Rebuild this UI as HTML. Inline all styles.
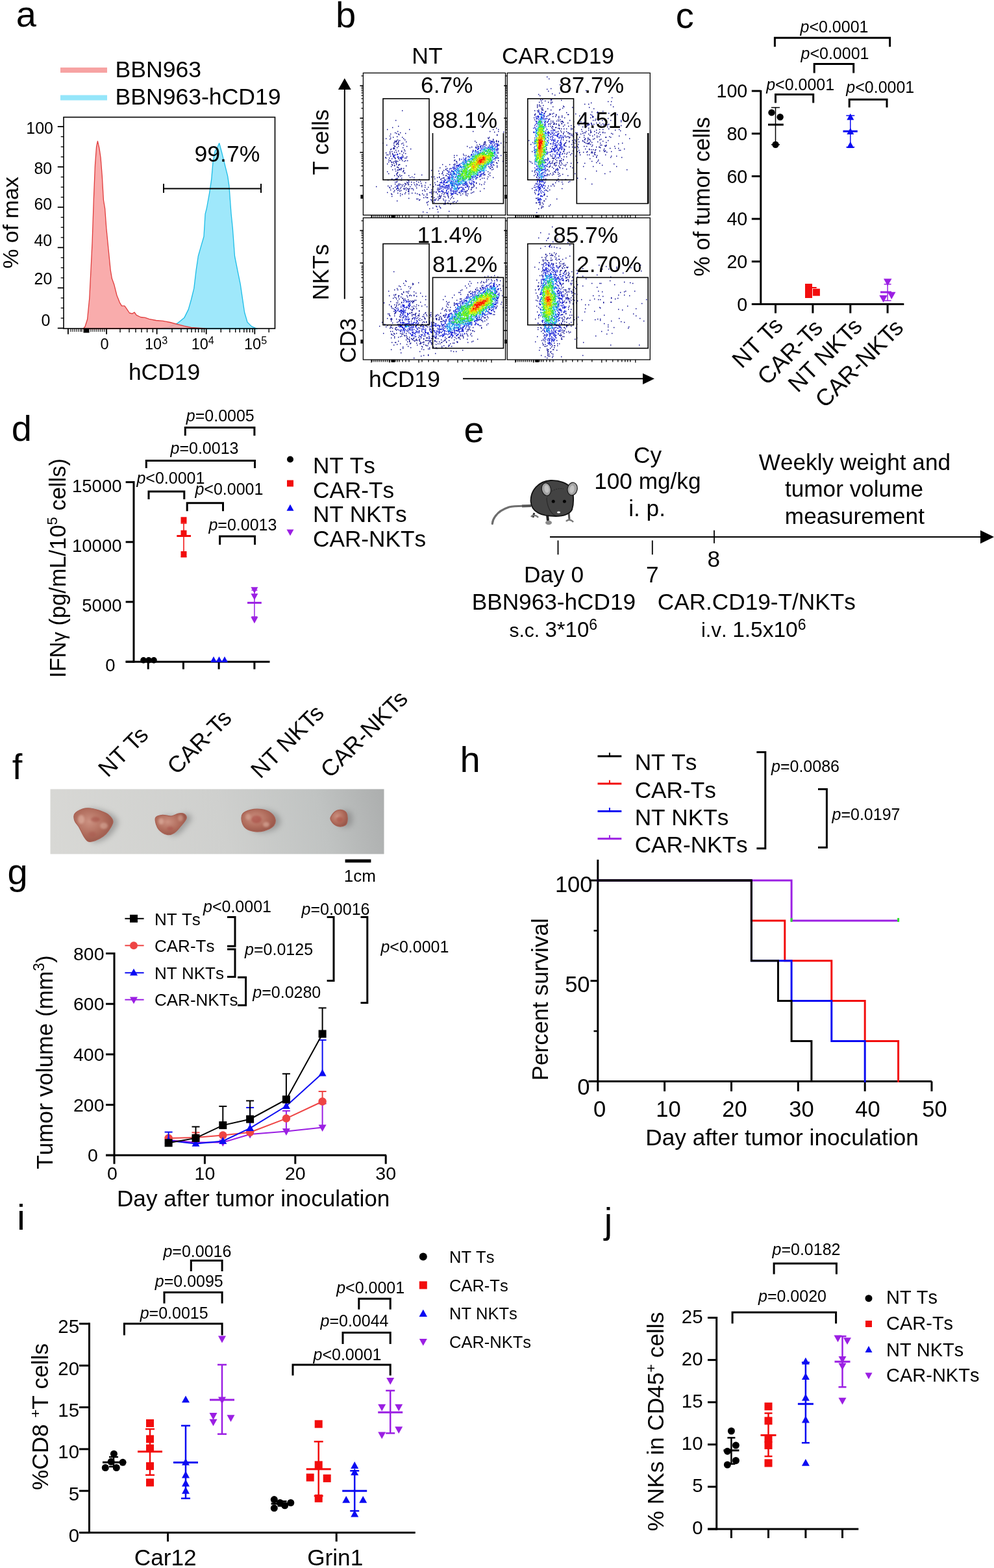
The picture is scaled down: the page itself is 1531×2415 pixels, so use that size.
<!DOCTYPE html>
<html><head><meta charset="utf-8"><style>
html,body{margin:0;padding:0;background:#fff;}
svg{display:block;}
text{font-family:"Liberation Sans", Arial, sans-serif;font-kerning:none;}
</style></head><body>
<svg width="1531" height="2415" viewBox="0 0 1531 2415">
<rect width="1531" height="2415" fill="#fff"/>
<text x="24.7" y="40.8" font-size="56" text-anchor="start" fill="#000">a</text>
<text x="516.9" y="41.5" font-size="56" text-anchor="start" fill="#000">b</text>
<text x="1040.8" y="42.7" font-size="56" text-anchor="start" fill="#000">c</text>
<text x="17.8" y="678.7" font-size="56" text-anchor="start" fill="#000">d</text>
<text x="714.6" y="680.5" font-size="56" text-anchor="start" fill="#000">e</text>
<text x="18.7" y="1200.0" font-size="56" text-anchor="start" fill="#000">f</text>
<text x="11.5" y="1362.0" font-size="56" text-anchor="start" fill="#000">g</text>
<text x="708.5" y="1188.7" font-size="56" text-anchor="start" fill="#000">h</text>
<text x="26.2" y="1893.7" font-size="56" text-anchor="start" fill="#000">i</text>
<text x="930.7" y="1899.0" font-size="56" text-anchor="start" fill="#000">j</text>
<line x1="93.0" y1="108.0" x2="165.0" y2="108.0" stroke="#f7a3a3" stroke-width="8"/>
<line x1="93.0" y1="150.6" x2="165.0" y2="150.6" stroke="#95e6fa" stroke-width="8"/>
<text x="177.5" y="118.5" font-size="35.6" text-anchor="start" fill="#000">BBN963</text>
<text x="177.5" y="160.5" font-size="35.6" text-anchor="start" fill="#000">BBN963-hCD19</text>
<path d="M242.6 506.5 L259.9 503.6 L272.9 498.2 L283.7 489.6 L290.2 476.6 L294.5 461.5 L298.8 444.2 L302.1 416.1 L305.3 394.5 L309.6 379.4 L314.0 364.3 L316.1 329.7 L318.3 321.0 L322.6 297.3 L325.8 275.6 L328.0 249.7 L331.3 232.4 L334.5 228.1 L337.7 220.5 L341.0 232.4 L345.3 249.7 L350.7 271.3 L352.9 286.5 L356.1 329.7 L358.3 351.3 L361.5 394.5 L365.8 416.1 L370.2 437.7 L373.4 459.3 L376.6 481.0 L381.0 496.1 L387.4 502.6 L396.1 506.5Z" fill="#9fe8fb" stroke="#1cbce6" stroke-width="1.3" stroke-linejoin="round"/>
<path d="M128.1 506.5 L131.0 503.0 L134.6 491.8 L137.8 459.3 L140.0 416.0 L142.1 372.9 L144.3 308.0 L146.5 254.0 L148.6 225.9 L150.4 217.3 L152.9 228.1 L155.1 243.2 L157.3 271.3 L159.4 308.0 L161.6 321.0 L163.8 351.3 L167.0 383.7 L170.2 416.1 L172.4 429.1 L175.6 437.7 L180.0 455.0 L184.3 465.8 L187.5 471.2 L191.9 471.2 L195.1 475.6 L199.4 482.0 L203.7 483.1 L207.0 481.0 L210.2 485.3 L216.7 488.5 L223.2 489.2 L229.7 491.3 L240.5 493.5 L251.3 494.4 L262.1 496.5 L272.9 499.3 L283.7 502.1 L294.5 504.3 L305.3 505.2 L316.1 506.0Z" fill="rgba(248,160,160,0.88)" stroke="#e03c3c" stroke-width="1.3" stroke-linejoin="round"/>
<rect x="98" y="180.5" width="325.5" height="325.5" fill="none" stroke="#000" stroke-width="1.6"/>
<line x1="88.8" y1="195.0" x2="98.0" y2="195.0" stroke="#000" stroke-width="1.8"/>
<line x1="93.7" y1="210.5" x2="98.0" y2="210.5" stroke="#000" stroke-width="1.3"/>
<line x1="93.7" y1="226.1" x2="98.0" y2="226.1" stroke="#000" stroke-width="1.3"/>
<line x1="93.7" y1="241.6" x2="98.0" y2="241.6" stroke="#000" stroke-width="1.3"/>
<line x1="88.8" y1="257.1" x2="98.0" y2="257.1" stroke="#000" stroke-width="1.8"/>
<line x1="93.7" y1="272.6" x2="98.0" y2="272.6" stroke="#000" stroke-width="1.3"/>
<line x1="93.7" y1="288.2" x2="98.0" y2="288.2" stroke="#000" stroke-width="1.3"/>
<line x1="93.7" y1="303.7" x2="98.0" y2="303.7" stroke="#000" stroke-width="1.3"/>
<line x1="88.8" y1="319.2" x2="98.0" y2="319.2" stroke="#000" stroke-width="1.8"/>
<line x1="93.7" y1="334.7" x2="98.0" y2="334.7" stroke="#000" stroke-width="1.3"/>
<line x1="93.7" y1="350.2" x2="98.0" y2="350.2" stroke="#000" stroke-width="1.3"/>
<line x1="93.7" y1="365.8" x2="98.0" y2="365.8" stroke="#000" stroke-width="1.3"/>
<line x1="88.8" y1="381.3" x2="98.0" y2="381.3" stroke="#000" stroke-width="1.8"/>
<line x1="93.7" y1="396.8" x2="98.0" y2="396.8" stroke="#000" stroke-width="1.3"/>
<line x1="93.7" y1="412.4" x2="98.0" y2="412.4" stroke="#000" stroke-width="1.3"/>
<line x1="93.7" y1="427.9" x2="98.0" y2="427.9" stroke="#000" stroke-width="1.3"/>
<line x1="88.8" y1="443.4" x2="98.0" y2="443.4" stroke="#000" stroke-width="1.8"/>
<line x1="93.7" y1="458.9" x2="98.0" y2="458.9" stroke="#000" stroke-width="1.3"/>
<line x1="93.7" y1="474.4" x2="98.0" y2="474.4" stroke="#000" stroke-width="1.3"/>
<line x1="93.7" y1="490.0" x2="98.0" y2="490.0" stroke="#000" stroke-width="1.3"/>
<line x1="88.8" y1="505.5" x2="98.0" y2="505.5" stroke="#000" stroke-width="1.8"/>
<text x="82.0" y="206.2" font-size="25" text-anchor="end" fill="#000">100</text>
<text x="80.2" y="267.6" font-size="25" text-anchor="end" fill="#000">80</text>
<text x="80.2" y="322.9" font-size="25" text-anchor="end" fill="#000">60</text>
<text x="80.2" y="379.2" font-size="25" text-anchor="end" fill="#000">40</text>
<text x="80.4" y="438.1" font-size="25" text-anchor="end" fill="#000">20</text>
<text x="77.3" y="501.9" font-size="25" text-anchor="end" fill="#000">0</text>
<line x1="104.9" y1="506.0" x2="104.9" y2="514.7" stroke="#000" stroke-width="1.8"/>
<line x1="164.1" y1="506.0" x2="164.1" y2="514.7" stroke="#000" stroke-width="1.8"/>
<line x1="241.6" y1="506.0" x2="241.6" y2="514.7" stroke="#000" stroke-width="1.8"/>
<line x1="317.7" y1="506.0" x2="317.7" y2="514.7" stroke="#000" stroke-width="1.8"/>
<line x1="392.3" y1="506.0" x2="392.3" y2="514.7" stroke="#000" stroke-width="1.8"/>
<line x1="185.0" y1="506.0" x2="185.0" y2="512.0" stroke="#000" stroke-width="1.4"/>
<line x1="199.0" y1="506.0" x2="199.0" y2="512.0" stroke="#000" stroke-width="1.4"/>
<line x1="209.0" y1="506.0" x2="209.0" y2="512.0" stroke="#000" stroke-width="1.4"/>
<line x1="218.0" y1="506.0" x2="218.0" y2="512.0" stroke="#000" stroke-width="1.4"/>
<line x1="226.6" y1="506.0" x2="226.6" y2="512.0" stroke="#000" stroke-width="1.4"/>
<line x1="235.4" y1="506.0" x2="235.4" y2="512.0" stroke="#000" stroke-width="1.4"/>
<line x1="265.0" y1="506.0" x2="265.0" y2="512.0" stroke="#000" stroke-width="1.4"/>
<line x1="278.9" y1="506.0" x2="278.9" y2="512.0" stroke="#000" stroke-width="1.4"/>
<line x1="288.5" y1="506.0" x2="288.5" y2="512.0" stroke="#000" stroke-width="1.4"/>
<line x1="295.0" y1="506.0" x2="295.0" y2="512.0" stroke="#000" stroke-width="1.4"/>
<line x1="301.0" y1="506.0" x2="301.0" y2="512.0" stroke="#000" stroke-width="1.4"/>
<line x1="305.6" y1="506.0" x2="305.6" y2="512.0" stroke="#000" stroke-width="1.4"/>
<line x1="311.0" y1="506.0" x2="311.0" y2="512.0" stroke="#000" stroke-width="1.4"/>
<line x1="314.4" y1="506.0" x2="314.4" y2="512.0" stroke="#000" stroke-width="1.4"/>
<line x1="340.3" y1="506.0" x2="340.3" y2="512.0" stroke="#000" stroke-width="1.4"/>
<line x1="353.9" y1="506.0" x2="353.9" y2="512.0" stroke="#000" stroke-width="1.4"/>
<line x1="362.7" y1="506.0" x2="362.7" y2="512.0" stroke="#000" stroke-width="1.4"/>
<line x1="369.2" y1="506.0" x2="369.2" y2="512.0" stroke="#000" stroke-width="1.4"/>
<line x1="375.8" y1="506.0" x2="375.8" y2="512.0" stroke="#000" stroke-width="1.4"/>
<line x1="380.2" y1="506.0" x2="380.2" y2="512.0" stroke="#000" stroke-width="1.4"/>
<line x1="384.6" y1="506.0" x2="384.6" y2="512.0" stroke="#000" stroke-width="1.4"/>
<line x1="389.0" y1="506.0" x2="389.0" y2="512.0" stroke="#000" stroke-width="1.4"/>
<line x1="414.2" y1="506.0" x2="414.2" y2="512.0" stroke="#000" stroke-width="1.4"/>
<line x1="109.0" y1="506.0" x2="109.0" y2="511.0" stroke="#000" stroke-width="1.1"/>
<line x1="112.0" y1="506.0" x2="112.0" y2="511.0" stroke="#000" stroke-width="1.1"/>
<line x1="115.0" y1="506.0" x2="115.0" y2="511.0" stroke="#000" stroke-width="1.1"/>
<line x1="118.0" y1="506.0" x2="118.0" y2="511.0" stroke="#000" stroke-width="1.1"/>
<line x1="121.0" y1="506.0" x2="121.0" y2="511.0" stroke="#000" stroke-width="1.1"/>
<line x1="124.0" y1="506.0" x2="124.0" y2="511.0" stroke="#000" stroke-width="1.1"/>
<line x1="126.0" y1="506.0" x2="126.0" y2="511.0" stroke="#000" stroke-width="1.1"/>
<line x1="140.0" y1="506.0" x2="140.0" y2="511.0" stroke="#000" stroke-width="1.1"/>
<line x1="143.0" y1="506.0" x2="143.0" y2="511.0" stroke="#000" stroke-width="1.1"/>
<line x1="146.0" y1="506.0" x2="146.0" y2="511.0" stroke="#000" stroke-width="1.1"/>
<line x1="149.0" y1="506.0" x2="149.0" y2="511.0" stroke="#000" stroke-width="1.1"/>
<line x1="152.0" y1="506.0" x2="152.0" y2="511.0" stroke="#000" stroke-width="1.1"/>
<line x1="155.0" y1="506.0" x2="155.0" y2="511.0" stroke="#000" stroke-width="1.1"/>
<line x1="158.0" y1="506.0" x2="158.0" y2="511.0" stroke="#000" stroke-width="1.1"/>
<line x1="161.0" y1="506.0" x2="161.0" y2="511.0" stroke="#000" stroke-width="1.1"/>
<rect x="128.5" y="506" width="9" height="6.5" fill="#000"/>
<text x="161.0" y="537.8" font-size="23.5" text-anchor="middle" fill="#000">0</text>
<text x="223.0" y="537.8" font-size="23.5" text-anchor="start" fill="#000">10<tspan font-size="16" dy="-8">3</tspan></text>
<text x="294.7" y="537.8" font-size="23.5" text-anchor="start" fill="#000">10<tspan font-size="16" dy="-8">4</tspan></text>
<text x="376.0" y="537.8" font-size="23.5" text-anchor="start" fill="#000">10<tspan font-size="16" dy="-8">5</tspan></text>
<text x="253.0" y="585.0" font-size="35.4" text-anchor="middle" fill="#000">hCD19</text>
<line x1="252.0" y1="290.4" x2="402.0" y2="290.4" stroke="#000" stroke-width="2"/>
<line x1="252.0" y1="283.0" x2="252.0" y2="297.0" stroke="#000" stroke-width="2"/>
<line x1="402.0" y1="283.0" x2="402.0" y2="297.0" stroke="#000" stroke-width="2"/>
<text x="350.0" y="248.8" font-size="35.6" text-anchor="middle" fill="#000">99.7%</text>
<text x="0.0" y="0.0" font-size="34" text-anchor="middle" fill="#000" transform="translate(27.5,343.0) rotate(-90)">% of max</text>
<path d="M579 287.5h1.4M589 220.5h1.4M593 242.5h1.4M594 213.5h1.4M594 235.5h1.4M594 243.5h1.4M595 223.5h1.4M595 238.5h1.4M596 199.5h1.4M596 252.5h1.4M596 264.5h1.4M596 296.5h1.4M597 238.5h1.4M597 277.5h1.4M597 286.5h1.4M598 246.5h1.4M598 249.5h1.4M598 267.5h1.4M599 243.5h1.4M599 288.5h1.4M600 209.5h1.4M600 214.5h1.4M600 233.5h1.4M600 235.5h1.4M600 237.5h1.4M600 247.5h1.4M600 289.5h1.4M601 206.5h1.4M601 212.5h1.4M601 230.5h1.4M601 240.5h1.4M601 247.5h1.4M601 292.5h1.4M602 229.5h1.4M602 249.5h1.4M602 256.5h1.4M602 286.5h1.4M602 298.5h1.4M603 233.5h1.4M603 244.5h1.4M603 250.5h1.4M603 253.5h1.4M603 275.5h1.4M603 276.5h1.4M603 299.5h1.4M603 302.5h1.4M604 196.5h1.4M604 236.5h1.4M604 237.5h1.4M604 254.5h1.4M604 261.5h1.4M605 211.5h1.4M605 228.5h1.4M605 238.5h1.4M605 249.5h1.4M605 290.5h1.4M606 220.5h1.4M606 223.5h1.4M606 227.5h1.4M606 229.5h1.4M606 251.5h1.4M606 277.5h1.4M606 295.5h1.4M607 217.5h1.4M607 219.5h1.4M607 225.5h1.4M607 228.5h1.4M607 234.5h1.4M607 242.5h1.4M607 248.5h1.4M607 254.5h1.4M607 255.5h1.4M607 270.5h1.4M607 293.5h1.4M608 204.5h1.4M608 225.5h1.4M608 238.5h1.4M608 243.5h1.4M608 244.5h1.4M608 260.5h1.4M608 276.5h1.4M608 280.5h1.4M608 283.5h1.4M608 288.5h1.4M609 185.5h1.4M609 217.5h1.4M609 218.5h1.4M609 231.5h1.4M609 247.5h1.4M609 249.5h1.4M609 250.5h1.4M609 263.5h1.4M609 275.5h1.4M610 205.5h1.4M610 216.5h1.4M610 218.5h1.4M610 221.5h1.4M610 222.5h1.4M610 234.5h1.4M610 248.5h1.4M610 251.5h1.4M610 253.5h1.4M610 268.5h1.4M610 276.5h1.4M610 280.5h1.4M610 286.5h1.4M610 291.5h1.4M611 210.5h1.4M611 227.5h1.4M611 257.5h1.4M611 266.5h1.4M611 267.5h1.4M611 270.5h1.4M611 274.5h1.4M611 275.5h1.4M611 276.5h1.4M611 279.5h1.4M611 290.5h1.4M611 309.5h1.4M612 202.5h1.4M612 215.5h1.4M612 220.5h1.4M612 221.5h1.4M612 242.5h1.4M612 248.5h1.4M612 257.5h1.4M612 261.5h1.4M612 262.5h1.4M612 265.5h1.4M612 285.5h1.4M612 293.5h1.4M612 297.5h1.4M613 194.5h1.4M613 206.5h1.4M613 217.5h1.4M613 219.5h1.4M613 222.5h1.4M613 225.5h1.4M613 232.5h1.4M613 244.5h1.4M613 254.5h1.4M613 258.5h1.4M613 271.5h1.4M613 272.5h1.4M613 283.5h1.4M613 290.5h1.4M614 207.5h1.4M614 253.5h1.4M614 261.5h1.4M614 285.5h1.4M614 292.5h1.4M615 216.5h1.4M615 236.5h1.4M615 246.5h1.4M615 253.5h1.4M615 260.5h1.4M615 261.5h1.4M615 269.5h1.4M615 283.5h1.4M615 294.5h1.4M616 204.5h1.4M616 271.5h1.4M616 290.5h1.4M616 298.5h1.4M616 301.5h1.4M617 244.5h1.4M617 259.5h1.4M617 261.5h1.4M617 277.5h1.4M617 284.5h1.4M617 288.5h1.4M617 293.5h1.4M618 221.5h1.4M618 232.5h1.4M618 233.5h1.4M618 245.5h1.4M618 259.5h1.4M618 270.5h1.4M618 274.5h1.4M618 277.5h1.4M619 170.5h1.4M619 211.5h1.4M619 238.5h1.4M619 247.5h1.4M619 286.5h1.4M619 299.5h1.4M620 220.5h1.4M620 227.5h1.4M620 240.5h1.4M620 242.5h1.4M620 264.5h1.4M620 284.5h1.4M621 213.5h1.4M621 223.5h1.4M621 235.5h1.4M621 259.5h1.4M621 262.5h1.4M621 263.5h1.4M621 290.5h1.4M622 230.5h1.4M622 248.5h1.4M622 266.5h1.4M622 287.5h1.4M622 291.5h1.4M623 215.5h1.4M623 232.5h1.4M623 243.5h1.4M623 266.5h1.4M623 282.5h1.4M623 285.5h1.4M623 290.5h1.4M623 298.5h1.4M624 205.5h1.4M624 236.5h1.4M624 247.5h1.4M624 283.5h1.4M624 296.5h1.4M625 218.5h1.4M625 243.5h1.4M625 255.5h1.4M625 283.5h1.4M625 289.5h1.4M625 292.5h1.4M626 225.5h1.4M626 241.5h1.4M626 280.5h1.4M627 247.5h1.4M627 277.5h1.4M627 281.5h1.4M627 290.5h1.4M628 277.5h1.4M628 282.5h1.4M628 284.5h1.4M628 291.5h1.4M628 294.5h1.4M629 270.5h1.4M629 278.5h1.4M629 280.5h1.4M629 284.5h1.4M629 291.5h1.4M629 293.5h1.4M629 295.5h1.4M629 298.5h1.4M629 305.5h1.4M630 199.5h1.4M630 290.5h1.4M631 273.5h1.4M631 287.5h1.4M632 229.5h1.4M633 280.5h1.4M633 284.5h1.4M633 290.5h1.4M634 272.5h1.4M634 297.5h1.4M635 290.5h1.4M636 292.5h1.4M637 273.5h1.4M637 276.5h1.4M637 281.5h1.4M638 268.5h1.4M638 284.5h1.4M639 297.5h1.4M640 286.5h1.4M641 279.5h1.4M641 283.5h1.4M641 289.5h1.4M641 306.5h1.4M642 284.5h1.4M642 298.5h1.4M643 306.5h1.4M644 280.5h1.4M645 276.5h1.4M645 285.5h1.4M645 299.5h1.4M645 308.5h1.4M646 300.5h1.4M646 307.5h1.4M647 279.5h1.4M648 282.5h1.4M649 269.5h1.4M649 285.5h1.4M649 287.5h1.4M650 293.5h1.4M650 298.5h1.4M651 326.5h1.4M652 300.5h1.4M652 304.5h1.4M653 292.5h1.4M654 285.5h1.4M654 288.5h1.4M654 294.5h1.4M655 281.5h1.4M655 303.5h1.4M657 291.5h1.4M657 298.5h1.4M657 300.5h1.4M657 304.5h1.4M657 311.5h1.4M657 312.5h1.4M657 327.5h1.4M658 304.5h1.4M658 315.5h1.4M659 288.5h1.4M659 310.5h1.4M661 296.5h1.4M661 321.5h1.4M662 284.5h1.4M663 296.5h1.4M663 307.5h1.4M664 262.5h1.4M664 272.5h1.4M664 292.5h1.4M664 295.5h1.4M664 298.5h1.4M664 302.5h1.4M664 303.5h1.4M664 308.5h1.4M665 310.5h1.4M666 297.5h1.4M666 320.5h1.4M667 287.5h1.4M668 272.5h1.4M668 295.5h1.4M668 304.5h1.4M668 308.5h1.4M668 311.5h1.4M669 275.5h1.4M669 281.5h1.4M669 307.5h1.4M670 284.5h1.4M670 308.5h1.4M671 295.5h1.4M671 296.5h1.4M671 306.5h1.4M671 317.5h1.4M672 318.5h1.4M673 273.5h1.4M673 279.5h1.4M673 285.5h1.4M673 291.5h1.4M673 298.5h1.4M673 322.5h1.4M674 289.5h1.4M674 293.5h1.4M674 303.5h1.4M674 308.5h1.4M674 326.5h1.4M675 263.5h1.4M675 285.5h1.4M675 291.5h1.4M675 295.5h1.4M675 306.5h1.4M676 267.5h1.4M676 272.5h1.4M676 273.5h1.4M676 284.5h1.4M676 291.5h1.4M676 300.5h1.4M676 302.5h1.4M676 305.5h1.4M676 317.5h1.4M677 258.5h1.4M677 302.5h1.4M677 305.5h1.4M677 319.5h1.4M678 276.5h1.4M678 302.5h1.4M678 304.5h1.4M678 320.5h1.4M679 275.5h1.4M679 301.5h1.4M680 267.5h1.4M680 298.5h1.4M681 253.5h1.4M681 264.5h1.4M681 266.5h1.4M681 274.5h1.4M682 269.5h1.4M682 296.5h1.4M682 306.5h1.4M683 262.5h1.4M683 273.5h1.4M683 274.5h1.4M683 299.5h1.4M683 302.5h1.4M683 308.5h1.4M683 314.5h1.4M684 297.5h1.4M685 296.5h1.4M685 303.5h1.4M685 310.5h1.4M685 312.5h1.4M685 314.5h1.4M686 256.5h1.4M686 260.5h1.4M686 261.5h1.4M686 270.5h1.4M686 308.5h1.4M687 270.5h1.4M688 259.5h1.4M688 262.5h1.4M688 267.5h1.4M689 299.5h1.4M689 301.5h1.4M689 312.5h1.4M690 302.5h1.4M690 304.5h1.4M690 313.5h1.4M691 309.5h1.4M691 325.5h1.4M692 253.5h1.4M693 259.5h1.4M693 306.5h1.4M693 314.5h1.4M694 300.5h1.4M694 313.5h1.4M695 304.5h1.4M696 302.5h1.4M697 311.5h1.4M698 253.5h1.4M698 305.5h1.4M698 313.5h1.4M699 239.5h1.4M699 242.5h1.4M699 247.5h1.4M699 310.5h1.4M700 246.5h1.4M700 252.5h1.4M700 253.5h1.4M702 248.5h1.4M702 298.5h1.4M702 311.5h1.4M703 239.5h1.4M703 249.5h1.4M704 299.5h1.4M704 309.5h1.4M707 244.5h1.4M707 246.5h1.4M707 296.5h1.4M708 297.5h1.4M709 300.5h1.4M712 298.5h1.4M713 237.5h1.4M714 239.5h1.4M716 294.5h1.4M716 295.5h1.4M717 239.5h1.4M717 296.5h1.4M717 298.5h1.4M717 300.5h1.4M718 294.5h1.4M719 225.5h1.4M719 293.5h1.4M719 301.5h1.4M720 241.5h1.4M720 298.5h1.4M721 240.5h1.4M721 291.5h1.4M722 287.5h1.4M723 227.5h1.4M725 284.5h1.4M725 291.5h1.4M725 292.5h1.4M725 297.5h1.4M726 226.5h1.4M726 288.5h1.4M726 289.5h1.4M727 296.5h1.4M728 202.5h1.4M728 231.5h1.4M728 288.5h1.4M729 284.5h1.4M729 286.5h1.4M729 295.5h1.4M730 286.5h1.4M731 217.5h1.4M732 226.5h1.4M733 219.5h1.4M733 281.5h1.4M733 282.5h1.4M733 289.5h1.4M734 223.5h1.4M734 226.5h1.4M736 225.5h1.4M736 226.5h1.4M738 222.5h1.4M738 283.5h1.4M739 276.5h1.4M739 294.5h1.4M740 194.5h1.4M741 284.5h1.4M742 274.5h1.4M744 222.5h1.4M744 269.5h1.4M745 219.5h1.4M745 221.5h1.4M745 274.5h1.4M745 283.5h1.4M745 290.5h1.4M746 218.5h1.4M746 222.5h1.4M746 268.5h1.4M746 269.5h1.4M746 280.5h1.4M747 218.5h1.4M747 220.5h1.4M748 223.5h1.4M750 275.5h1.4M751 212.5h1.4M751 264.5h1.4M751 272.5h1.4M752 213.5h1.4M752 216.5h1.4M752 268.5h1.4M753 211.5h1.4M754 202.5h1.4M754 216.5h1.4M754 266.5h1.4M754 270.5h1.4M755 259.5h1.4M757 257.5h1.4M757 261.5h1.4M758 257.5h1.4M759 199.5h1.4M759 214.5h1.4M759 215.5h1.4M759 217.5h1.4M759 260.5h1.4M759 273.5h1.4M760 249.5h1.4M760 254.5h1.4M761 203.5h1.4M764 197.5h1.4M764 216.5h1.4M764 217.5h1.4M764 218.5h1.4M764 250.5h1.4M765 207.5h1.4M765 208.5h1.4M765 251.5h1.4M765 255.5h1.4M765 257.5h1.4M767 199.5h1.4M767 202.5h1.4M767 217.5h1.4M767 218.5h1.4M767 223.5h1.4M767 229.5h1.4M767 235.5h1.4M767 243.5h1.4M767 247.5h1.4M768 223.5h1.4M771 220.5h1.4M771 239.5h1.4M774 248.5h1.4M775 203.5h1.4M775 218.5h1.4M775 226.5h1.4" stroke="#00008c" stroke-width="1.3" fill="none"/>
<path d="M605 239.5h1.4M605 241.5h1.4M606 240.5h1.4M606 241.5h1.4M607 239.5h1.4M611 237.5h1.4M611 238.5h1.4M611 286.5h1.4M611 289.5h1.4M612 237.5h1.4M612 241.5h1.4M612 287.5h1.4M612 289.5h1.4M613 241.5h1.4M614 243.5h1.4M616 242.5h1.4M616 243.5h1.4M617 243.5h1.4M618 241.5h1.4M618 242.5h1.4M618 243.5h1.4M676 294.5h1.4M677 281.5h1.4M677 284.5h1.4M677 285.5h1.4M677 287.5h1.4M677 289.5h1.4M677 291.5h1.4M677 295.5h1.4M678 281.5h1.4M678 287.5h1.4M679 280.5h1.4M679 281.5h1.4M679 290.5h1.4M679 294.5h1.4M680 278.5h1.4M680 281.5h1.4M680 286.5h1.4M680 287.5h1.4M680 288.5h1.4M680 293.5h1.4M680 294.5h1.4M681 286.5h1.4M681 295.5h1.4M682 281.5h1.4M682 283.5h1.4M682 288.5h1.4M682 291.5h1.4M682 294.5h1.4M683 278.5h1.4M683 279.5h1.4M683 280.5h1.4M683 284.5h1.4M683 287.5h1.4M684 276.5h1.4M684 279.5h1.4M684 281.5h1.4M684 284.5h1.4M684 289.5h1.4M685 277.5h1.4M685 287.5h1.4M685 289.5h1.4M686 277.5h1.4M686 281.5h1.4M686 286.5h1.4M686 289.5h1.4M687 280.5h1.4M687 285.5h1.4M687 286.5h1.4M687 289.5h1.4M687 292.5h1.4M687 293.5h1.4M687 294.5h1.4M687 296.5h1.4M687 298.5h1.4M688 275.5h1.4M688 280.5h1.4M688 281.5h1.4M688 286.5h1.4M688 288.5h1.4M688 297.5h1.4M689 263.5h1.4M689 272.5h1.4M689 278.5h1.4M689 285.5h1.4M689 288.5h1.4M689 290.5h1.4M689 291.5h1.4M689 297.5h1.4M689 298.5h1.4M690 265.5h1.4M690 268.5h1.4M690 272.5h1.4M690 274.5h1.4M690 275.5h1.4M690 286.5h1.4M690 295.5h1.4M691 263.5h1.4M691 265.5h1.4M691 268.5h1.4M691 273.5h1.4M691 274.5h1.4M691 277.5h1.4M691 284.5h1.4M691 285.5h1.4M691 287.5h1.4M691 288.5h1.4M691 290.5h1.4M692 260.5h1.4M692 270.5h1.4M692 272.5h1.4M692 274.5h1.4M692 275.5h1.4M693 265.5h1.4M693 268.5h1.4M693 280.5h1.4M693 281.5h1.4M693 291.5h1.4M693 293.5h1.4M693 297.5h1.4M694 267.5h1.4M694 268.5h1.4M694 273.5h1.4M694 278.5h1.4M694 281.5h1.4M694 283.5h1.4M694 285.5h1.4M694 290.5h1.4M694 294.5h1.4M695 259.5h1.4M695 262.5h1.4M695 263.5h1.4M695 264.5h1.4M695 270.5h1.4M695 274.5h1.4M695 282.5h1.4M695 288.5h1.4M695 292.5h1.4M695 297.5h1.4M695 298.5h1.4M695 299.5h1.4M696 270.5h1.4M696 275.5h1.4M696 276.5h1.4M696 279.5h1.4M696 282.5h1.4M696 284.5h1.4M696 285.5h1.4M696 286.5h1.4M696 289.5h1.4M696 294.5h1.4M696 298.5h1.4M696 299.5h1.4M697 257.5h1.4M697 258.5h1.4M697 263.5h1.4M697 264.5h1.4M697 272.5h1.4M697 273.5h1.4M697 282.5h1.4M697 284.5h1.4M697 298.5h1.4M698 260.5h1.4M698 264.5h1.4M698 265.5h1.4M698 267.5h1.4M698 281.5h1.4M698 290.5h1.4M698 293.5h1.4M698 295.5h1.4M698 296.5h1.4M698 298.5h1.4M699 255.5h1.4M699 257.5h1.4M699 258.5h1.4M699 259.5h1.4M699 260.5h1.4M699 266.5h1.4M699 276.5h1.4M699 283.5h1.4M699 285.5h1.4M699 287.5h1.4M699 294.5h1.4M700 262.5h1.4M700 267.5h1.4M700 268.5h1.4M700 273.5h1.4M700 282.5h1.4M700 289.5h1.4M700 291.5h1.4M700 297.5h1.4M701 259.5h1.4M701 272.5h1.4M701 279.5h1.4M701 283.5h1.4M701 294.5h1.4M701 295.5h1.4M701 297.5h1.4M702 255.5h1.4M702 257.5h1.4M702 260.5h1.4M702 268.5h1.4M702 279.5h1.4M702 283.5h1.4M702 290.5h1.4M702 291.5h1.4M702 293.5h1.4M703 251.5h1.4M703 254.5h1.4M703 267.5h1.4M703 274.5h1.4M703 284.5h1.4M703 290.5h1.4M703 295.5h1.4M704 255.5h1.4M704 258.5h1.4M704 259.5h1.4M704 285.5h1.4M704 287.5h1.4M704 288.5h1.4M704 293.5h1.4M705 254.5h1.4M705 255.5h1.4M705 256.5h1.4M705 289.5h1.4M705 291.5h1.4M706 254.5h1.4M706 263.5h1.4M706 267.5h1.4M706 278.5h1.4M706 290.5h1.4M706 296.5h1.4M707 253.5h1.4M707 254.5h1.4M707 283.5h1.4M707 289.5h1.4M708 252.5h1.4M708 256.5h1.4M708 257.5h1.4M708 284.5h1.4M708 288.5h1.4M708 294.5h1.4M709 255.5h1.4M709 261.5h1.4M710 245.5h1.4M710 257.5h1.4M710 288.5h1.4M710 293.5h1.4M710 295.5h1.4M711 278.5h1.4M711 282.5h1.4M711 288.5h1.4M711 292.5h1.4M711 294.5h1.4M712 249.5h1.4M712 278.5h1.4M712 284.5h1.4M712 290.5h1.4M712 291.5h1.4M712 294.5h1.4M713 243.5h1.4M713 246.5h1.4M713 278.5h1.4M713 279.5h1.4M713 285.5h1.4M713 289.5h1.4M714 249.5h1.4M714 282.5h1.4M714 283.5h1.4M714 291.5h1.4M714 292.5h1.4M714 295.5h1.4M715 245.5h1.4M715 279.5h1.4M715 285.5h1.4M716 244.5h1.4M716 246.5h1.4M716 247.5h1.4M716 249.5h1.4M716 280.5h1.4M716 281.5h1.4M716 282.5h1.4M716 283.5h1.4M716 288.5h1.4M717 242.5h1.4M717 244.5h1.4M717 247.5h1.4M717 250.5h1.4M717 280.5h1.4M717 283.5h1.4M717 284.5h1.4M717 288.5h1.4M718 248.5h1.4M718 280.5h1.4M718 282.5h1.4M718 285.5h1.4M719 283.5h1.4M719 286.5h1.4M719 287.5h1.4M720 285.5h1.4M720 287.5h1.4M721 245.5h1.4M721 289.5h1.4M722 245.5h1.4M722 280.5h1.4M723 241.5h1.4M723 277.5h1.4M723 282.5h1.4M724 244.5h1.4M724 276.5h1.4M724 282.5h1.4M725 238.5h1.4M725 239.5h1.4M725 272.5h1.4M725 275.5h1.4M725 283.5h1.4M726 237.5h1.4M726 238.5h1.4M726 272.5h1.4M726 278.5h1.4M726 281.5h1.4M726 282.5h1.4M727 234.5h1.4M727 244.5h1.4M727 272.5h1.4M728 232.5h1.4M728 233.5h1.4M728 273.5h1.4M728 276.5h1.4M728 279.5h1.4M728 283.5h1.4M729 237.5h1.4M729 271.5h1.4M729 279.5h1.4M729 281.5h1.4M730 280.5h1.4M731 232.5h1.4M731 233.5h1.4M731 234.5h1.4M731 272.5h1.4M732 227.5h1.4M732 231.5h1.4M732 232.5h1.4M732 271.5h1.4M732 275.5h1.4M733 228.5h1.4M733 273.5h1.4M733 275.5h1.4M734 233.5h1.4M734 234.5h1.4M734 269.5h1.4M734 273.5h1.4M735 229.5h1.4M735 230.5h1.4M735 268.5h1.4M735 270.5h1.4M735 273.5h1.4M736 228.5h1.4M736 229.5h1.4M736 235.5h1.4M736 266.5h1.4M736 269.5h1.4M737 228.5h1.4M737 235.5h1.4M738 265.5h1.4M738 271.5h1.4M738 272.5h1.4M739 225.5h1.4M739 226.5h1.4M739 231.5h1.4M739 235.5h1.4M739 264.5h1.4M739 265.5h1.4M739 268.5h1.4M739 269.5h1.4M739 270.5h1.4M740 224.5h1.4M740 226.5h1.4M740 228.5h1.4M740 264.5h1.4M740 271.5h1.4M741 267.5h1.4M741 268.5h1.4M741 269.5h1.4M742 224.5h1.4M742 228.5h1.4M743 226.5h1.4M743 267.5h1.4M744 224.5h1.4M744 261.5h1.4M744 262.5h1.4M744 266.5h1.4M744 267.5h1.4M745 229.5h1.4M745 230.5h1.4M745 263.5h1.4M745 265.5h1.4M746 225.5h1.4M746 229.5h1.4M746 258.5h1.4M748 227.5h1.4M749 254.5h1.4M750 228.5h1.4M751 226.5h1.4M751 252.5h1.4M752 227.5h1.4M752 256.5h1.4M753 223.5h1.4M753 225.5h1.4M753 229.5h1.4M753 257.5h1.4M754 218.5h1.4M754 219.5h1.4M754 227.5h1.4M754 259.5h1.4M755 220.5h1.4M755 221.5h1.4M755 227.5h1.4M755 253.5h1.4M755 256.5h1.4M756 217.5h1.4M756 218.5h1.4M756 224.5h1.4M756 226.5h1.4M756 249.5h1.4M756 251.5h1.4M756 254.5h1.4M757 217.5h1.4M757 219.5h1.4M757 221.5h1.4M757 227.5h1.4M757 251.5h1.4M757 254.5h1.4M758 218.5h1.4M758 223.5h1.4M758 226.5h1.4M758 227.5h1.4M758 228.5h1.4M758 230.5h1.4M758 232.5h1.4M758 242.5h1.4M758 249.5h1.4M758 250.5h1.4M759 225.5h1.4M759 245.5h1.4M759 253.5h1.4M760 219.5h1.4M760 220.5h1.4M760 229.5h1.4M761 218.5h1.4M761 222.5h1.4M761 224.5h1.4M761 234.5h1.4M761 235.5h1.4M761 237.5h1.4M761 240.5h1.4M761 244.5h1.4M762 227.5h1.4M762 230.5h1.4M762 235.5h1.4M762 243.5h1.4M762 246.5h1.4M763 221.5h1.4M763 225.5h1.4M763 238.5h1.4M763 242.5h1.4M763 243.5h1.4M764 221.5h1.4M764 230.5h1.4M764 232.5h1.4M764 243.5h1.4M765 222.5h1.4M765 224.5h1.4M765 225.5h1.4M765 227.5h1.4M765 229.5h1.4M765 230.5h1.4M765 235.5h1.4M765 239.5h1.4M765 241.5h1.4M766 221.5h1.4M766 223.5h1.4M766 224.5h1.4M766 229.5h1.4M766 232.5h1.4M766 235.5h1.4M766 243.5h1.4" stroke="#0a14d2" stroke-width="1.3" fill="none"/>
<path d="M689 279.5h1.4M691 279.5h1.4M692 277.5h1.4M693 280.5h1.4M693 282.5h1.4M694 282.5h1.4M695 269.5h1.4M695 271.5h1.4M695 273.5h1.4M695 279.5h1.4M695 280.5h1.4M695 281.5h1.4M695 286.5h1.4M696 282.5h1.4M697 268.5h1.4M697 274.5h1.4M697 285.5h1.4M698 268.5h1.4M698 271.5h1.4M698 278.5h1.4M698 279.5h1.4M699 266.5h1.4M699 267.5h1.4M700 273.5h1.4M700 280.5h1.4M700 283.5h1.4M700 288.5h1.4M701 262.5h1.4M701 277.5h1.4M701 290.5h1.4M702 261.5h1.4M702 263.5h1.4M702 264.5h1.4M702 269.5h1.4M702 278.5h1.4M702 279.5h1.4M702 281.5h1.4M702 290.5h1.4M703 265.5h1.4M703 271.5h1.4M703 274.5h1.4M703 288.5h1.4M704 259.5h1.4M704 261.5h1.4M704 262.5h1.4M704 271.5h1.4M704 277.5h1.4M704 278.5h1.4M704 279.5h1.4M704 282.5h1.4M705 262.5h1.4M705 269.5h1.4M705 271.5h1.4M705 272.5h1.4M705 273.5h1.4M705 274.5h1.4M705 276.5h1.4M705 277.5h1.4M705 278.5h1.4M705 279.5h1.4M705 280.5h1.4M705 282.5h1.4M705 284.5h1.4M706 256.5h1.4M706 260.5h1.4M706 264.5h1.4M706 266.5h1.4M706 279.5h1.4M706 283.5h1.4M706 285.5h1.4M707 262.5h1.4M707 263.5h1.4M707 266.5h1.4M707 267.5h1.4M707 269.5h1.4M707 271.5h1.4M707 275.5h1.4M707 276.5h1.4M707 282.5h1.4M708 256.5h1.4M708 269.5h1.4M708 274.5h1.4M708 279.5h1.4M709 256.5h1.4M709 268.5h1.4M709 271.5h1.4M709 273.5h1.4M710 251.5h1.4M710 258.5h1.4M710 263.5h1.4M710 264.5h1.4M710 279.5h1.4M711 251.5h1.4M711 257.5h1.4M711 260.5h1.4M711 263.5h1.4M711 265.5h1.4M711 272.5h1.4M711 276.5h1.4M712 273.5h1.4M712 274.5h1.4M712 275.5h1.4M713 249.5h1.4M713 252.5h1.4M713 253.5h1.4M713 256.5h1.4M713 257.5h1.4M713 276.5h1.4M714 252.5h1.4M714 255.5h1.4M714 256.5h1.4M714 259.5h1.4M714 275.5h1.4M714 277.5h1.4M715 251.5h1.4M715 252.5h1.4M715 253.5h1.4M715 257.5h1.4M715 259.5h1.4M716 249.5h1.4M716 276.5h1.4M718 249.5h1.4M718 252.5h1.4M718 255.5h1.4M718 280.5h1.4M719 246.5h1.4M719 252.5h1.4M720 277.5h1.4M721 247.5h1.4M722 242.5h1.4M722 246.5h1.4M722 273.5h1.4M722 275.5h1.4M722 276.5h1.4M723 249.5h1.4M723 275.5h1.4M724 248.5h1.4M724 250.5h1.4M725 244.5h1.4M725 270.5h1.4M725 271.5h1.4M725 272.5h1.4M726 244.5h1.4M726 247.5h1.4M727 241.5h1.4M727 245.5h1.4M727 271.5h1.4M727 274.5h1.4M728 239.5h1.4M729 241.5h1.4M729 269.5h1.4M729 270.5h1.4M730 240.5h1.4M730 243.5h1.4M731 234.5h1.4M731 267.5h1.4M732 237.5h1.4M732 270.5h1.4M734 268.5h1.4M735 236.5h1.4M736 233.5h1.4M736 235.5h1.4M736 237.5h1.4M736 263.5h1.4M737 235.5h1.4M738 261.5h1.4M738 263.5h1.4M739 235.5h1.4M740 231.5h1.4M740 233.5h1.4M740 260.5h1.4M741 230.5h1.4M742 230.5h1.4M742 262.5h1.4M742 263.5h1.4M743 233.5h1.4M743 260.5h1.4M744 229.5h1.4M744 259.5h1.4M744 262.5h1.4M744 263.5h1.4M745 227.5h1.4M745 229.5h1.4M745 234.5h1.4M745 235.5h1.4M746 256.5h1.4M746 258.5h1.4M747 231.5h1.4M747 232.5h1.4M747 233.5h1.4M747 254.5h1.4M748 228.5h1.4M748 231.5h1.4M748 232.5h1.4M748 256.5h1.4M748 262.5h1.4M750 233.5h1.4M750 252.5h1.4M751 235.5h1.4M751 252.5h1.4M752 253.5h1.4M753 248.5h1.4M754 230.5h1.4M754 233.5h1.4M754 251.5h1.4M755 229.5h1.4M756 224.5h1.4M756 226.5h1.4M756 230.5h1.4M756 231.5h1.4M757 229.5h1.4M757 247.5h1.4M757 248.5h1.4M758 225.5h1.4M758 229.5h1.4M758 236.5h1.4M758 238.5h1.4M759 230.5h1.4M759 235.5h1.4M760 235.5h1.4M761 228.5h1.4M761 231.5h1.4M761 233.5h1.4M761 240.5h1.4" stroke="#1e64f0" stroke-width="1.3" fill="none"/>
<path d="M689 280.5h1.4M694 276.5h1.4M694 281.5h1.4M694 285.5h1.4M695 274.5h1.4M695 284.5h1.4M696 267.5h1.4M696 271.5h1.4M696 274.5h1.4M696 275.5h1.4M697 265.5h1.4M697 275.5h1.4M697 277.5h1.4M697 281.5h1.4M697 287.5h1.4M698 286.5h1.4M698 290.5h1.4M699 263.5h1.4M699 269.5h1.4M699 277.5h1.4M699 282.5h1.4M699 283.5h1.4M699 291.5h1.4M700 263.5h1.4M700 283.5h1.4M700 287.5h1.4M700 288.5h1.4M700 289.5h1.4M701 271.5h1.4M701 291.5h1.4M702 270.5h1.4M702 276.5h1.4M702 280.5h1.4M702 285.5h1.4M702 291.5h1.4M702 292.5h1.4M703 266.5h1.4M703 267.5h1.4M703 274.5h1.4M703 288.5h1.4M703 289.5h1.4M704 260.5h1.4M704 264.5h1.4M704 265.5h1.4M704 272.5h1.4M704 276.5h1.4M704 280.5h1.4M704 282.5h1.4M705 259.5h1.4M705 263.5h1.4M705 266.5h1.4M705 271.5h1.4M705 274.5h1.4M705 282.5h1.4M706 271.5h1.4M706 273.5h1.4M706 281.5h1.4M707 258.5h1.4M707 264.5h1.4M708 270.5h1.4M708 272.5h1.4M708 281.5h1.4M709 257.5h1.4M709 261.5h1.4M709 273.5h1.4M709 275.5h1.4M709 280.5h1.4M709 282.5h1.4M709 283.5h1.4M710 270.5h1.4M710 281.5h1.4M711 265.5h1.4M711 269.5h1.4M711 273.5h1.4M711 278.5h1.4M711 281.5h1.4M712 250.5h1.4M712 253.5h1.4M712 256.5h1.4M712 261.5h1.4M712 264.5h1.4M712 267.5h1.4M712 268.5h1.4M712 271.5h1.4M712 275.5h1.4M712 282.5h1.4M713 251.5h1.4M713 259.5h1.4M713 264.5h1.4M713 267.5h1.4M713 272.5h1.4M713 277.5h1.4M713 279.5h1.4M714 256.5h1.4M714 259.5h1.4M714 260.5h1.4M714 262.5h1.4M714 265.5h1.4M714 275.5h1.4M714 277.5h1.4M715 247.5h1.4M715 253.5h1.4M715 256.5h1.4M715 263.5h1.4M715 264.5h1.4M715 266.5h1.4M715 279.5h1.4M715 282.5h1.4M716 257.5h1.4M716 259.5h1.4M716 263.5h1.4M716 267.5h1.4M716 272.5h1.4M716 273.5h1.4M716 275.5h1.4M717 248.5h1.4M717 251.5h1.4M717 257.5h1.4M717 260.5h1.4M717 264.5h1.4M717 265.5h1.4M717 271.5h1.4M717 272.5h1.4M717 274.5h1.4M717 278.5h1.4M718 249.5h1.4M718 253.5h1.4M718 261.5h1.4M718 264.5h1.4M718 265.5h1.4M718 266.5h1.4M718 267.5h1.4M718 269.5h1.4M718 275.5h1.4M719 258.5h1.4M719 260.5h1.4M719 261.5h1.4M719 264.5h1.4M719 265.5h1.4M719 266.5h1.4M719 268.5h1.4M719 271.5h1.4M719 273.5h1.4M720 254.5h1.4M720 257.5h1.4M720 258.5h1.4M720 263.5h1.4M720 268.5h1.4M720 270.5h1.4M720 271.5h1.4M720 277.5h1.4M721 252.5h1.4M721 262.5h1.4M721 266.5h1.4M721 269.5h1.4M721 271.5h1.4M722 246.5h1.4M722 248.5h1.4M722 253.5h1.4M722 262.5h1.4M722 263.5h1.4M722 267.5h1.4M722 269.5h1.4M722 272.5h1.4M722 274.5h1.4M723 245.5h1.4M723 248.5h1.4M723 252.5h1.4M723 262.5h1.4M723 267.5h1.4M723 268.5h1.4M724 244.5h1.4M724 245.5h1.4M724 247.5h1.4M724 260.5h1.4M724 264.5h1.4M724 265.5h1.4M724 269.5h1.4M724 272.5h1.4M724 274.5h1.4M725 264.5h1.4M725 265.5h1.4M726 241.5h1.4M726 243.5h1.4M726 245.5h1.4M726 249.5h1.4M726 265.5h1.4M727 240.5h1.4M727 263.5h1.4M727 270.5h1.4M728 236.5h1.4M728 242.5h1.4M728 244.5h1.4M728 263.5h1.4M728 264.5h1.4M728 265.5h1.4M728 267.5h1.4M729 244.5h1.4M729 245.5h1.4M729 265.5h1.4M729 266.5h1.4M729 269.5h1.4M729 270.5h1.4M730 239.5h1.4M730 246.5h1.4M730 265.5h1.4M730 273.5h1.4M731 233.5h1.4M731 237.5h1.4M731 239.5h1.4M731 241.5h1.4M731 242.5h1.4M731 243.5h1.4M731 269.5h1.4M732 241.5h1.4M732 242.5h1.4M732 267.5h1.4M733 235.5h1.4M733 239.5h1.4M733 265.5h1.4M734 237.5h1.4M734 239.5h1.4M734 260.5h1.4M734 266.5h1.4M734 267.5h1.4M735 238.5h1.4M735 260.5h1.4M735 261.5h1.4M735 262.5h1.4M735 265.5h1.4M735 268.5h1.4M736 240.5h1.4M736 257.5h1.4M736 262.5h1.4M736 263.5h1.4M737 232.5h1.4M737 255.5h1.4M737 258.5h1.4M738 255.5h1.4M739 237.5h1.4M739 254.5h1.4M739 258.5h1.4M739 262.5h1.4M739 263.5h1.4M740 234.5h1.4M740 255.5h1.4M740 256.5h1.4M740 261.5h1.4M741 236.5h1.4M741 254.5h1.4M741 256.5h1.4M741 257.5h1.4M741 262.5h1.4M742 234.5h1.4M742 235.5h1.4M742 238.5h1.4M742 257.5h1.4M742 258.5h1.4M742 259.5h1.4M743 231.5h1.4M743 237.5h1.4M743 238.5h1.4M743 255.5h1.4M743 258.5h1.4M743 259.5h1.4M743 262.5h1.4M744 230.5h1.4M744 236.5h1.4M744 257.5h1.4M744 258.5h1.4M744 261.5h1.4M745 230.5h1.4M745 231.5h1.4M745 235.5h1.4M745 254.5h1.4M745 255.5h1.4M745 258.5h1.4M745 261.5h1.4M745 262.5h1.4M745 263.5h1.4M746 229.5h1.4M746 251.5h1.4M746 253.5h1.4M746 255.5h1.4M746 257.5h1.4M746 260.5h1.4M747 227.5h1.4M747 231.5h1.4M747 237.5h1.4M747 251.5h1.4M747 255.5h1.4M748 231.5h1.4M748 237.5h1.4M748 253.5h1.4M748 258.5h1.4M749 230.5h1.4M749 233.5h1.4M749 236.5h1.4M749 250.5h1.4M749 251.5h1.4M749 253.5h1.4M750 236.5h1.4M751 228.5h1.4M751 229.5h1.4M751 230.5h1.4M751 233.5h1.4M751 249.5h1.4M751 253.5h1.4M752 229.5h1.4M752 235.5h1.4M752 251.5h1.4M753 232.5h1.4M753 233.5h1.4M753 251.5h1.4M754 228.5h1.4M754 229.5h1.4M754 238.5h1.4M754 244.5h1.4M754 249.5h1.4M754 251.5h1.4M755 225.5h1.4M755 238.5h1.4M755 241.5h1.4M755 249.5h1.4M756 225.5h1.4M756 239.5h1.4M756 240.5h1.4M756 247.5h1.4M757 235.5h1.4M757 237.5h1.4M757 239.5h1.4M757 240.5h1.4M757 250.5h1.4M758 227.5h1.4M758 230.5h1.4M758 235.5h1.4M758 237.5h1.4M758 243.5h1.4M758 246.5h1.4M759 227.5h1.4M759 229.5h1.4M759 235.5h1.4M759 243.5h1.4M760 233.5h1.4M760 235.5h1.4M760 236.5h1.4M760 240.5h1.4M761 229.5h1.4M761 233.5h1.4M762 228.5h1.4M762 233.5h1.4M763 237.5h1.4M763 238.5h1.4M763 241.5h1.4" stroke="#1ec8f0" stroke-width="1.3" fill="none"/>
<path d="M704 273.5h1.4M705 270.5h1.4M705 275.5h1.4M705 279.5h1.4M706 270.5h1.4M706 278.5h1.4M706 279.5h1.4M707 263.5h1.4M707 266.5h1.4M707 271.5h1.4M707 275.5h1.4M708 276.5h1.4M709 264.5h1.4M709 267.5h1.4M709 270.5h1.4M709 271.5h1.4M709 274.5h1.4M709 277.5h1.4M710 268.5h1.4M711 260.5h1.4M711 263.5h1.4M711 266.5h1.4M711 267.5h1.4M711 269.5h1.4M711 275.5h1.4M712 266.5h1.4M712 273.5h1.4M712 275.5h1.4M713 263.5h1.4M713 267.5h1.4M713 271.5h1.4M713 272.5h1.4M713 274.5h1.4M714 254.5h1.4M714 256.5h1.4M714 262.5h1.4M714 263.5h1.4M714 270.5h1.4M714 271.5h1.4M714 273.5h1.4M714 274.5h1.4M714 276.5h1.4M714 277.5h1.4M715 261.5h1.4M715 264.5h1.4M715 269.5h1.4M716 253.5h1.4M716 255.5h1.4M716 257.5h1.4M716 260.5h1.4M716 262.5h1.4M716 269.5h1.4M716 275.5h1.4M717 255.5h1.4M717 259.5h1.4M717 264.5h1.4M717 265.5h1.4M717 266.5h1.4M717 267.5h1.4M717 270.5h1.4M717 271.5h1.4M717 272.5h1.4M717 273.5h1.4M718 255.5h1.4M718 259.5h1.4M718 261.5h1.4M718 263.5h1.4M718 264.5h1.4M718 265.5h1.4M718 268.5h1.4M718 272.5h1.4M718 274.5h1.4M719 251.5h1.4M719 252.5h1.4M719 253.5h1.4M719 254.5h1.4M719 255.5h1.4M719 261.5h1.4M719 264.5h1.4M719 265.5h1.4M719 269.5h1.4M720 248.5h1.4M720 253.5h1.4M720 254.5h1.4M720 256.5h1.4M720 258.5h1.4M720 271.5h1.4M720 272.5h1.4M721 252.5h1.4M721 253.5h1.4M721 258.5h1.4M721 267.5h1.4M721 268.5h1.4M721 269.5h1.4M721 276.5h1.4M722 248.5h1.4M722 261.5h1.4M722 265.5h1.4M722 266.5h1.4M722 271.5h1.4M722 272.5h1.4M723 251.5h1.4M723 252.5h1.4M723 253.5h1.4M723 254.5h1.4M723 255.5h1.4M723 261.5h1.4M723 263.5h1.4M723 265.5h1.4M723 267.5h1.4M723 272.5h1.4M723 274.5h1.4M724 248.5h1.4M724 254.5h1.4M724 260.5h1.4M724 261.5h1.4M724 263.5h1.4M724 265.5h1.4M724 266.5h1.4M724 269.5h1.4M724 270.5h1.4M724 272.5h1.4M724 274.5h1.4M725 250.5h1.4M725 252.5h1.4M725 253.5h1.4M725 254.5h1.4M725 256.5h1.4M725 259.5h1.4M725 260.5h1.4M725 268.5h1.4M726 250.5h1.4M726 252.5h1.4M726 253.5h1.4M726 255.5h1.4M726 257.5h1.4M726 266.5h1.4M727 246.5h1.4M727 250.5h1.4M727 253.5h1.4M727 255.5h1.4M727 257.5h1.4M727 258.5h1.4M727 260.5h1.4M727 263.5h1.4M727 268.5h1.4M728 240.5h1.4M728 241.5h1.4M728 245.5h1.4M728 249.5h1.4M728 251.5h1.4M728 253.5h1.4M728 260.5h1.4M728 262.5h1.4M728 264.5h1.4M729 244.5h1.4M729 246.5h1.4M729 247.5h1.4M729 248.5h1.4M729 249.5h1.4M729 250.5h1.4M729 265.5h1.4M729 266.5h1.4M729 268.5h1.4M730 243.5h1.4M730 245.5h1.4M730 246.5h1.4M730 249.5h1.4M730 250.5h1.4M730 252.5h1.4M730 261.5h1.4M730 262.5h1.4M731 240.5h1.4M731 252.5h1.4M731 253.5h1.4M731 262.5h1.4M731 266.5h1.4M731 267.5h1.4M732 239.5h1.4M732 242.5h1.4M732 249.5h1.4M732 250.5h1.4M732 254.5h1.4M732 255.5h1.4M732 256.5h1.4M732 257.5h1.4M732 258.5h1.4M732 261.5h1.4M732 262.5h1.4M733 243.5h1.4M733 247.5h1.4M733 251.5h1.4M733 253.5h1.4M733 260.5h1.4M733 261.5h1.4M733 263.5h1.4M733 268.5h1.4M734 240.5h1.4M734 260.5h1.4M734 261.5h1.4M734 262.5h1.4M734 264.5h1.4M735 238.5h1.4M735 255.5h1.4M736 241.5h1.4M736 254.5h1.4M736 256.5h1.4M736 261.5h1.4M737 237.5h1.4M737 240.5h1.4M737 257.5h1.4M737 259.5h1.4M737 262.5h1.4M738 236.5h1.4M738 237.5h1.4M738 238.5h1.4M738 239.5h1.4M738 254.5h1.4M739 259.5h1.4M740 240.5h1.4M740 256.5h1.4M741 236.5h1.4M741 252.5h1.4M741 259.5h1.4M741 261.5h1.4M742 235.5h1.4M742 236.5h1.4M742 238.5h1.4M742 240.5h1.4M742 255.5h1.4M742 257.5h1.4M743 234.5h1.4M743 235.5h1.4M743 238.5h1.4M743 252.5h1.4M743 256.5h1.4M743 257.5h1.4M743 259.5h1.4M744 236.5h1.4M744 237.5h1.4M744 254.5h1.4M745 232.5h1.4M745 234.5h1.4M745 235.5h1.4M745 236.5h1.4M745 237.5h1.4M745 250.5h1.4M745 252.5h1.4M745 253.5h1.4M746 230.5h1.4M746 236.5h1.4M746 251.5h1.4M747 233.5h1.4M747 238.5h1.4M747 241.5h1.4M747 250.5h1.4M747 256.5h1.4M748 237.5h1.4M748 238.5h1.4M748 241.5h1.4M749 232.5h1.4M749 235.5h1.4M749 244.5h1.4M749 248.5h1.4M750 232.5h1.4M750 233.5h1.4M750 240.5h1.4M750 243.5h1.4M750 245.5h1.4M751 230.5h1.4M751 244.5h1.4M751 245.5h1.4M751 250.5h1.4M751 251.5h1.4M752 230.5h1.4M752 231.5h1.4M752 232.5h1.4M752 239.5h1.4M752 240.5h1.4M752 241.5h1.4M752 243.5h1.4M752 244.5h1.4M752 245.5h1.4M752 246.5h1.4M752 249.5h1.4M753 233.5h1.4M753 235.5h1.4M753 238.5h1.4M753 239.5h1.4M753 241.5h1.4M753 242.5h1.4M753 244.5h1.4M753 246.5h1.4M753 248.5h1.4M754 230.5h1.4M754 235.5h1.4M754 238.5h1.4M754 243.5h1.4M754 244.5h1.4M754 245.5h1.4M754 247.5h1.4M754 249.5h1.4M755 231.5h1.4M755 233.5h1.4M755 234.5h1.4M755 239.5h1.4M755 240.5h1.4M755 244.5h1.4M755 246.5h1.4M756 234.5h1.4M756 235.5h1.4M756 239.5h1.4M756 240.5h1.4M756 243.5h1.4M756 245.5h1.4M756 246.5h1.4M756 247.5h1.4M757 234.5h1.4M757 235.5h1.4M757 236.5h1.4M757 237.5h1.4M757 239.5h1.4M757 240.5h1.4M758 235.5h1.4M758 238.5h1.4M758 240.5h1.4M759 236.5h1.4M759 239.5h1.4M759 240.5h1.4M760 239.5h1.4" stroke="#28e628" stroke-width="1.3" fill="none"/>
<path d="M710 269.5h1.4M710 271.5h1.4M711 267.5h1.4M711 269.5h1.4M712 263.5h1.4M712 268.5h1.4M712 269.5h1.4M712 270.5h1.4M713 262.5h1.4M713 263.5h1.4M713 264.5h1.4M713 265.5h1.4M713 272.5h1.4M714 260.5h1.4M714 264.5h1.4M714 270.5h1.4M714 272.5h1.4M714 273.5h1.4M715 260.5h1.4M715 263.5h1.4M715 265.5h1.4M715 267.5h1.4M715 269.5h1.4M715 274.5h1.4M716 263.5h1.4M716 266.5h1.4M716 267.5h1.4M716 268.5h1.4M716 270.5h1.4M717 258.5h1.4M717 259.5h1.4M717 262.5h1.4M717 263.5h1.4M717 271.5h1.4M717 273.5h1.4M718 258.5h1.4M718 260.5h1.4M718 261.5h1.4M718 264.5h1.4M718 267.5h1.4M718 271.5h1.4M719 255.5h1.4M719 258.5h1.4M719 272.5h1.4M720 254.5h1.4M720 256.5h1.4M720 257.5h1.4M721 257.5h1.4M721 264.5h1.4M721 269.5h1.4M721 271.5h1.4M721 272.5h1.4M721 274.5h1.4M722 255.5h1.4M722 256.5h1.4M722 257.5h1.4M722 261.5h1.4M722 262.5h1.4M722 266.5h1.4M722 268.5h1.4M723 251.5h1.4M723 256.5h1.4M723 261.5h1.4M723 269.5h1.4M724 248.5h1.4M724 251.5h1.4M724 252.5h1.4M724 254.5h1.4M724 255.5h1.4M724 261.5h1.4M724 265.5h1.4M724 271.5h1.4M725 249.5h1.4M725 250.5h1.4M725 252.5h1.4M725 256.5h1.4M725 262.5h1.4M725 264.5h1.4M725 265.5h1.4M725 266.5h1.4M726 248.5h1.4M726 252.5h1.4M726 255.5h1.4M726 258.5h1.4M726 259.5h1.4M726 262.5h1.4M726 263.5h1.4M726 268.5h1.4M727 252.5h1.4M727 255.5h1.4M727 259.5h1.4M727 263.5h1.4M727 265.5h1.4M728 245.5h1.4M728 252.5h1.4M728 253.5h1.4M728 256.5h1.4M728 257.5h1.4M728 258.5h1.4M728 260.5h1.4M728 261.5h1.4M728 263.5h1.4M729 246.5h1.4M729 258.5h1.4M729 259.5h1.4M729 262.5h1.4M730 252.5h1.4M730 253.5h1.4M730 254.5h1.4M730 256.5h1.4M730 260.5h1.4M730 262.5h1.4M730 264.5h1.4M731 240.5h1.4M731 242.5h1.4M731 245.5h1.4M731 250.5h1.4M731 253.5h1.4M731 257.5h1.4M731 261.5h1.4M731 262.5h1.4M731 263.5h1.4M731 264.5h1.4M732 240.5h1.4M732 241.5h1.4M732 244.5h1.4M732 246.5h1.4M732 249.5h1.4M732 252.5h1.4M732 258.5h1.4M732 259.5h1.4M732 261.5h1.4M732 262.5h1.4M733 240.5h1.4M733 241.5h1.4M733 242.5h1.4M733 244.5h1.4M733 246.5h1.4M733 250.5h1.4M733 251.5h1.4M733 255.5h1.4M733 265.5h1.4M734 239.5h1.4M734 241.5h1.4M734 242.5h1.4M734 244.5h1.4M734 247.5h1.4M734 248.5h1.4M734 251.5h1.4M734 254.5h1.4M734 259.5h1.4M734 262.5h1.4M735 242.5h1.4M735 243.5h1.4M735 245.5h1.4M735 248.5h1.4M735 249.5h1.4M735 251.5h1.4M735 252.5h1.4M735 253.5h1.4M735 254.5h1.4M735 256.5h1.4M735 257.5h1.4M735 258.5h1.4M735 262.5h1.4M736 239.5h1.4M736 246.5h1.4M736 247.5h1.4M736 248.5h1.4M736 251.5h1.4M736 253.5h1.4M736 254.5h1.4M736 256.5h1.4M737 239.5h1.4M737 240.5h1.4M737 253.5h1.4M737 258.5h1.4M738 240.5h1.4M738 242.5h1.4M738 243.5h1.4M738 252.5h1.4M739 239.5h1.4M739 241.5h1.4M739 257.5h1.4M740 236.5h1.4M740 237.5h1.4M740 252.5h1.4M740 255.5h1.4M741 239.5h1.4M741 251.5h1.4M742 236.5h1.4M742 239.5h1.4M742 256.5h1.4M743 239.5h1.4M743 248.5h1.4M743 250.5h1.4M743 251.5h1.4M743 253.5h1.4M744 240.5h1.4M744 241.5h1.4M744 248.5h1.4M744 253.5h1.4M744 255.5h1.4M745 236.5h1.4M745 238.5h1.4M745 239.5h1.4M745 241.5h1.4M745 249.5h1.4M746 238.5h1.4M746 242.5h1.4M746 243.5h1.4M746 244.5h1.4M746 245.5h1.4M746 247.5h1.4M746 249.5h1.4M747 242.5h1.4M747 246.5h1.4M747 248.5h1.4M747 249.5h1.4M747 250.5h1.4M747 251.5h1.4M748 239.5h1.4M748 240.5h1.4M748 242.5h1.4M748 245.5h1.4M748 251.5h1.4M748 253.5h1.4M749 239.5h1.4M749 241.5h1.4M749 243.5h1.4M749 246.5h1.4M750 235.5h1.4M750 239.5h1.4M750 240.5h1.4M750 242.5h1.4M750 249.5h1.4M751 235.5h1.4M751 238.5h1.4M751 239.5h1.4M751 240.5h1.4M751 244.5h1.4M751 247.5h1.4M752 236.5h1.4M752 237.5h1.4M752 238.5h1.4M752 240.5h1.4M752 241.5h1.4M752 242.5h1.4M752 244.5h1.4M753 236.5h1.4M753 239.5h1.4M753 241.5h1.4M753 242.5h1.4M753 243.5h1.4M753 245.5h1.4M753 247.5h1.4M754 236.5h1.4M754 240.5h1.4M754 247.5h1.4M755 236.5h1.4M755 237.5h1.4M755 240.5h1.4M755 242.5h1.4M756 237.5h1.4M756 241.5h1.4M757 237.5h1.4M757 238.5h1.4" stroke="#78f014" stroke-width="1.3" fill="none"/>
<path d="M722 255.5h1.4M722 256.5h1.4M723 254.5h1.4M725 253.5h1.4M725 257.5h1.4M725 259.5h1.4M726 251.5h1.4M726 255.5h1.4M726 256.5h1.4M726 257.5h1.4M726 261.5h1.4M727 251.5h1.4M727 254.5h1.4M727 255.5h1.4M727 256.5h1.4M727 257.5h1.4M727 260.5h1.4M728 250.5h1.4M728 252.5h1.4M728 253.5h1.4M728 255.5h1.4M728 256.5h1.4M728 258.5h1.4M728 261.5h1.4M729 249.5h1.4M729 251.5h1.4M729 257.5h1.4M729 259.5h1.4M729 261.5h1.4M729 262.5h1.4M730 245.5h1.4M730 251.5h1.4M730 252.5h1.4M730 255.5h1.4M730 256.5h1.4M730 258.5h1.4M730 259.5h1.4M730 261.5h1.4M730 262.5h1.4M731 248.5h1.4M731 251.5h1.4M731 254.5h1.4M731 255.5h1.4M731 258.5h1.4M732 248.5h1.4M732 249.5h1.4M732 252.5h1.4M732 253.5h1.4M732 256.5h1.4M732 259.5h1.4M732 261.5h1.4M732 262.5h1.4M733 248.5h1.4M733 249.5h1.4M733 250.5h1.4M733 255.5h1.4M733 256.5h1.4M733 257.5h1.4M733 258.5h1.4M733 261.5h1.4M734 245.5h1.4M734 246.5h1.4M734 249.5h1.4M734 250.5h1.4M734 252.5h1.4M734 256.5h1.4M735 242.5h1.4M735 243.5h1.4M735 244.5h1.4M735 245.5h1.4M735 247.5h1.4M735 252.5h1.4M735 254.5h1.4M736 243.5h1.4M736 250.5h1.4M736 256.5h1.4M737 240.5h1.4M737 241.5h1.4M737 242.5h1.4M737 246.5h1.4M737 247.5h1.4M737 248.5h1.4M737 250.5h1.4M737 251.5h1.4M737 252.5h1.4M738 240.5h1.4M738 243.5h1.4M738 246.5h1.4M738 252.5h1.4M739 238.5h1.4M739 241.5h1.4M739 244.5h1.4M739 249.5h1.4M739 253.5h1.4M740 240.5h1.4M740 241.5h1.4M740 242.5h1.4M740 243.5h1.4M740 250.5h1.4M740 251.5h1.4M741 239.5h1.4M741 241.5h1.4M741 242.5h1.4M741 244.5h1.4M741 252.5h1.4M742 240.5h1.4M742 241.5h1.4M742 242.5h1.4M742 243.5h1.4M742 250.5h1.4M742 253.5h1.4M743 239.5h1.4M743 240.5h1.4M743 241.5h1.4M743 245.5h1.4M743 246.5h1.4M743 247.5h1.4M743 248.5h1.4M743 251.5h1.4M743 253.5h1.4M744 239.5h1.4M744 240.5h1.4M744 241.5h1.4M744 242.5h1.4M744 245.5h1.4M744 247.5h1.4M744 250.5h1.4M745 242.5h1.4M745 243.5h1.4M745 244.5h1.4M745 245.5h1.4M745 246.5h1.4M745 250.5h1.4M745 252.5h1.4M746 240.5h1.4M746 241.5h1.4M746 248.5h1.4M746 249.5h1.4M747 239.5h1.4M747 240.5h1.4M747 243.5h1.4M747 244.5h1.4M747 245.5h1.4M748 242.5h1.4M748 243.5h1.4M748 244.5h1.4M748 249.5h1.4M748 250.5h1.4M749 240.5h1.4M749 241.5h1.4M749 242.5h1.4M749 243.5h1.4M749 246.5h1.4M749 247.5h1.4M750 243.5h1.4M750 246.5h1.4M751 241.5h1.4M751 242.5h1.4M752 242.5h1.4M752 244.5h1.4M753 239.5h1.4M753 241.5h1.4M753 244.5h1.4M754 241.5h1.4" stroke="#f0f000" stroke-width="1.3" fill="none"/>
<path d="M728 253.5h1.4M728 255.5h1.4M728 256.5h1.4M728 257.5h1.4M729 257.5h1.4M729 259.5h1.4M730 255.5h1.4M730 257.5h1.4M733 253.5h1.4M734 245.5h1.4M734 247.5h1.4M734 251.5h1.4M734 253.5h1.4M735 245.5h1.4M735 247.5h1.4M735 250.5h1.4M735 251.5h1.4M736 243.5h1.4M736 248.5h1.4M737 244.5h1.4M737 246.5h1.4M737 247.5h1.4M737 248.5h1.4M737 249.5h1.4M737 250.5h1.4M737 251.5h1.4M737 252.5h1.4M738 243.5h1.4M738 244.5h1.4M738 245.5h1.4M738 246.5h1.4M738 247.5h1.4M738 248.5h1.4M738 250.5h1.4M738 252.5h1.4M738 253.5h1.4M739 242.5h1.4M739 244.5h1.4M739 245.5h1.4M739 247.5h1.4M739 248.5h1.4M739 249.5h1.4M739 250.5h1.4M739 252.5h1.4M739 253.5h1.4M740 242.5h1.4M740 246.5h1.4M740 247.5h1.4M741 242.5h1.4M741 244.5h1.4M741 245.5h1.4M741 246.5h1.4M741 248.5h1.4M741 249.5h1.4M742 239.5h1.4M742 245.5h1.4M742 248.5h1.4M742 250.5h1.4M743 242.5h1.4M743 243.5h1.4M743 245.5h1.4M743 247.5h1.4M743 249.5h1.4M743 250.5h1.4M744 240.5h1.4M744 241.5h1.4M744 244.5h1.4M744 246.5h1.4M744 248.5h1.4M744 249.5h1.4M744 250.5h1.4M745 241.5h1.4M745 242.5h1.4M745 243.5h1.4M745 244.5h1.4M745 246.5h1.4M745 249.5h1.4M746 243.5h1.4M747 242.5h1.4M747 244.5h1.4M747 246.5h1.4M747 247.5h1.4" stroke="#ff8c00" stroke-width="1.3" fill="none"/>
<path d="M736 249.5h1.4M738 246.5h1.4M738 247.5h1.4M738 248.5h1.4M739 247.5h1.4M739 249.5h1.4M739 250.5h1.4M740 245.5h1.4M740 246.5h1.4M740 248.5h1.4M740 249.5h1.4M740 250.5h1.4M741 245.5h1.4M741 247.5h1.4M741 249.5h1.4M742 245.5h1.4M742 246.5h1.4M743 242.5h1.4M743 243.5h1.4M743 245.5h1.4M744 242.5h1.4M744 244.5h1.4M745 242.5h1.4M745 244.5h1.4M745 245.5h1.4M745 246.5h1.4" stroke="#ff1400" stroke-width="1.3" fill="none"/>
<path d="M814 216.5h1.4M815 248.5h1.4M817 222.5h1.4M817 249.5h1.4M819 233.5h1.4M819 251.5h1.4M819 263.5h1.4M819 290.5h1.4M822 181.5h1.4M822 270.5h1.4M822 288.5h1.4M823 170.5h1.4M823 176.5h1.4M823 177.5h1.4M823 184.5h1.4M823 196.5h1.4M823 263.5h1.4M823 265.5h1.4M823 293.5h1.4M823 296.5h1.4M824 175.5h1.4M824 268.5h1.4M824 298.5h1.4M825 282.5h1.4M825 283.5h1.4M825 305.5h1.4M825 312.5h1.4M826 272.5h1.4M826 273.5h1.4M826 276.5h1.4M826 305.5h1.4M826 312.5h1.4M826 327.5h1.4M827 161.5h1.4M827 163.5h1.4M827 165.5h1.4M827 170.5h1.4M828 172.5h1.4M829 145.5h1.4M829 169.5h1.4M829 171.5h1.4M829 311.5h1.4M829 321.5h1.4M830 157.5h1.4M830 161.5h1.4M830 163.5h1.4M831 147.5h1.4M831 314.5h1.4M831 315.5h1.4M832 153.5h1.4M832 163.5h1.4M832 312.5h1.4M833 155.5h1.4M833 166.5h1.4M833 320.5h1.4M834 158.5h1.4M834 168.5h1.4M834 169.5h1.4M834 317.5h1.4M834 319.5h1.4M835 153.5h1.4M835 166.5h1.4M835 169.5h1.4M835 312.5h1.4M836 162.5h1.4M836 169.5h1.4M836 314.5h1.4M836 318.5h1.4M837 300.5h1.4M837 309.5h1.4M838 299.5h1.4M838 300.5h1.4M838 309.5h1.4M839 155.5h1.4M839 172.5h1.4M839 280.5h1.4M839 286.5h1.4M840 171.5h1.4M840 275.5h1.4M840 277.5h1.4M840 292.5h1.4M840 306.5h1.4M841 179.5h1.4M841 293.5h1.4M842 118.5h1.4M842 137.5h1.4M842 261.5h1.4M842 268.5h1.4M842 270.5h1.4M842 302.5h1.4M843 167.5h1.4M843 178.5h1.4M843 261.5h1.4M843 268.5h1.4M843 289.5h1.4M843 294.5h1.4M844 140.5h1.4M844 157.5h1.4M844 286.5h1.4M845 121.5h1.4M845 177.5h1.4M845 183.5h1.4M845 190.5h1.4M845 257.5h1.4M845 263.5h1.4M845 269.5h1.4M845 317.5h1.4M846 175.5h1.4M846 183.5h1.4M846 256.5h1.4M846 292.5h1.4M847 175.5h1.4M847 176.5h1.4M847 191.5h1.4M847 194.5h1.4M847 228.5h1.4M847 238.5h1.4M847 255.5h1.4M847 267.5h1.4M847 315.5h1.4M848 136.5h1.4M848 153.5h1.4M848 154.5h1.4M848 157.5h1.4M848 159.5h1.4M848 169.5h1.4M848 186.5h1.4M848 189.5h1.4M848 221.5h1.4M848 240.5h1.4M848 251.5h1.4M848 286.5h1.4M849 153.5h1.4M849 196.5h1.4M850 144.5h1.4M850 157.5h1.4M850 175.5h1.4M850 194.5h1.4M850 198.5h1.4M850 225.5h1.4M850 240.5h1.4M850 243.5h1.4M850 249.5h1.4M850 251.5h1.4M850 257.5h1.4M850 269.5h1.4M851 164.5h1.4M851 179.5h1.4M851 186.5h1.4M851 188.5h1.4M851 195.5h1.4M851 243.5h1.4M851 247.5h1.4M851 266.5h1.4M851 283.5h1.4M851 284.5h1.4M852 174.5h1.4M852 191.5h1.4M852 199.5h1.4M852 244.5h1.4M852 259.5h1.4M852 268.5h1.4M853 189.5h1.4M853 190.5h1.4M853 191.5h1.4M853 243.5h1.4M853 251.5h1.4M853 252.5h1.4M853 254.5h1.4M853 264.5h1.4M853 286.5h1.4M854 146.5h1.4M854 200.5h1.4M854 252.5h1.4M854 264.5h1.4M855 179.5h1.4M855 196.5h1.4M855 245.5h1.4M855 250.5h1.4M855 255.5h1.4M855 262.5h1.4M855 265.5h1.4M855 281.5h1.4M856 176.5h1.4M856 177.5h1.4M856 190.5h1.4M856 191.5h1.4M856 196.5h1.4M856 254.5h1.4M856 260.5h1.4M857 186.5h1.4M857 247.5h1.4M857 250.5h1.4M857 278.5h1.4M857 306.5h1.4M858 259.5h1.4M859 184.5h1.4M859 197.5h1.4M859 202.5h1.4M859 261.5h1.4M859 265.5h1.4M859 268.5h1.4M859 275.5h1.4M860 179.5h1.4M860 181.5h1.4M860 186.5h1.4M860 191.5h1.4M860 193.5h1.4M860 205.5h1.4M860 255.5h1.4M860 271.5h1.4M860 279.5h1.4M861 143.5h1.4M861 169.5h1.4M861 193.5h1.4M861 197.5h1.4M861 198.5h1.4M861 247.5h1.4M861 250.5h1.4M861 252.5h1.4M861 257.5h1.4M861 267.5h1.4M862 130.5h1.4M862 168.5h1.4M862 184.5h1.4M862 248.5h1.4M862 258.5h1.4M862 270.5h1.4M863 187.5h1.4M863 201.5h1.4M863 247.5h1.4M863 254.5h1.4M864 154.5h1.4M864 190.5h1.4M864 198.5h1.4M864 203.5h1.4M864 244.5h1.4M864 247.5h1.4M864 250.5h1.4M865 178.5h1.4M865 180.5h1.4M865 186.5h1.4M865 187.5h1.4M865 190.5h1.4M865 252.5h1.4M865 277.5h1.4M865 280.5h1.4M865 290.5h1.4M866 166.5h1.4M866 187.5h1.4M866 236.5h1.4M866 259.5h1.4M866 268.5h1.4M866 283.5h1.4M867 163.5h1.4M867 188.5h1.4M867 194.5h1.4M867 205.5h1.4M867 206.5h1.4M867 212.5h1.4M867 215.5h1.4M867 233.5h1.4M867 245.5h1.4M867 246.5h1.4M868 164.5h1.4M868 198.5h1.4M868 203.5h1.4M868 223.5h1.4M868 229.5h1.4M868 233.5h1.4M868 241.5h1.4M868 254.5h1.4M869 181.5h1.4M869 192.5h1.4M869 221.5h1.4M869 224.5h1.4M869 230.5h1.4M869 236.5h1.4M870 209.5h1.4M870 220.5h1.4M870 255.5h1.4M870 276.5h1.4M871 211.5h1.4M871 219.5h1.4M871 225.5h1.4M871 253.5h1.4M871 276.5h1.4M872 173.5h1.4M872 198.5h1.4M872 202.5h1.4M872 216.5h1.4M872 237.5h1.4M872 241.5h1.4M872 260.5h1.4M873 210.5h1.4M873 235.5h1.4M873 250.5h1.4M874 176.5h1.4M874 189.5h1.4M874 204.5h1.4M874 270.5h1.4M875 176.5h1.4M875 194.5h1.4M875 204.5h1.4M875 210.5h1.4M875 280.5h1.4M876 206.5h1.4M876 212.5h1.4M876 217.5h1.4M876 218.5h1.4M876 226.5h1.4M876 234.5h1.4M877 185.5h1.4M877 205.5h1.4M877 211.5h1.4M877 279.5h1.4M878 238.5h1.4M878 256.5h1.4M879 193.5h1.4M879 197.5h1.4M879 199.5h1.4M879 206.5h1.4M879 208.5h1.4M879 251.5h1.4M880 222.5h1.4M880 236.5h1.4M881 165.5h1.4M881 198.5h1.4M881 208.5h1.4M881 216.5h1.4M881 226.5h1.4M881 258.5h1.4M882 206.5h1.4M882 210.5h1.4M882 219.5h1.4M882 232.5h1.4M883 187.5h1.4M884 195.5h1.4M885 215.5h1.4M885 220.5h1.4M885 226.5h1.4M885 227.5h1.4M885 267.5h1.4M886 175.5h1.4M886 204.5h1.4M886 217.5h1.4M886 240.5h1.4M887 246.5h1.4M888 204.5h1.4M888 206.5h1.4M889 190.5h1.4M889 207.5h1.4M889 225.5h1.4M889 233.5h1.4M889 250.5h1.4M889 274.5h1.4M890 214.5h1.4M890 222.5h1.4M890 227.5h1.4M891 192.5h1.4M891 218.5h1.4M891 231.5h1.4M892 178.5h1.4M892 211.5h1.4M892 234.5h1.4M892 235.5h1.4M893 238.5h1.4M894 187.5h1.4M894 206.5h1.4M895 199.5h1.4M896 202.5h1.4M897 195.5h1.4M897 205.5h1.4M897 216.5h1.4M897 217.5h1.4M898 234.5h1.4M898 256.5h1.4M899 188.5h1.4M899 204.5h1.4M899 208.5h1.4M899 211.5h1.4M899 218.5h1.4M899 225.5h1.4M900 160.5h1.4M900 183.5h1.4M900 214.5h1.4M900 215.5h1.4M900 219.5h1.4M900 251.5h1.4M901 173.5h1.4M901 196.5h1.4M901 204.5h1.4M901 213.5h1.4M901 229.5h1.4M901 275.5h1.4M902 139.5h1.4M902 191.5h1.4M902 202.5h1.4M902 220.5h1.4M903 194.5h1.4M903 225.5h1.4M903 234.5h1.4M904 192.5h1.4M904 217.5h1.4M904 221.5h1.4M904 233.5h1.4M904 238.5h1.4M905 192.5h1.4M905 212.5h1.4M905 213.5h1.4M905 215.5h1.4M905 220.5h1.4M906 160.5h1.4M906 190.5h1.4M906 192.5h1.4M906 197.5h1.4M906 200.5h1.4M906 206.5h1.4M906 221.5h1.4M907 165.5h1.4M907 191.5h1.4M907 214.5h1.4M907 219.5h1.4M907 221.5h1.4M907 229.5h1.4M907 230.5h1.4M907 238.5h1.4M908 208.5h1.4M908 215.5h1.4M908 244.5h1.4M909 176.5h1.4M909 181.5h1.4M909 200.5h1.4M909 202.5h1.4M909 204.5h1.4M909 217.5h1.4M909 222.5h1.4M910 158.5h1.4M910 189.5h1.4M910 190.5h1.4M910 203.5h1.4M910 230.5h1.4M910 235.5h1.4M911 172.5h1.4M911 177.5h1.4M911 191.5h1.4M911 192.5h1.4M911 219.5h1.4M911 225.5h1.4M911 233.5h1.4M911 234.5h1.4M911 248.5h1.4M911 283.5h1.4M912 179.5h1.4M912 180.5h1.4M912 209.5h1.4M912 223.5h1.4M912 235.5h1.4M913 179.5h1.4M913 180.5h1.4M913 185.5h1.4M913 196.5h1.4M913 214.5h1.4M913 230.5h1.4M913 240.5h1.4M913 256.5h1.4M914 167.5h1.4M914 191.5h1.4M915 202.5h1.4M915 207.5h1.4M915 213.5h1.4M915 235.5h1.4M915 237.5h1.4M916 185.5h1.4M916 231.5h1.4M916 234.5h1.4M916 238.5h1.4M917 183.5h1.4M917 230.5h1.4M918 189.5h1.4M918 200.5h1.4M918 204.5h1.4M918 226.5h1.4M918 241.5h1.4M918 242.5h1.4M918 250.5h1.4M918 263.5h1.4M919 173.5h1.4M919 209.5h1.4M919 211.5h1.4M919 239.5h1.4M920 172.5h1.4M920 182.5h1.4M920 192.5h1.4M920 218.5h1.4M920 248.5h1.4M921 185.5h1.4M921 205.5h1.4M921 246.5h1.4M922 210.5h1.4M922 226.5h1.4M923 189.5h1.4M923 199.5h1.4M923 203.5h1.4M923 215.5h1.4M923 226.5h1.4M923 232.5h1.4M923 251.5h1.4M924 207.5h1.4M924 220.5h1.4M924 223.5h1.4M924 227.5h1.4M925 192.5h1.4M925 214.5h1.4M926 223.5h1.4M927 185.5h1.4M927 254.5h1.4M928 171.5h1.4M928 190.5h1.4M928 199.5h1.4M928 203.5h1.4M928 204.5h1.4M928 217.5h1.4M929 192.5h1.4M929 231.5h1.4M930 184.5h1.4M930 229.5h1.4M930 233.5h1.4M931 191.5h1.4M931 204.5h1.4M931 224.5h1.4M931 232.5h1.4M931 267.5h1.4M932 211.5h1.4M932 225.5h1.4M932 232.5h1.4M932 238.5h1.4M933 211.5h1.4M933 219.5h1.4M933 223.5h1.4M933 224.5h1.4M934 234.5h1.4M935 192.5h1.4M935 195.5h1.4M936 156.5h1.4M936 182.5h1.4M936 216.5h1.4M937 174.5h1.4M937 191.5h1.4M937 198.5h1.4M938 210.5h1.4M939 195.5h1.4M939 228.5h1.4M939 264.5h1.4M940 161.5h1.4M940 185.5h1.4M940 211.5h1.4M940 242.5h1.4M941 156.5h1.4M941 205.5h1.4M941 233.5h1.4M941 240.5h1.4M942 150.5h1.4M943 206.5h1.4M944 164.5h1.4M945 252.5h1.4M946 185.5h1.4M946 225.5h1.4M947 200.5h1.4M947 228.5h1.4M949 240.5h1.4M949 256.5h1.4M950 176.5h1.4M952 221.5h1.4M952 228.5h1.4M953 199.5h1.4M953 209.5h1.4M953 231.5h1.4M955 201.5h1.4M955 231.5h1.4M956 185.5h1.4M956 187.5h1.4M956 193.5h1.4M957 242.5h1.4M958 220.5h1.4M961 229.5h1.4M963 207.5h1.4M965 261.5h1.4M969 213.5h1.4" stroke="#00008c" stroke-width="1.3" fill="none"/>
<path d="M820 219.5h1.4M821 197.5h1.4M821 203.5h1.4M822 203.5h1.4M822 204.5h1.4M822 221.5h1.4M822 227.5h1.4M822 231.5h1.4M823 193.5h1.4M823 196.5h1.4M823 212.5h1.4M823 215.5h1.4M823 217.5h1.4M823 218.5h1.4M823 219.5h1.4M823 225.5h1.4M823 229.5h1.4M823 234.5h1.4M823 235.5h1.4M823 249.5h1.4M823 252.5h1.4M823 258.5h1.4M823 285.5h1.4M824 191.5h1.4M824 198.5h1.4M824 262.5h1.4M824 288.5h1.4M825 179.5h1.4M825 181.5h1.4M825 186.5h1.4M825 187.5h1.4M825 199.5h1.4M825 201.5h1.4M825 204.5h1.4M825 260.5h1.4M825 291.5h1.4M825 292.5h1.4M826 182.5h1.4M826 183.5h1.4M826 187.5h1.4M826 189.5h1.4M826 190.5h1.4M826 194.5h1.4M826 200.5h1.4M826 201.5h1.4M826 249.5h1.4M826 255.5h1.4M826 256.5h1.4M826 261.5h1.4M826 265.5h1.4M826 287.5h1.4M826 293.5h1.4M827 179.5h1.4M827 259.5h1.4M827 267.5h1.4M827 269.5h1.4M827 270.5h1.4M827 278.5h1.4M827 279.5h1.4M827 280.5h1.4M827 283.5h1.4M828 178.5h1.4M828 180.5h1.4M828 182.5h1.4M828 267.5h1.4M828 269.5h1.4M828 275.5h1.4M828 283.5h1.4M828 286.5h1.4M828 288.5h1.4M828 290.5h1.4M828 299.5h1.4M828 300.5h1.4M828 304.5h1.4M828 306.5h1.4M828 307.5h1.4M828 308.5h1.4M829 171.5h1.4M829 179.5h1.4M829 180.5h1.4M829 184.5h1.4M829 188.5h1.4M829 264.5h1.4M829 272.5h1.4M829 277.5h1.4M829 286.5h1.4M829 288.5h1.4M829 293.5h1.4M829 295.5h1.4M829 298.5h1.4M829 299.5h1.4M829 306.5h1.4M829 308.5h1.4M830 173.5h1.4M830 175.5h1.4M830 260.5h1.4M830 265.5h1.4M830 274.5h1.4M830 277.5h1.4M830 278.5h1.4M830 280.5h1.4M830 283.5h1.4M830 285.5h1.4M830 288.5h1.4M830 289.5h1.4M830 291.5h1.4M830 292.5h1.4M830 298.5h1.4M830 307.5h1.4M830 311.5h1.4M830 312.5h1.4M831 175.5h1.4M831 176.5h1.4M831 182.5h1.4M831 262.5h1.4M831 270.5h1.4M831 273.5h1.4M831 277.5h1.4M831 279.5h1.4M831 280.5h1.4M831 283.5h1.4M831 288.5h1.4M831 289.5h1.4M831 290.5h1.4M831 292.5h1.4M831 305.5h1.4M831 306.5h1.4M831 308.5h1.4M831 310.5h1.4M832 175.5h1.4M832 184.5h1.4M832 279.5h1.4M832 283.5h1.4M832 287.5h1.4M832 290.5h1.4M832 295.5h1.4M832 301.5h1.4M832 302.5h1.4M832 306.5h1.4M833 172.5h1.4M833 175.5h1.4M833 176.5h1.4M833 180.5h1.4M833 183.5h1.4M833 187.5h1.4M833 262.5h1.4M833 278.5h1.4M833 284.5h1.4M833 285.5h1.4M833 293.5h1.4M833 297.5h1.4M833 301.5h1.4M833 307.5h1.4M834 173.5h1.4M834 179.5h1.4M834 181.5h1.4M834 182.5h1.4M834 187.5h1.4M834 261.5h1.4M834 262.5h1.4M834 266.5h1.4M834 267.5h1.4M834 268.5h1.4M834 270.5h1.4M834 276.5h1.4M834 279.5h1.4M834 280.5h1.4M834 285.5h1.4M834 287.5h1.4M834 302.5h1.4M835 173.5h1.4M835 181.5h1.4M835 251.5h1.4M835 253.5h1.4M835 261.5h1.4M835 276.5h1.4M835 278.5h1.4M835 287.5h1.4M835 288.5h1.4M835 295.5h1.4M835 302.5h1.4M836 177.5h1.4M836 183.5h1.4M836 265.5h1.4M836 266.5h1.4M836 272.5h1.4M836 279.5h1.4M836 284.5h1.4M836 285.5h1.4M837 175.5h1.4M837 178.5h1.4M837 179.5h1.4M837 181.5h1.4M837 261.5h1.4M837 269.5h1.4M837 272.5h1.4M837 275.5h1.4M837 281.5h1.4M837 285.5h1.4M837 290.5h1.4M837 296.5h1.4M838 174.5h1.4M838 175.5h1.4M838 178.5h1.4M838 183.5h1.4M838 188.5h1.4M838 247.5h1.4M838 256.5h1.4M838 264.5h1.4M838 270.5h1.4M838 277.5h1.4M838 282.5h1.4M838 289.5h1.4M838 293.5h1.4M838 298.5h1.4M839 187.5h1.4M839 188.5h1.4M839 190.5h1.4M839 191.5h1.4M839 192.5h1.4M839 193.5h1.4M839 204.5h1.4M839 238.5h1.4M839 245.5h1.4M839 246.5h1.4M839 249.5h1.4M839 254.5h1.4M839 255.5h1.4M839 258.5h1.4M839 259.5h1.4M839 261.5h1.4M839 266.5h1.4M839 270.5h1.4M840 182.5h1.4M840 183.5h1.4M840 186.5h1.4M840 195.5h1.4M840 201.5h1.4M840 250.5h1.4M840 262.5h1.4M840 263.5h1.4M840 270.5h1.4M841 227.5h1.4M841 230.5h1.4M841 246.5h1.4M841 255.5h1.4M842 182.5h1.4M842 188.5h1.4M842 199.5h1.4M842 216.5h1.4M842 223.5h1.4M842 233.5h1.4M842 235.5h1.4M842 237.5h1.4M842 245.5h1.4M842 253.5h1.4M842 256.5h1.4M843 187.5h1.4M843 203.5h1.4M843 204.5h1.4M843 211.5h1.4M843 235.5h1.4M843 243.5h1.4M843 247.5h1.4M843 252.5h1.4M844 184.5h1.4M844 186.5h1.4M844 191.5h1.4M844 194.5h1.4M844 202.5h1.4M844 204.5h1.4M844 205.5h1.4M844 207.5h1.4M844 208.5h1.4M844 244.5h1.4M844 245.5h1.4M845 204.5h1.4M845 209.5h1.4M845 234.5h1.4M845 250.5h1.4M845 251.5h1.4M846 204.5h1.4M846 248.5h1.4M846 249.5h1.4M847 206.5h1.4M847 211.5h1.4M847 214.5h1.4M847 221.5h1.4M847 234.5h1.4M847 252.5h1.4M848 201.5h1.4M848 207.5h1.4M848 210.5h1.4M848 233.5h1.4M849 204.5h1.4M849 215.5h1.4M849 216.5h1.4M849 230.5h1.4M849 232.5h1.4M849 233.5h1.4M850 201.5h1.4M850 205.5h1.4M850 210.5h1.4M850 213.5h1.4M850 228.5h1.4M850 233.5h1.4M851 204.5h1.4M851 208.5h1.4M851 211.5h1.4M851 215.5h1.4M851 220.5h1.4M851 222.5h1.4M851 229.5h1.4M851 237.5h1.4M852 201.5h1.4M852 207.5h1.4M852 215.5h1.4M852 216.5h1.4M852 217.5h1.4M852 219.5h1.4M852 229.5h1.4M852 230.5h1.4M852 231.5h1.4M853 200.5h1.4M853 205.5h1.4M853 221.5h1.4M853 224.5h1.4M853 228.5h1.4M853 230.5h1.4M853 233.5h1.4M854 208.5h1.4M854 214.5h1.4M854 216.5h1.4M854 217.5h1.4M854 227.5h1.4M854 228.5h1.4M854 231.5h1.4M854 233.5h1.4M854 238.5h1.4M854 241.5h1.4M855 203.5h1.4M855 208.5h1.4M855 221.5h1.4M855 223.5h1.4M855 224.5h1.4M855 227.5h1.4M855 233.5h1.4M855 239.5h1.4M855 241.5h1.4M856 219.5h1.4M856 223.5h1.4M856 225.5h1.4M856 227.5h1.4M856 231.5h1.4M856 261.5h1.4M857 203.5h1.4M857 208.5h1.4M857 209.5h1.4M857 225.5h1.4M857 226.5h1.4M857 235.5h1.4M857 237.5h1.4M857 243.5h1.4M858 206.5h1.4M858 208.5h1.4M858 210.5h1.4M858 217.5h1.4M858 219.5h1.4M858 223.5h1.4M858 228.5h1.4M858 230.5h1.4M858 234.5h1.4M858 260.5h1.4M858 262.5h1.4M859 206.5h1.4M859 207.5h1.4M859 210.5h1.4M859 216.5h1.4M859 231.5h1.4M859 237.5h1.4M859 242.5h1.4M860 212.5h1.4M860 221.5h1.4M860 230.5h1.4M860 232.5h1.4M860 243.5h1.4M861 212.5h1.4M861 223.5h1.4M861 227.5h1.4M861 228.5h1.4M861 229.5h1.4M861 237.5h1.4M861 238.5h1.4M861 239.5h1.4M861 240.5h1.4M862 209.5h1.4M862 211.5h1.4M862 219.5h1.4M862 223.5h1.4M862 234.5h1.4M862 236.5h1.4M862 238.5h1.4M862 241.5h1.4M863 208.5h1.4M863 216.5h1.4M863 218.5h1.4M863 219.5h1.4M863 221.5h1.4M863 223.5h1.4M863 224.5h1.4M863 225.5h1.4M863 226.5h1.4M863 228.5h1.4M863 234.5h1.4M864 212.5h1.4M864 214.5h1.4M864 220.5h1.4M864 222.5h1.4M864 227.5h1.4M864 230.5h1.4M865 209.5h1.4M865 211.5h1.4M865 225.5h1.4M865 229.5h1.4M865 237.5h1.4M866 227.5h1.4M867 211.5h1.4M868 209.5h1.4M868 222.5h1.4M868 224.5h1.4M868 231.5h1.4" stroke="#0a14d2" stroke-width="1.3" fill="none"/>
<path d="M823 232.5h1.4M823 238.5h1.4M823 246.5h1.4M824 207.5h1.4M824 230.5h1.4M824 233.5h1.4M824 235.5h1.4M824 239.5h1.4M824 243.5h1.4M824 244.5h1.4M825 200.5h1.4M825 202.5h1.4M825 205.5h1.4M825 209.5h1.4M825 220.5h1.4M825 230.5h1.4M825 246.5h1.4M825 253.5h1.4M826 200.5h1.4M826 209.5h1.4M826 212.5h1.4M826 215.5h1.4M826 223.5h1.4M826 231.5h1.4M826 232.5h1.4M827 260.5h1.4M828 192.5h1.4M828 255.5h1.4M828 257.5h1.4M828 262.5h1.4M829 187.5h1.4M829 189.5h1.4M829 195.5h1.4M829 248.5h1.4M829 249.5h1.4M829 251.5h1.4M829 259.5h1.4M830 256.5h1.4M830 258.5h1.4M830 261.5h1.4M830 265.5h1.4M830 268.5h1.4M831 185.5h1.4M831 186.5h1.4M831 187.5h1.4M831 190.5h1.4M831 254.5h1.4M831 255.5h1.4M831 256.5h1.4M831 260.5h1.4M832 254.5h1.4M832 259.5h1.4M832 260.5h1.4M832 268.5h1.4M833 175.5h1.4M833 177.5h1.4M833 181.5h1.4M833 182.5h1.4M833 189.5h1.4M833 248.5h1.4M833 249.5h1.4M833 251.5h1.4M833 252.5h1.4M833 256.5h1.4M833 260.5h1.4M833 267.5h1.4M833 271.5h1.4M833 275.5h1.4M834 176.5h1.4M834 182.5h1.4M834 247.5h1.4M834 253.5h1.4M834 256.5h1.4M834 259.5h1.4M834 268.5h1.4M834 272.5h1.4M834 273.5h1.4M835 244.5h1.4M835 248.5h1.4M835 249.5h1.4M835 254.5h1.4M836 197.5h1.4M836 238.5h1.4M836 239.5h1.4M836 243.5h1.4M836 244.5h1.4M836 246.5h1.4M836 253.5h1.4M836 255.5h1.4M836 260.5h1.4M837 191.5h1.4M837 194.5h1.4M837 195.5h1.4M837 246.5h1.4M837 255.5h1.4M838 193.5h1.4M838 206.5h1.4M838 212.5h1.4M838 215.5h1.4M838 217.5h1.4M838 261.5h1.4M839 206.5h1.4M839 211.5h1.4M839 217.5h1.4M839 232.5h1.4M839 233.5h1.4M840 204.5h1.4M840 205.5h1.4M840 213.5h1.4M840 214.5h1.4M840 224.5h1.4M841 198.5h1.4M841 205.5h1.4M841 223.5h1.4M841 229.5h1.4M841 236.5h1.4M842 206.5h1.4M842 211.5h1.4M842 217.5h1.4M842 221.5h1.4M843 218.5h1.4M844 213.5h1.4M844 216.5h1.4M844 219.5h1.4M844 220.5h1.4" stroke="#1e64f0" stroke-width="1.3" fill="none"/>
<path d="M823 220.5h1.4M823 231.5h1.4M823 240.5h1.4M824 203.5h1.4M824 209.5h1.4M824 215.5h1.4M824 240.5h1.4M824 243.5h1.4M824 248.5h1.4M824 249.5h1.4M825 200.5h1.4M825 202.5h1.4M825 203.5h1.4M825 211.5h1.4M825 216.5h1.4M825 218.5h1.4M825 224.5h1.4M825 231.5h1.4M825 245.5h1.4M825 246.5h1.4M825 247.5h1.4M825 248.5h1.4M825 249.5h1.4M825 252.5h1.4M826 197.5h1.4M826 205.5h1.4M826 206.5h1.4M826 213.5h1.4M826 214.5h1.4M826 219.5h1.4M826 225.5h1.4M826 239.5h1.4M826 262.5h1.4M827 198.5h1.4M827 244.5h1.4M827 261.5h1.4M828 187.5h1.4M828 189.5h1.4M828 190.5h1.4M828 196.5h1.4M828 198.5h1.4M828 201.5h1.4M828 204.5h1.4M828 208.5h1.4M828 243.5h1.4M828 250.5h1.4M828 253.5h1.4M829 194.5h1.4M829 195.5h1.4M829 196.5h1.4M829 203.5h1.4M829 210.5h1.4M829 242.5h1.4M829 243.5h1.4M829 256.5h1.4M829 262.5h1.4M829 271.5h1.4M830 187.5h1.4M830 191.5h1.4M830 192.5h1.4M830 195.5h1.4M830 247.5h1.4M830 266.5h1.4M830 268.5h1.4M831 183.5h1.4M831 186.5h1.4M831 189.5h1.4M831 191.5h1.4M831 193.5h1.4M831 194.5h1.4M831 196.5h1.4M831 250.5h1.4M831 251.5h1.4M831 258.5h1.4M831 261.5h1.4M831 262.5h1.4M831 263.5h1.4M831 268.5h1.4M832 179.5h1.4M832 187.5h1.4M832 195.5h1.4M832 249.5h1.4M832 252.5h1.4M832 263.5h1.4M832 271.5h1.4M833 183.5h1.4M833 188.5h1.4M833 193.5h1.4M833 194.5h1.4M833 258.5h1.4M833 260.5h1.4M833 271.5h1.4M833 272.5h1.4M833 274.5h1.4M833 277.5h1.4M834 184.5h1.4M834 185.5h1.4M834 191.5h1.4M834 193.5h1.4M834 195.5h1.4M834 196.5h1.4M834 276.5h1.4M835 177.5h1.4M835 189.5h1.4M835 196.5h1.4M835 205.5h1.4M835 227.5h1.4M835 229.5h1.4M835 242.5h1.4M835 247.5h1.4M835 249.5h1.4M835 252.5h1.4M835 256.5h1.4M835 265.5h1.4M835 271.5h1.4M836 194.5h1.4M836 199.5h1.4M836 201.5h1.4M836 202.5h1.4M836 203.5h1.4M836 232.5h1.4M836 235.5h1.4M836 240.5h1.4M836 242.5h1.4M836 255.5h1.4M836 257.5h1.4M837 186.5h1.4M837 196.5h1.4M837 197.5h1.4M837 202.5h1.4M837 203.5h1.4M837 208.5h1.4M837 237.5h1.4M837 240.5h1.4M837 258.5h1.4M838 185.5h1.4M838 196.5h1.4M838 208.5h1.4M838 209.5h1.4M838 236.5h1.4M838 237.5h1.4M838 250.5h1.4M838 251.5h1.4M839 206.5h1.4M839 208.5h1.4M839 209.5h1.4M839 222.5h1.4M839 226.5h1.4M839 231.5h1.4M839 234.5h1.4M839 235.5h1.4M840 203.5h1.4M840 209.5h1.4M840 220.5h1.4M840 223.5h1.4M840 238.5h1.4M841 208.5h1.4M841 221.5h1.4M843 208.5h1.4M843 223.5h1.4M844 212.5h1.4M844 215.5h1.4" stroke="#1ec8f0" stroke-width="1.3" fill="none"/>
<path d="M823 218.5h1.4M824 217.5h1.4M824 221.5h1.4M824 237.5h1.4M824 247.5h1.4M825 214.5h1.4M825 217.5h1.4M825 233.5h1.4M825 241.5h1.4M825 245.5h1.4M826 212.5h1.4M826 216.5h1.4M826 229.5h1.4M826 234.5h1.4M826 238.5h1.4M826 240.5h1.4M826 242.5h1.4M826 244.5h1.4M826 247.5h1.4M827 204.5h1.4M827 206.5h1.4M827 213.5h1.4M827 214.5h1.4M827 224.5h1.4M827 227.5h1.4M827 230.5h1.4M827 232.5h1.4M827 235.5h1.4M827 236.5h1.4M827 237.5h1.4M827 238.5h1.4M827 245.5h1.4M827 246.5h1.4M827 249.5h1.4M828 191.5h1.4M828 199.5h1.4M828 207.5h1.4M828 215.5h1.4M828 216.5h1.4M828 220.5h1.4M828 223.5h1.4M828 224.5h1.4M828 225.5h1.4M828 227.5h1.4M828 229.5h1.4M828 239.5h1.4M828 241.5h1.4M828 243.5h1.4M828 244.5h1.4M828 252.5h1.4M829 188.5h1.4M829 197.5h1.4M829 202.5h1.4M829 204.5h1.4M829 205.5h1.4M829 207.5h1.4M829 211.5h1.4M829 215.5h1.4M829 225.5h1.4M829 226.5h1.4M829 233.5h1.4M829 234.5h1.4M829 237.5h1.4M829 238.5h1.4M829 239.5h1.4M829 243.5h1.4M829 248.5h1.4M829 250.5h1.4M829 254.5h1.4M830 186.5h1.4M830 188.5h1.4M830 195.5h1.4M830 196.5h1.4M830 199.5h1.4M830 241.5h1.4M830 244.5h1.4M830 249.5h1.4M830 256.5h1.4M831 186.5h1.4M831 187.5h1.4M831 191.5h1.4M831 192.5h1.4M831 197.5h1.4M831 198.5h1.4M831 200.5h1.4M831 202.5h1.4M831 204.5h1.4M831 205.5h1.4M831 243.5h1.4M831 246.5h1.4M831 248.5h1.4M831 249.5h1.4M831 251.5h1.4M831 253.5h1.4M831 256.5h1.4M831 257.5h1.4M832 187.5h1.4M832 188.5h1.4M832 190.5h1.4M832 193.5h1.4M832 194.5h1.4M832 200.5h1.4M832 201.5h1.4M832 204.5h1.4M832 205.5h1.4M832 236.5h1.4M832 242.5h1.4M832 243.5h1.4M832 245.5h1.4M832 250.5h1.4M833 194.5h1.4M833 196.5h1.4M833 198.5h1.4M833 202.5h1.4M833 203.5h1.4M833 204.5h1.4M833 240.5h1.4M833 243.5h1.4M833 246.5h1.4M833 249.5h1.4M833 250.5h1.4M833 252.5h1.4M833 258.5h1.4M834 197.5h1.4M834 200.5h1.4M834 202.5h1.4M834 204.5h1.4M834 236.5h1.4M834 238.5h1.4M834 244.5h1.4M834 249.5h1.4M834 258.5h1.4M834 259.5h1.4M835 191.5h1.4M835 194.5h1.4M835 195.5h1.4M835 197.5h1.4M835 199.5h1.4M835 200.5h1.4M835 201.5h1.4M835 202.5h1.4M835 205.5h1.4M835 210.5h1.4M835 214.5h1.4M835 215.5h1.4M835 224.5h1.4M835 228.5h1.4M835 238.5h1.4M835 240.5h1.4M835 247.5h1.4M836 198.5h1.4M836 202.5h1.4M836 206.5h1.4M836 207.5h1.4M836 210.5h1.4M836 212.5h1.4M836 213.5h1.4M836 218.5h1.4M836 219.5h1.4M836 221.5h1.4M836 225.5h1.4M836 226.5h1.4M836 231.5h1.4M836 233.5h1.4M836 244.5h1.4M836 245.5h1.4M836 250.5h1.4M837 195.5h1.4M837 196.5h1.4M837 198.5h1.4M837 209.5h1.4M837 210.5h1.4M837 217.5h1.4M837 219.5h1.4M837 224.5h1.4M837 225.5h1.4M837 227.5h1.4M837 230.5h1.4M837 231.5h1.4M837 233.5h1.4M837 234.5h1.4M837 238.5h1.4M837 248.5h1.4M837 250.5h1.4M838 202.5h1.4M838 212.5h1.4M838 215.5h1.4M838 218.5h1.4M838 226.5h1.4M838 229.5h1.4M838 230.5h1.4M838 231.5h1.4M838 232.5h1.4M838 241.5h1.4M838 250.5h1.4M839 213.5h1.4M839 218.5h1.4M839 222.5h1.4M839 225.5h1.4M840 224.5h1.4M840 225.5h1.4M840 229.5h1.4M840 234.5h1.4M840 235.5h1.4M841 219.5h1.4" stroke="#28e628" stroke-width="1.3" fill="none"/>
<path d="M826 219.5h1.4M826 230.5h1.4M826 246.5h1.4M827 204.5h1.4M827 206.5h1.4M827 211.5h1.4M827 216.5h1.4M827 217.5h1.4M827 220.5h1.4M827 221.5h1.4M827 222.5h1.4M827 229.5h1.4M827 237.5h1.4M827 238.5h1.4M827 242.5h1.4M827 243.5h1.4M827 244.5h1.4M828 203.5h1.4M828 218.5h1.4M828 219.5h1.4M828 221.5h1.4M828 224.5h1.4M828 225.5h1.4M828 229.5h1.4M828 231.5h1.4M828 233.5h1.4M828 242.5h1.4M828 244.5h1.4M829 197.5h1.4M829 200.5h1.4M829 205.5h1.4M829 208.5h1.4M829 209.5h1.4M829 211.5h1.4M829 213.5h1.4M829 216.5h1.4M829 219.5h1.4M829 220.5h1.4M829 222.5h1.4M829 223.5h1.4M829 224.5h1.4M829 226.5h1.4M829 227.5h1.4M829 231.5h1.4M829 232.5h1.4M829 233.5h1.4M829 234.5h1.4M829 238.5h1.4M829 253.5h1.4M830 193.5h1.4M830 196.5h1.4M830 197.5h1.4M830 201.5h1.4M830 209.5h1.4M830 210.5h1.4M830 211.5h1.4M830 212.5h1.4M830 214.5h1.4M830 235.5h1.4M830 236.5h1.4M830 237.5h1.4M830 238.5h1.4M830 240.5h1.4M830 241.5h1.4M830 243.5h1.4M830 245.5h1.4M830 246.5h1.4M830 248.5h1.4M830 250.5h1.4M830 252.5h1.4M831 192.5h1.4M831 198.5h1.4M831 200.5h1.4M831 202.5h1.4M831 204.5h1.4M831 207.5h1.4M831 211.5h1.4M831 213.5h1.4M831 214.5h1.4M831 230.5h1.4M831 231.5h1.4M831 237.5h1.4M831 241.5h1.4M831 251.5h1.4M831 252.5h1.4M832 192.5h1.4M832 193.5h1.4M832 196.5h1.4M832 197.5h1.4M832 199.5h1.4M832 202.5h1.4M832 204.5h1.4M832 205.5h1.4M832 207.5h1.4M832 208.5h1.4M832 213.5h1.4M832 214.5h1.4M832 224.5h1.4M832 227.5h1.4M832 231.5h1.4M832 233.5h1.4M832 234.5h1.4M832 237.5h1.4M832 238.5h1.4M832 239.5h1.4M832 244.5h1.4M832 248.5h1.4M832 250.5h1.4M833 193.5h1.4M833 196.5h1.4M833 199.5h1.4M833 201.5h1.4M833 204.5h1.4M833 205.5h1.4M833 208.5h1.4M833 210.5h1.4M833 212.5h1.4M833 229.5h1.4M833 233.5h1.4M833 234.5h1.4M833 238.5h1.4M833 240.5h1.4M833 243.5h1.4M834 192.5h1.4M834 193.5h1.4M834 198.5h1.4M834 203.5h1.4M834 204.5h1.4M834 207.5h1.4M834 209.5h1.4M834 210.5h1.4M834 211.5h1.4M834 212.5h1.4M834 227.5h1.4M834 230.5h1.4M834 233.5h1.4M834 235.5h1.4M834 236.5h1.4M834 239.5h1.4M834 240.5h1.4M834 241.5h1.4M834 243.5h1.4M835 192.5h1.4M835 205.5h1.4M835 206.5h1.4M835 208.5h1.4M835 209.5h1.4M835 213.5h1.4M835 217.5h1.4M835 224.5h1.4M835 227.5h1.4M835 229.5h1.4M835 232.5h1.4M835 233.5h1.4M836 207.5h1.4M836 213.5h1.4M836 218.5h1.4M836 222.5h1.4M836 223.5h1.4M836 227.5h1.4M836 229.5h1.4M836 231.5h1.4M837 202.5h1.4M837 206.5h1.4M837 211.5h1.4M837 213.5h1.4M837 217.5h1.4M837 220.5h1.4M837 221.5h1.4M837 224.5h1.4M837 226.5h1.4M837 235.5h1.4M837 237.5h1.4M837 238.5h1.4M838 208.5h1.4M838 210.5h1.4M838 217.5h1.4M838 218.5h1.4M838 221.5h1.4M838 229.5h1.4M838 233.5h1.4M838 234.5h1.4M838 238.5h1.4" stroke="#78f014" stroke-width="1.3" fill="none"/>
<path d="M826 212.5h1.4M826 217.5h1.4M826 222.5h1.4M826 236.5h1.4M827 213.5h1.4M827 214.5h1.4M827 218.5h1.4M827 223.5h1.4M827 225.5h1.4M827 226.5h1.4M827 233.5h1.4M827 240.5h1.4M827 241.5h1.4M828 217.5h1.4M828 218.5h1.4M828 221.5h1.4M828 223.5h1.4M828 224.5h1.4M828 225.5h1.4M828 226.5h1.4M828 232.5h1.4M828 238.5h1.4M829 203.5h1.4M829 204.5h1.4M829 205.5h1.4M829 210.5h1.4M829 212.5h1.4M829 215.5h1.4M829 217.5h1.4M829 222.5h1.4M829 224.5h1.4M829 227.5h1.4M829 231.5h1.4M829 233.5h1.4M829 234.5h1.4M829 236.5h1.4M829 240.5h1.4M830 205.5h1.4M830 208.5h1.4M830 209.5h1.4M830 214.5h1.4M830 216.5h1.4M830 217.5h1.4M830 227.5h1.4M830 228.5h1.4M830 229.5h1.4M830 231.5h1.4M830 232.5h1.4M830 233.5h1.4M830 234.5h1.4M830 236.5h1.4M830 237.5h1.4M830 241.5h1.4M830 242.5h1.4M830 243.5h1.4M830 244.5h1.4M831 197.5h1.4M831 198.5h1.4M831 201.5h1.4M831 203.5h1.4M831 204.5h1.4M831 205.5h1.4M831 208.5h1.4M831 209.5h1.4M831 210.5h1.4M831 211.5h1.4M831 214.5h1.4M831 215.5h1.4M831 228.5h1.4M831 239.5h1.4M831 240.5h1.4M831 242.5h1.4M831 243.5h1.4M831 244.5h1.4M832 201.5h1.4M832 206.5h1.4M832 207.5h1.4M832 208.5h1.4M832 212.5h1.4M832 213.5h1.4M832 215.5h1.4M832 219.5h1.4M832 227.5h1.4M832 230.5h1.4M832 233.5h1.4M832 234.5h1.4M832 236.5h1.4M832 244.5h1.4M833 206.5h1.4M833 207.5h1.4M833 208.5h1.4M833 209.5h1.4M833 211.5h1.4M833 212.5h1.4M833 213.5h1.4M833 214.5h1.4M833 215.5h1.4M833 216.5h1.4M833 227.5h1.4M833 228.5h1.4M833 236.5h1.4M833 238.5h1.4M834 197.5h1.4M834 201.5h1.4M834 203.5h1.4M834 204.5h1.4M834 213.5h1.4M834 215.5h1.4M834 217.5h1.4M834 218.5h1.4M834 219.5h1.4M834 221.5h1.4M834 224.5h1.4M834 226.5h1.4M834 231.5h1.4M834 234.5h1.4M834 239.5h1.4M835 198.5h1.4M835 202.5h1.4M835 206.5h1.4M835 208.5h1.4M835 212.5h1.4M835 214.5h1.4M835 217.5h1.4M835 218.5h1.4M835 220.5h1.4M835 221.5h1.4M835 226.5h1.4M835 230.5h1.4M835 232.5h1.4M835 234.5h1.4M835 237.5h1.4M835 238.5h1.4M836 214.5h1.4M836 217.5h1.4M836 218.5h1.4M836 219.5h1.4M836 220.5h1.4M836 221.5h1.4M836 225.5h1.4M837 212.5h1.4M837 213.5h1.4M837 214.5h1.4M837 217.5h1.4M837 218.5h1.4M837 220.5h1.4M837 222.5h1.4M837 224.5h1.4M838 209.5h1.4M838 217.5h1.4" stroke="#f0f000" stroke-width="1.3" fill="none"/>
<path d="M829 213.5h1.4M829 220.5h1.4M829 223.5h1.4M829 229.5h1.4M829 231.5h1.4M829 232.5h1.4M830 207.5h1.4M830 211.5h1.4M830 220.5h1.4M830 221.5h1.4M830 224.5h1.4M830 226.5h1.4M830 228.5h1.4M830 231.5h1.4M830 233.5h1.4M830 235.5h1.4M830 236.5h1.4M830 238.5h1.4M831 207.5h1.4M831 208.5h1.4M831 209.5h1.4M831 210.5h1.4M831 211.5h1.4M831 216.5h1.4M831 218.5h1.4M831 226.5h1.4M831 227.5h1.4M831 229.5h1.4M831 232.5h1.4M831 233.5h1.4M831 234.5h1.4M831 240.5h1.4M832 207.5h1.4M832 213.5h1.4M832 216.5h1.4M832 218.5h1.4M832 219.5h1.4M832 222.5h1.4M832 225.5h1.4M832 226.5h1.4M832 227.5h1.4M832 228.5h1.4M832 229.5h1.4M832 230.5h1.4M832 232.5h1.4M832 235.5h1.4M832 236.5h1.4M832 237.5h1.4M832 238.5h1.4M832 240.5h1.4M832 241.5h1.4M833 208.5h1.4M833 209.5h1.4M833 211.5h1.4M833 212.5h1.4M833 214.5h1.4M833 215.5h1.4M833 218.5h1.4M833 219.5h1.4M833 221.5h1.4M833 224.5h1.4M833 225.5h1.4M833 227.5h1.4M833 229.5h1.4M833 231.5h1.4M833 232.5h1.4M833 233.5h1.4M834 212.5h1.4M834 217.5h1.4M834 222.5h1.4M834 223.5h1.4M834 227.5h1.4M834 228.5h1.4M834 230.5h1.4M834 234.5h1.4M835 206.5h1.4M835 207.5h1.4M835 212.5h1.4M835 223.5h1.4M835 227.5h1.4M835 233.5h1.4" stroke="#ff8c00" stroke-width="1.3" fill="none"/>
<path d="M829 215.5h1.4M829 218.5h1.4M829 220.5h1.4M829 225.5h1.4M829 227.5h1.4M829 228.5h1.4M830 215.5h1.4M830 216.5h1.4M830 218.5h1.4M830 220.5h1.4M830 221.5h1.4M830 222.5h1.4M830 224.5h1.4M830 226.5h1.4M830 227.5h1.4M830 228.5h1.4M830 229.5h1.4M831 215.5h1.4M831 216.5h1.4M831 218.5h1.4M831 219.5h1.4M831 220.5h1.4M831 221.5h1.4M831 222.5h1.4M831 223.5h1.4M831 224.5h1.4M831 225.5h1.4M831 229.5h1.4M832 215.5h1.4M832 217.5h1.4M832 218.5h1.4M832 219.5h1.4M832 220.5h1.4M832 222.5h1.4M832 223.5h1.4M832 224.5h1.4M832 225.5h1.4M832 227.5h1.4M833 214.5h1.4M833 218.5h1.4M833 219.5h1.4M833 220.5h1.4M834 216.5h1.4M834 217.5h1.4M834 218.5h1.4M834 220.5h1.4M834 221.5h1.4M835 217.5h1.4" stroke="#ff1400" stroke-width="1.3" fill="none"/>
<path d="M584 502.5h1.4M588 496.5h1.4M590 513.5h1.4M591 466.5h1.4M591 500.5h1.4M592 499.5h1.4M594 503.5h1.4M596 490.5h1.4M596 501.5h1.4M597 483.5h1.4M598 448.5h1.4M599 455.5h1.4M599 469.5h1.4M599 483.5h1.4M599 485.5h1.4M600 486.5h1.4M600 505.5h1.4M601 464.5h1.4M601 491.5h1.4M601 503.5h1.4M601 510.5h1.4M602 471.5h1.4M602 472.5h1.4M602 490.5h1.4M602 492.5h1.4M602 494.5h1.4M602 501.5h1.4M602 504.5h1.4M602 514.5h1.4M602 520.5h1.4M602 538.5h1.4M603 474.5h1.4M603 491.5h1.4M603 515.5h1.4M603 527.5h1.4M604 497.5h1.4M604 505.5h1.4M604 510.5h1.4M605 459.5h1.4M605 475.5h1.4M605 516.5h1.4M606 418.5h1.4M606 454.5h1.4M606 479.5h1.4M606 513.5h1.4M606 531.5h1.4M607 446.5h1.4M607 457.5h1.4M607 469.5h1.4M607 476.5h1.4M607 483.5h1.4M607 486.5h1.4M607 514.5h1.4M607 518.5h1.4M607 520.5h1.4M608 454.5h1.4M608 473.5h1.4M608 480.5h1.4M608 482.5h1.4M608 506.5h1.4M608 527.5h1.4M609 453.5h1.4M609 458.5h1.4M609 473.5h1.4M609 481.5h1.4M609 504.5h1.4M609 507.5h1.4M609 527.5h1.4M610 460.5h1.4M610 466.5h1.4M610 469.5h1.4M610 471.5h1.4M610 491.5h1.4M610 504.5h1.4M610 508.5h1.4M610 513.5h1.4M611 444.5h1.4M611 496.5h1.4M611 530.5h1.4M612 446.5h1.4M612 463.5h1.4M612 466.5h1.4M612 507.5h1.4M613 455.5h1.4M613 457.5h1.4M613 469.5h1.4M613 495.5h1.4M613 519.5h1.4M613 525.5h1.4M614 440.5h1.4M614 455.5h1.4M614 460.5h1.4M614 492.5h1.4M615 468.5h1.4M615 487.5h1.4M615 493.5h1.4M615 494.5h1.4M616 441.5h1.4M616 484.5h1.4M616 488.5h1.4M616 510.5h1.4M616 513.5h1.4M616 518.5h1.4M616 529.5h1.4M616 538.5h1.4M617 445.5h1.4M617 457.5h1.4M617 543.5h1.4M618 452.5h1.4M618 465.5h1.4M618 466.5h1.4M618 514.5h1.4M618 517.5h1.4M619 453.5h1.4M619 459.5h1.4M619 489.5h1.4M619 514.5h1.4M620 459.5h1.4M620 514.5h1.4M620 534.5h1.4M620 536.5h1.4M621 436.5h1.4M621 449.5h1.4M621 450.5h1.4M621 461.5h1.4M621 462.5h1.4M622 516.5h1.4M623 439.5h1.4M623 460.5h1.4M623 517.5h1.4M624 432.5h1.4M625 433.5h1.4M625 449.5h1.4M625 513.5h1.4M625 516.5h1.4M625 523.5h1.4M626 455.5h1.4M626 518.5h1.4M626 520.5h1.4M626 530.5h1.4M627 449.5h1.4M627 457.5h1.4M627 510.5h1.4M627 521.5h1.4M627 526.5h1.4M628 451.5h1.4M628 461.5h1.4M628 522.5h1.4M628 533.5h1.4M629 441.5h1.4M629 448.5h1.4M629 474.5h1.4M629 475.5h1.4M630 455.5h1.4M630 464.5h1.4M630 482.5h1.4M630 519.5h1.4M630 522.5h1.4M630 524.5h1.4M630 525.5h1.4M630 526.5h1.4M631 444.5h1.4M631 454.5h1.4M631 463.5h1.4M631 482.5h1.4M631 529.5h1.4M632 442.5h1.4M632 476.5h1.4M632 528.5h1.4M632 535.5h1.4M633 455.5h1.4M633 464.5h1.4M633 481.5h1.4M633 494.5h1.4M633 521.5h1.4M634 463.5h1.4M634 472.5h1.4M634 477.5h1.4M634 478.5h1.4M634 481.5h1.4M634 484.5h1.4M634 486.5h1.4M634 491.5h1.4M634 522.5h1.4M635 436.5h1.4M635 438.5h1.4M635 465.5h1.4M635 466.5h1.4M635 476.5h1.4M635 490.5h1.4M635 523.5h1.4M636 437.5h1.4M636 463.5h1.4M636 464.5h1.4M636 474.5h1.4M636 484.5h1.4M636 489.5h1.4M636 521.5h1.4M637 449.5h1.4M637 454.5h1.4M637 455.5h1.4M637 464.5h1.4M637 471.5h1.4M637 475.5h1.4M637 484.5h1.4M637 520.5h1.4M637 524.5h1.4M637 551.5h1.4M638 462.5h1.4M638 525.5h1.4M639 483.5h1.4M639 484.5h1.4M639 485.5h1.4M640 451.5h1.4M640 462.5h1.4M640 472.5h1.4M640 482.5h1.4M640 487.5h1.4M640 523.5h1.4M640 524.5h1.4M641 456.5h1.4M641 469.5h1.4M641 475.5h1.4M641 490.5h1.4M641 522.5h1.4M641 528.5h1.4M642 524.5h1.4M642 531.5h1.4M643 486.5h1.4M643 489.5h1.4M644 435.5h1.4M644 470.5h1.4M644 485.5h1.4M644 492.5h1.4M644 497.5h1.4M644 504.5h1.4M644 519.5h1.4M645 478.5h1.4M645 479.5h1.4M645 483.5h1.4M645 486.5h1.4M645 509.5h1.4M645 522.5h1.4M645 524.5h1.4M646 490.5h1.4M646 493.5h1.4M646 505.5h1.4M646 522.5h1.4M646 525.5h1.4M646 529.5h1.4M646 541.5h1.4M647 451.5h1.4M647 465.5h1.4M647 502.5h1.4M647 527.5h1.4M647 529.5h1.4M648 501.5h1.4M648 502.5h1.4M648 515.5h1.4M648 520.5h1.4M648 528.5h1.4M648 548.5h1.4M649 471.5h1.4M649 492.5h1.4M649 499.5h1.4M649 510.5h1.4M649 533.5h1.4M649 537.5h1.4M650 456.5h1.4M650 487.5h1.4M650 496.5h1.4M650 499.5h1.4M650 500.5h1.4M650 527.5h1.4M650 534.5h1.4M652 484.5h1.4M652 487.5h1.4M652 495.5h1.4M652 517.5h1.4M652 521.5h1.4M652 522.5h1.4M652 526.5h1.4M652 527.5h1.4M652 530.5h1.4M652 538.5h1.4M652 547.5h1.4M653 489.5h1.4M653 496.5h1.4M654 469.5h1.4M654 482.5h1.4M654 490.5h1.4M654 491.5h1.4M654 517.5h1.4M655 456.5h1.4M655 461.5h1.4M655 481.5h1.4M655 501.5h1.4M655 524.5h1.4M655 531.5h1.4M656 484.5h1.4M656 495.5h1.4M656 496.5h1.4M656 502.5h1.4M656 520.5h1.4M656 524.5h1.4M656 532.5h1.4M657 472.5h1.4M657 486.5h1.4M657 520.5h1.4M658 499.5h1.4M658 503.5h1.4M658 520.5h1.4M658 524.5h1.4M658 532.5h1.4M659 529.5h1.4M659 537.5h1.4M659 546.5h1.4M659 547.5h1.4M660 499.5h1.4M660 518.5h1.4M660 524.5h1.4M660 527.5h1.4M661 489.5h1.4M661 494.5h1.4M661 496.5h1.4M661 497.5h1.4M661 498.5h1.4M661 503.5h1.4M661 506.5h1.4M661 508.5h1.4M661 525.5h1.4M661 535.5h1.4M661 537.5h1.4M662 485.5h1.4M662 525.5h1.4M663 481.5h1.4M663 484.5h1.4M663 487.5h1.4M663 524.5h1.4M663 527.5h1.4M664 496.5h1.4M664 521.5h1.4M664 528.5h1.4M664 530.5h1.4M665 521.5h1.4M665 528.5h1.4M666 490.5h1.4M666 491.5h1.4M666 521.5h1.4M667 496.5h1.4M667 534.5h1.4M668 497.5h1.4M669 519.5h1.4M669 524.5h1.4M669 525.5h1.4M670 487.5h1.4M670 520.5h1.4M670 525.5h1.4M670 544.5h1.4M671 485.5h1.4M671 490.5h1.4M671 491.5h1.4M671 519.5h1.4M671 521.5h1.4M671 530.5h1.4M671 535.5h1.4M671 536.5h1.4M672 486.5h1.4M672 490.5h1.4M672 491.5h1.4M672 492.5h1.4M672 526.5h1.4M673 484.5h1.4M673 536.5h1.4M674 521.5h1.4M674 529.5h1.4M675 485.5h1.4M675 492.5h1.4M676 488.5h1.4M676 490.5h1.4M676 492.5h1.4M676 526.5h1.4M677 529.5h1.4M678 482.5h1.4M678 487.5h1.4M678 495.5h1.4M679 489.5h1.4M679 491.5h1.4M679 495.5h1.4M679 523.5h1.4M679 527.5h1.4M680 476.5h1.4M680 491.5h1.4M680 527.5h1.4M680 533.5h1.4M680 535.5h1.4M681 474.5h1.4M682 461.5h1.4M682 486.5h1.4M682 493.5h1.4M682 494.5h1.4M682 525.5h1.4M683 485.5h1.4M683 486.5h1.4M683 532.5h1.4M684 478.5h1.4M684 488.5h1.4M684 524.5h1.4M685 456.5h1.4M685 485.5h1.4M685 519.5h1.4M685 522.5h1.4M685 524.5h1.4M686 476.5h1.4M686 477.5h1.4M686 535.5h1.4M687 464.5h1.4M687 471.5h1.4M687 479.5h1.4M687 521.5h1.4M687 526.5h1.4M687 527.5h1.4M688 468.5h1.4M689 466.5h1.4M689 473.5h1.4M690 469.5h1.4M690 519.5h1.4M690 533.5h1.4M691 465.5h1.4M691 477.5h1.4M691 519.5h1.4M691 524.5h1.4M691 531.5h1.4M691 532.5h1.4M692 479.5h1.4M692 519.5h1.4M693 473.5h1.4M693 477.5h1.4M693 529.5h1.4M694 540.5h1.4M695 520.5h1.4M695 533.5h1.4M696 458.5h1.4M697 528.5h1.4M698 541.5h1.4M699 454.5h1.4M699 466.5h1.4M699 467.5h1.4M699 469.5h1.4M699 470.5h1.4M699 523.5h1.4M699 528.5h1.4M700 519.5h1.4M702 467.5h1.4M702 521.5h1.4M702 541.5h1.4M703 462.5h1.4M703 526.5h1.4M704 526.5h1.4M704 527.5h1.4M705 520.5h1.4M706 450.5h1.4M706 519.5h1.4M707 520.5h1.4M708 450.5h1.4M708 460.5h1.4M708 464.5h1.4M708 517.5h1.4M708 522.5h1.4M709 447.5h1.4M709 453.5h1.4M709 460.5h1.4M709 516.5h1.4M710 460.5h1.4M711 446.5h1.4M711 517.5h1.4M712 516.5h1.4M712 539.5h1.4M713 518.5h1.4M713 520.5h1.4M716 440.5h1.4M718 443.5h1.4M718 510.5h1.4M718 513.5h1.4M719 507.5h1.4M719 515.5h1.4M719 522.5h1.4M720 453.5h1.4M720 454.5h1.4M720 509.5h1.4M720 517.5h1.4M720 527.5h1.4M721 437.5h1.4M721 507.5h1.4M722 449.5h1.4M722 450.5h1.4M722 505.5h1.4M722 507.5h1.4M723 433.5h1.4M723 440.5h1.4M724 448.5h1.4M724 452.5h1.4M724 508.5h1.4M724 515.5h1.4M725 436.5h1.4M725 513.5h1.4M726 517.5h1.4M726 526.5h1.4M727 449.5h1.4M727 509.5h1.4M728 504.5h1.4M728 509.5h1.4M728 525.5h1.4M730 449.5h1.4M730 510.5h1.4M732 445.5h1.4M732 446.5h1.4M734 443.5h1.4M735 435.5h1.4M735 446.5h1.4M735 522.5h1.4M738 501.5h1.4M739 443.5h1.4M740 435.5h1.4M740 501.5h1.4M741 433.5h1.4M741 440.5h1.4M741 493.5h1.4M741 504.5h1.4M741 505.5h1.4M742 442.5h1.4M742 443.5h1.4M742 493.5h1.4M743 418.5h1.4M743 439.5h1.4M743 495.5h1.4M744 434.5h1.4M745 435.5h1.4M745 489.5h1.4M746 426.5h1.4M746 489.5h1.4M746 494.5h1.4M747 489.5h1.4M748 434.5h1.4M749 430.5h1.4M749 432.5h1.4M749 492.5h1.4M749 500.5h1.4M750 487.5h1.4M751 425.5h1.4M751 489.5h1.4M751 498.5h1.4M752 430.5h1.4M753 437.5h1.4M756 426.5h1.4M756 430.5h1.4M756 483.5h1.4M757 432.5h1.4M759 484.5h1.4M760 427.5h1.4M761 424.5h1.4M761 432.5h1.4M761 480.5h1.4M761 484.5h1.4M764 430.5h1.4M764 473.5h1.4M765 430.5h1.4M765 432.5h1.4M765 471.5h1.4M766 426.5h1.4M768 438.5h1.4M769 438.5h1.4M770 432.5h1.4M770 444.5h1.4M771 447.5h1.4M771 468.5h1.4M772 465.5h1.4M773 455.5h1.4M774 440.5h1.4M774 473.5h1.4M775 478.5h1.4" stroke="#00008c" stroke-width="1.3" fill="none"/>
<path d="M608 477.5h1.4M608 478.5h1.4M609 478.5h1.4M610 475.5h1.4M610 479.5h1.4M612 474.5h1.4M612 477.5h1.4M612 478.5h1.4M612 499.5h1.4M613 476.5h1.4M613 500.5h1.4M613 502.5h1.4M614 479.5h1.4M614 499.5h1.4M614 508.5h1.4M615 479.5h1.4M615 500.5h1.4M615 501.5h1.4M615 503.5h1.4M616 478.5h1.4M616 480.5h1.4M616 485.5h1.4M616 492.5h1.4M616 496.5h1.4M616 499.5h1.4M616 501.5h1.4M616 502.5h1.4M616 503.5h1.4M616 509.5h1.4M617 471.5h1.4M617 473.5h1.4M617 477.5h1.4M617 478.5h1.4M617 482.5h1.4M617 497.5h1.4M617 501.5h1.4M617 502.5h1.4M617 507.5h1.4M617 509.5h1.4M618 477.5h1.4M618 479.5h1.4M618 480.5h1.4M618 481.5h1.4M618 486.5h1.4M618 500.5h1.4M618 501.5h1.4M618 503.5h1.4M619 469.5h1.4M619 478.5h1.4M619 483.5h1.4M619 492.5h1.4M619 493.5h1.4M619 496.5h1.4M619 499.5h1.4M619 503.5h1.4M619 504.5h1.4M619 508.5h1.4M619 511.5h1.4M620 470.5h1.4M620 471.5h1.4M620 472.5h1.4M620 475.5h1.4M620 479.5h1.4M620 480.5h1.4M620 483.5h1.4M620 485.5h1.4M620 496.5h1.4M620 497.5h1.4M620 498.5h1.4M620 504.5h1.4M620 505.5h1.4M621 465.5h1.4M621 469.5h1.4M621 470.5h1.4M621 471.5h1.4M621 476.5h1.4M621 478.5h1.4M621 480.5h1.4M621 481.5h1.4M621 483.5h1.4M621 487.5h1.4M621 488.5h1.4M621 489.5h1.4M621 496.5h1.4M621 506.5h1.4M621 507.5h1.4M621 508.5h1.4M622 463.5h1.4M622 470.5h1.4M622 471.5h1.4M622 473.5h1.4M622 478.5h1.4M622 481.5h1.4M622 497.5h1.4M622 499.5h1.4M622 505.5h1.4M622 506.5h1.4M622 508.5h1.4M622 509.5h1.4M622 510.5h1.4M622 512.5h1.4M623 473.5h1.4M623 479.5h1.4M623 485.5h1.4M623 486.5h1.4M623 492.5h1.4M623 500.5h1.4M623 501.5h1.4M624 462.5h1.4M624 477.5h1.4M624 481.5h1.4M624 487.5h1.4M624 490.5h1.4M624 498.5h1.4M624 499.5h1.4M624 501.5h1.4M624 502.5h1.4M624 503.5h1.4M624 507.5h1.4M625 463.5h1.4M625 465.5h1.4M625 473.5h1.4M625 474.5h1.4M625 488.5h1.4M625 492.5h1.4M625 499.5h1.4M625 509.5h1.4M626 464.5h1.4M626 472.5h1.4M626 487.5h1.4M626 491.5h1.4M626 498.5h1.4M626 499.5h1.4M627 473.5h1.4M627 482.5h1.4M627 483.5h1.4M627 485.5h1.4M627 498.5h1.4M627 508.5h1.4M628 463.5h1.4M628 464.5h1.4M628 465.5h1.4M628 470.5h1.4M628 483.5h1.4M628 484.5h1.4M628 488.5h1.4M628 491.5h1.4M628 492.5h1.4M628 494.5h1.4M628 498.5h1.4M628 506.5h1.4M629 468.5h1.4M629 470.5h1.4M629 471.5h1.4M629 491.5h1.4M629 496.5h1.4M629 498.5h1.4M629 502.5h1.4M629 503.5h1.4M629 509.5h1.4M629 512.5h1.4M630 467.5h1.4M630 468.5h1.4M630 471.5h1.4M630 472.5h1.4M630 491.5h1.4M630 495.5h1.4M630 498.5h1.4M630 499.5h1.4M630 506.5h1.4M630 507.5h1.4M631 466.5h1.4M631 469.5h1.4M631 470.5h1.4M631 501.5h1.4M631 504.5h1.4M631 505.5h1.4M631 507.5h1.4M631 513.5h1.4M632 499.5h1.4M632 500.5h1.4M632 508.5h1.4M632 514.5h1.4M633 497.5h1.4M633 499.5h1.4M633 502.5h1.4M633 504.5h1.4M633 516.5h1.4M634 505.5h1.4M634 507.5h1.4M634 508.5h1.4M634 511.5h1.4M634 515.5h1.4M634 516.5h1.4M634 517.5h1.4M635 498.5h1.4M635 499.5h1.4M635 503.5h1.4M635 508.5h1.4M635 511.5h1.4M635 512.5h1.4M635 514.5h1.4M635 516.5h1.4M636 497.5h1.4M636 500.5h1.4M636 502.5h1.4M636 504.5h1.4M636 511.5h1.4M637 496.5h1.4M637 499.5h1.4M637 507.5h1.4M637 513.5h1.4M637 517.5h1.4M638 489.5h1.4M638 490.5h1.4M638 492.5h1.4M638 496.5h1.4M638 513.5h1.4M639 489.5h1.4M639 503.5h1.4M639 512.5h1.4M639 515.5h1.4M639 518.5h1.4M640 497.5h1.4M640 498.5h1.4M640 501.5h1.4M640 502.5h1.4M640 503.5h1.4M640 509.5h1.4M640 512.5h1.4M640 518.5h1.4M641 493.5h1.4M641 496.5h1.4M641 501.5h1.4M641 505.5h1.4M641 510.5h1.4M641 511.5h1.4M642 494.5h1.4M642 495.5h1.4M642 499.5h1.4M642 507.5h1.4M643 498.5h1.4M643 499.5h1.4M643 506.5h1.4M643 510.5h1.4M643 512.5h1.4M645 510.5h1.4M645 512.5h1.4M645 516.5h1.4M646 518.5h1.4M647 518.5h1.4M648 518.5h1.4M649 506.5h1.4M649 508.5h1.4M649 516.5h1.4M650 503.5h1.4M650 515.5h1.4M651 502.5h1.4M651 506.5h1.4M651 507.5h1.4M651 512.5h1.4M652 502.5h1.4M652 504.5h1.4M653 507.5h1.4M653 514.5h1.4M654 509.5h1.4M654 510.5h1.4M654 512.5h1.4M654 515.5h1.4M655 506.5h1.4M655 508.5h1.4M655 511.5h1.4M655 512.5h1.4M656 512.5h1.4M658 512.5h1.4M658 513.5h1.4M658 514.5h1.4M659 512.5h1.4M659 513.5h1.4M660 515.5h1.4M660 521.5h1.4M661 519.5h1.4M661 521.5h1.4M662 506.5h1.4M662 510.5h1.4M663 502.5h1.4M663 507.5h1.4M663 511.5h1.4M664 498.5h1.4M664 500.5h1.4M664 503.5h1.4M664 509.5h1.4M664 511.5h1.4M664 512.5h1.4M665 501.5h1.4M665 506.5h1.4M665 511.5h1.4M665 517.5h1.4M665 518.5h1.4M666 502.5h1.4M666 508.5h1.4M666 517.5h1.4M667 500.5h1.4M667 501.5h1.4M667 506.5h1.4M667 509.5h1.4M667 518.5h1.4M668 509.5h1.4M668 517.5h1.4M669 500.5h1.4M669 501.5h1.4M669 509.5h1.4M669 511.5h1.4M670 498.5h1.4M670 502.5h1.4M670 512.5h1.4M671 498.5h1.4M671 500.5h1.4M671 502.5h1.4M671 514.5h1.4M671 515.5h1.4M671 517.5h1.4M671 518.5h1.4M672 509.5h1.4M672 511.5h1.4M672 513.5h1.4M673 501.5h1.4M673 505.5h1.4M673 510.5h1.4M674 500.5h1.4M674 507.5h1.4M674 515.5h1.4M675 501.5h1.4M675 506.5h1.4M675 510.5h1.4M675 512.5h1.4M676 502.5h1.4M676 504.5h1.4M676 508.5h1.4M676 510.5h1.4M676 512.5h1.4M676 513.5h1.4M676 517.5h1.4M677 501.5h1.4M677 502.5h1.4M677 506.5h1.4M677 507.5h1.4M677 511.5h1.4M678 507.5h1.4M678 517.5h1.4M679 498.5h1.4M679 507.5h1.4M679 511.5h1.4M679 512.5h1.4M679 516.5h1.4M680 495.5h1.4M680 499.5h1.4M680 500.5h1.4M680 502.5h1.4M680 505.5h1.4M680 507.5h1.4M681 501.5h1.4M681 510.5h1.4M681 515.5h1.4M681 517.5h1.4M681 518.5h1.4M682 500.5h1.4M682 503.5h1.4M682 505.5h1.4M682 507.5h1.4M682 508.5h1.4M682 514.5h1.4M682 516.5h1.4M682 517.5h1.4M683 499.5h1.4M683 500.5h1.4M683 508.5h1.4M683 516.5h1.4M684 494.5h1.4M684 502.5h1.4M684 505.5h1.4M684 509.5h1.4M684 510.5h1.4M684 512.5h1.4M684 513.5h1.4M684 514.5h1.4M684 515.5h1.4M685 488.5h1.4M685 494.5h1.4M685 495.5h1.4M685 496.5h1.4M685 497.5h1.4M685 498.5h1.4M685 502.5h1.4M685 509.5h1.4M686 483.5h1.4M686 486.5h1.4M686 492.5h1.4M686 502.5h1.4M686 504.5h1.4M686 514.5h1.4M687 484.5h1.4M687 492.5h1.4M687 494.5h1.4M687 499.5h1.4M687 501.5h1.4M687 510.5h1.4M687 514.5h1.4M688 489.5h1.4M688 506.5h1.4M689 487.5h1.4M689 489.5h1.4M689 500.5h1.4M689 509.5h1.4M689 515.5h1.4M690 484.5h1.4M690 485.5h1.4M690 486.5h1.4M690 488.5h1.4M690 510.5h1.4M690 511.5h1.4M691 484.5h1.4M691 487.5h1.4M691 491.5h1.4M691 492.5h1.4M691 493.5h1.4M691 494.5h1.4M691 503.5h1.4M691 509.5h1.4M691 510.5h1.4M691 513.5h1.4M691 514.5h1.4M692 483.5h1.4M692 486.5h1.4M692 495.5h1.4M692 498.5h1.4M692 503.5h1.4M692 505.5h1.4M692 509.5h1.4M692 510.5h1.4M692 518.5h1.4M693 483.5h1.4M693 492.5h1.4M693 505.5h1.4M693 510.5h1.4M693 512.5h1.4M693 517.5h1.4M694 482.5h1.4M694 490.5h1.4M694 494.5h1.4M694 496.5h1.4M694 497.5h1.4M694 507.5h1.4M694 511.5h1.4M694 514.5h1.4M694 515.5h1.4M695 482.5h1.4M695 484.5h1.4M695 489.5h1.4M695 490.5h1.4M695 498.5h1.4M695 502.5h1.4M695 512.5h1.4M695 513.5h1.4M695 515.5h1.4M695 516.5h1.4M696 488.5h1.4M696 491.5h1.4M696 498.5h1.4M696 511.5h1.4M696 512.5h1.4M696 515.5h1.4M696 518.5h1.4M697 489.5h1.4M697 493.5h1.4M697 499.5h1.4M697 512.5h1.4M697 516.5h1.4M697 517.5h1.4M698 478.5h1.4M698 479.5h1.4M698 499.5h1.4M698 506.5h1.4M699 488.5h1.4M699 504.5h1.4M699 507.5h1.4M699 508.5h1.4M699 510.5h1.4M699 512.5h1.4M700 478.5h1.4M700 481.5h1.4M700 483.5h1.4M700 487.5h1.4M700 488.5h1.4M700 500.5h1.4M700 509.5h1.4M700 512.5h1.4M700 514.5h1.4M701 468.5h1.4M701 473.5h1.4M701 476.5h1.4M701 477.5h1.4M701 479.5h1.4M702 480.5h1.4M702 498.5h1.4M702 500.5h1.4M702 504.5h1.4M702 508.5h1.4M702 509.5h1.4M702 513.5h1.4M702 516.5h1.4M703 468.5h1.4M703 475.5h1.4M703 476.5h1.4M703 509.5h1.4M703 516.5h1.4M703 517.5h1.4M704 467.5h1.4M704 469.5h1.4M704 470.5h1.4M704 474.5h1.4M704 509.5h1.4M704 515.5h1.4M705 471.5h1.4M705 479.5h1.4M705 499.5h1.4M705 504.5h1.4M705 505.5h1.4M705 507.5h1.4M705 508.5h1.4M705 510.5h1.4M705 514.5h1.4M705 515.5h1.4M706 467.5h1.4M706 475.5h1.4M706 500.5h1.4M706 507.5h1.4M706 508.5h1.4M707 472.5h1.4M707 506.5h1.4M707 507.5h1.4M707 510.5h1.4M707 512.5h1.4M708 465.5h1.4M708 467.5h1.4M708 473.5h1.4M708 510.5h1.4M709 469.5h1.4M709 470.5h1.4M709 471.5h1.4M709 500.5h1.4M709 504.5h1.4M709 506.5h1.4M709 514.5h1.4M710 463.5h1.4M710 505.5h1.4M710 510.5h1.4M711 463.5h1.4M711 465.5h1.4M711 467.5h1.4M711 507.5h1.4M711 508.5h1.4M711 509.5h1.4M712 466.5h1.4M712 470.5h1.4M712 504.5h1.4M712 505.5h1.4M712 506.5h1.4M712 507.5h1.4M712 508.5h1.4M712 510.5h1.4M712 514.5h1.4M713 466.5h1.4M713 503.5h1.4M713 504.5h1.4M713 508.5h1.4M713 510.5h1.4M714 461.5h1.4M714 463.5h1.4M714 464.5h1.4M714 502.5h1.4M715 501.5h1.4M715 502.5h1.4M715 513.5h1.4M715 514.5h1.4M716 459.5h1.4M716 462.5h1.4M716 463.5h1.4M716 498.5h1.4M716 506.5h1.4M717 463.5h1.4M717 500.5h1.4M717 504.5h1.4M718 457.5h1.4M718 459.5h1.4M718 462.5h1.4M718 463.5h1.4M718 464.5h1.4M718 466.5h1.4M718 467.5h1.4M718 502.5h1.4M719 456.5h1.4M719 458.5h1.4M719 459.5h1.4M719 501.5h1.4M720 498.5h1.4M721 456.5h1.4M721 458.5h1.4M721 466.5h1.4M721 495.5h1.4M721 498.5h1.4M721 501.5h1.4M721 503.5h1.4M722 464.5h1.4M723 458.5h1.4M723 496.5h1.4M723 498.5h1.4M723 503.5h1.4M724 456.5h1.4M724 461.5h1.4M724 496.5h1.4M724 497.5h1.4M725 451.5h1.4M725 452.5h1.4M725 460.5h1.4M725 500.5h1.4M726 456.5h1.4M726 496.5h1.4M726 498.5h1.4M726 500.5h1.4M727 452.5h1.4M727 454.5h1.4M728 450.5h1.4M728 454.5h1.4M728 491.5h1.4M729 456.5h1.4M730 453.5h1.4M730 494.5h1.4M730 495.5h1.4M731 449.5h1.4M731 451.5h1.4M731 455.5h1.4M731 486.5h1.4M731 488.5h1.4M731 494.5h1.4M731 499.5h1.4M731 500.5h1.4M732 449.5h1.4M732 493.5h1.4M732 496.5h1.4M732 498.5h1.4M733 455.5h1.4M733 490.5h1.4M733 493.5h1.4M733 498.5h1.4M734 447.5h1.4M734 454.5h1.4M734 490.5h1.4M734 491.5h1.4M734 492.5h1.4M734 494.5h1.4M735 451.5h1.4M735 489.5h1.4M735 492.5h1.4M735 499.5h1.4M736 455.5h1.4M736 492.5h1.4M736 493.5h1.4M736 499.5h1.4M736 500.5h1.4M737 447.5h1.4M737 449.5h1.4M737 486.5h1.4M737 488.5h1.4M737 491.5h1.4M738 448.5h1.4M738 489.5h1.4M738 492.5h1.4M739 444.5h1.4M739 451.5h1.4M739 492.5h1.4M740 445.5h1.4M740 447.5h1.4M740 491.5h1.4M741 489.5h1.4M742 446.5h1.4M742 483.5h1.4M742 486.5h1.4M742 487.5h1.4M743 443.5h1.4M743 480.5h1.4M743 481.5h1.4M743 482.5h1.4M743 483.5h1.4M743 484.5h1.4M744 442.5h1.4M744 444.5h1.4M744 445.5h1.4M744 449.5h1.4M744 483.5h1.4M744 487.5h1.4M745 448.5h1.4M746 443.5h1.4M746 449.5h1.4M746 483.5h1.4M746 484.5h1.4M746 485.5h1.4M747 441.5h1.4M747 444.5h1.4M747 446.5h1.4M747 480.5h1.4M747 485.5h1.4M748 477.5h1.4M749 439.5h1.4M749 440.5h1.4M749 441.5h1.4M749 445.5h1.4M749 474.5h1.4M749 479.5h1.4M749 484.5h1.4M750 439.5h1.4M750 443.5h1.4M750 479.5h1.4M751 445.5h1.4M751 446.5h1.4M751 480.5h1.4M751 483.5h1.4M752 439.5h1.4M752 477.5h1.4M752 480.5h1.4M753 446.5h1.4M753 475.5h1.4M753 476.5h1.4M753 481.5h1.4M753 482.5h1.4M754 441.5h1.4M754 443.5h1.4M754 446.5h1.4M754 476.5h1.4M754 483.5h1.4M755 436.5h1.4M755 440.5h1.4M755 448.5h1.4M755 482.5h1.4M756 435.5h1.4M756 440.5h1.4M756 441.5h1.4M756 443.5h1.4M756 474.5h1.4M756 477.5h1.4M756 478.5h1.4M756 482.5h1.4M757 443.5h1.4M757 444.5h1.4M757 472.5h1.4M757 478.5h1.4M758 444.5h1.4M758 467.5h1.4M758 473.5h1.4M758 476.5h1.4M759 436.5h1.4M759 439.5h1.4M759 441.5h1.4M759 467.5h1.4M759 477.5h1.4M760 437.5h1.4M760 438.5h1.4M760 439.5h1.4M760 440.5h1.4M760 444.5h1.4M760 452.5h1.4M760 472.5h1.4M760 475.5h1.4M760 479.5h1.4M761 435.5h1.4M761 437.5h1.4M761 440.5h1.4M761 441.5h1.4M761 446.5h1.4M761 448.5h1.4M761 459.5h1.4M761 468.5h1.4M761 469.5h1.4M761 472.5h1.4M762 444.5h1.4M762 451.5h1.4M762 452.5h1.4M762 465.5h1.4M762 468.5h1.4M762 472.5h1.4M763 443.5h1.4M763 446.5h1.4M763 448.5h1.4M763 450.5h1.4M763 461.5h1.4M763 463.5h1.4M763 468.5h1.4M763 469.5h1.4M763 474.5h1.4M763 475.5h1.4M764 438.5h1.4M764 448.5h1.4M764 450.5h1.4M764 458.5h1.4M764 462.5h1.4M764 466.5h1.4M765 441.5h1.4M765 449.5h1.4M765 458.5h1.4M765 460.5h1.4M765 463.5h1.4M765 466.5h1.4M766 440.5h1.4M766 445.5h1.4M766 446.5h1.4M766 453.5h1.4M766 457.5h1.4M766 459.5h1.4M766 460.5h1.4M766 463.5h1.4M766 466.5h1.4M767 444.5h1.4M767 445.5h1.4M767 453.5h1.4M767 457.5h1.4M767 458.5h1.4M768 451.5h1.4M768 453.5h1.4M768 455.5h1.4" stroke="#0a14d2" stroke-width="1.3" fill="none"/>
<path d="M623 503.5h1.4M624 503.5h1.4M625 502.5h1.4M625 503.5h1.4M626 502.5h1.4M628 501.5h1.4M688 502.5h1.4M688 503.5h1.4M689 502.5h1.4M690 498.5h1.4M690 503.5h1.4M690 509.5h1.4M691 495.5h1.4M691 496.5h1.4M691 508.5h1.4M692 490.5h1.4M692 498.5h1.4M692 500.5h1.4M692 501.5h1.4M692 509.5h1.4M693 490.5h1.4M693 492.5h1.4M693 506.5h1.4M694 490.5h1.4M695 487.5h1.4M695 490.5h1.4M695 498.5h1.4M695 509.5h1.4M696 501.5h1.4M697 484.5h1.4M697 486.5h1.4M697 487.5h1.4M697 495.5h1.4M697 498.5h1.4M697 499.5h1.4M697 508.5h1.4M698 496.5h1.4M699 480.5h1.4M699 487.5h1.4M699 490.5h1.4M699 494.5h1.4M699 496.5h1.4M699 498.5h1.4M699 501.5h1.4M699 505.5h1.4M700 481.5h1.4M700 482.5h1.4M700 485.5h1.4M700 489.5h1.4M700 492.5h1.4M700 503.5h1.4M700 505.5h1.4M701 477.5h1.4M701 484.5h1.4M701 489.5h1.4M701 491.5h1.4M702 484.5h1.4M702 486.5h1.4M702 487.5h1.4M702 497.5h1.4M703 479.5h1.4M703 480.5h1.4M703 482.5h1.4M703 483.5h1.4M703 490.5h1.4M703 491.5h1.4M703 492.5h1.4M703 500.5h1.4M703 502.5h1.4M703 505.5h1.4M704 482.5h1.4M704 490.5h1.4M704 499.5h1.4M704 504.5h1.4M705 472.5h1.4M705 474.5h1.4M705 476.5h1.4M705 477.5h1.4M705 484.5h1.4M705 488.5h1.4M705 490.5h1.4M706 495.5h1.4M706 503.5h1.4M706 505.5h1.4M707 472.5h1.4M707 475.5h1.4M707 477.5h1.4M707 478.5h1.4M707 483.5h1.4M707 485.5h1.4M707 490.5h1.4M707 495.5h1.4M707 497.5h1.4M707 499.5h1.4M707 501.5h1.4M708 485.5h1.4M708 486.5h1.4M708 488.5h1.4M708 493.5h1.4M708 502.5h1.4M709 471.5h1.4M709 472.5h1.4M709 474.5h1.4M709 481.5h1.4M709 482.5h1.4M709 483.5h1.4M709 490.5h1.4M709 492.5h1.4M710 473.5h1.4M710 475.5h1.4M710 479.5h1.4M711 472.5h1.4M711 474.5h1.4M711 475.5h1.4M711 492.5h1.4M711 495.5h1.4M711 496.5h1.4M711 498.5h1.4M712 468.5h1.4M712 477.5h1.4M712 494.5h1.4M712 503.5h1.4M713 474.5h1.4M713 496.5h1.4M713 497.5h1.4M714 466.5h1.4M714 475.5h1.4M714 476.5h1.4M714 492.5h1.4M714 493.5h1.4M714 494.5h1.4M714 500.5h1.4M715 471.5h1.4M715 494.5h1.4M716 466.5h1.4M716 467.5h1.4M716 470.5h1.4M716 491.5h1.4M716 495.5h1.4M716 497.5h1.4M717 473.5h1.4M717 498.5h1.4M718 472.5h1.4M718 489.5h1.4M718 494.5h1.4M718 495.5h1.4M718 498.5h1.4M718 499.5h1.4M719 470.5h1.4M719 497.5h1.4M720 464.5h1.4M720 468.5h1.4M720 470.5h1.4M720 489.5h1.4M720 493.5h1.4M720 495.5h1.4M720 499.5h1.4M721 469.5h1.4M721 472.5h1.4M721 491.5h1.4M721 493.5h1.4M721 500.5h1.4M722 463.5h1.4M722 469.5h1.4M722 489.5h1.4M722 496.5h1.4M722 499.5h1.4M723 470.5h1.4M723 490.5h1.4M723 497.5h1.4M723 499.5h1.4M724 460.5h1.4M724 490.5h1.4M725 462.5h1.4M725 464.5h1.4M725 466.5h1.4M725 467.5h1.4M725 487.5h1.4M725 488.5h1.4M725 493.5h1.4M725 494.5h1.4M725 497.5h1.4M726 462.5h1.4M726 465.5h1.4M726 466.5h1.4M726 487.5h1.4M726 493.5h1.4M727 459.5h1.4M727 492.5h1.4M728 457.5h1.4M728 463.5h1.4M728 487.5h1.4M729 456.5h1.4M729 457.5h1.4M729 459.5h1.4M730 458.5h1.4M731 459.5h1.4M732 453.5h1.4M732 487.5h1.4M733 456.5h1.4M733 485.5h1.4M733 486.5h1.4M733 487.5h1.4M734 455.5h1.4M734 484.5h1.4M734 486.5h1.4M734 487.5h1.4M734 488.5h1.4M735 455.5h1.4M735 456.5h1.4M736 454.5h1.4M736 458.5h1.4M737 453.5h1.4M737 455.5h1.4M737 488.5h1.4M738 484.5h1.4M739 484.5h1.4M740 451.5h1.4M740 454.5h1.4M740 484.5h1.4M741 451.5h1.4M741 480.5h1.4M742 452.5h1.4M742 454.5h1.4M742 478.5h1.4M742 480.5h1.4M743 450.5h1.4M743 481.5h1.4M744 450.5h1.4M744 451.5h1.4M744 478.5h1.4M745 477.5h1.4M746 447.5h1.4M746 476.5h1.4M747 447.5h1.4M747 449.5h1.4M747 450.5h1.4M747 451.5h1.4M748 451.5h1.4M748 475.5h1.4M748 477.5h1.4M749 448.5h1.4M750 447.5h1.4M751 449.5h1.4M751 472.5h1.4M751 474.5h1.4M752 472.5h1.4M753 446.5h1.4M754 473.5h1.4M755 450.5h1.4M756 451.5h1.4M757 445.5h1.4M757 448.5h1.4M757 449.5h1.4M757 451.5h1.4M758 442.5h1.4M758 459.5h1.4M758 464.5h1.4M758 469.5h1.4M759 452.5h1.4M759 453.5h1.4M759 459.5h1.4M759 460.5h1.4M759 470.5h1.4M759 472.5h1.4M759 473.5h1.4M760 444.5h1.4M760 445.5h1.4M760 446.5h1.4M760 455.5h1.4M760 456.5h1.4M760 460.5h1.4M760 461.5h1.4M760 469.5h1.4M761 445.5h1.4M761 448.5h1.4M761 450.5h1.4M761 457.5h1.4M762 451.5h1.4M762 460.5h1.4M763 446.5h1.4M763 451.5h1.4M763 452.5h1.4M763 463.5h1.4M763 467.5h1.4M764 455.5h1.4M764 457.5h1.4" stroke="#1e64f0" stroke-width="1.3" fill="none"/>
<path d="M626 501.5h1.4M626 503.5h1.4M627 502.5h1.4M686 503.5h1.4M687 501.5h1.4M689 498.5h1.4M689 504.5h1.4M689 505.5h1.4M689 506.5h1.4M690 500.5h1.4M690 503.5h1.4M690 509.5h1.4M691 496.5h1.4M691 498.5h1.4M691 503.5h1.4M691 507.5h1.4M692 488.5h1.4M692 496.5h1.4M692 500.5h1.4M692 506.5h1.4M692 509.5h1.4M693 492.5h1.4M693 503.5h1.4M693 507.5h1.4M693 508.5h1.4M694 489.5h1.4M694 497.5h1.4M695 486.5h1.4M695 490.5h1.4M695 491.5h1.4M695 495.5h1.4M695 502.5h1.4M695 503.5h1.4M695 506.5h1.4M696 484.5h1.4M696 488.5h1.4M696 496.5h1.4M696 497.5h1.4M696 500.5h1.4M697 500.5h1.4M697 505.5h1.4M698 498.5h1.4M698 503.5h1.4M699 489.5h1.4M699 501.5h1.4M699 506.5h1.4M700 484.5h1.4M701 487.5h1.4M701 489.5h1.4M701 492.5h1.4M701 495.5h1.4M701 500.5h1.4M701 505.5h1.4M702 482.5h1.4M702 483.5h1.4M702 485.5h1.4M702 493.5h1.4M702 494.5h1.4M702 496.5h1.4M702 500.5h1.4M702 501.5h1.4M703 485.5h1.4M703 496.5h1.4M704 473.5h1.4M704 489.5h1.4M704 501.5h1.4M705 473.5h1.4M705 474.5h1.4M705 488.5h1.4M705 494.5h1.4M705 498.5h1.4M705 500.5h1.4M706 479.5h1.4M706 482.5h1.4M706 483.5h1.4M706 486.5h1.4M706 491.5h1.4M706 493.5h1.4M706 495.5h1.4M706 496.5h1.4M706 502.5h1.4M706 503.5h1.4M707 480.5h1.4M707 483.5h1.4M707 484.5h1.4M707 485.5h1.4M707 492.5h1.4M707 503.5h1.4M707 504.5h1.4M708 477.5h1.4M708 480.5h1.4M708 482.5h1.4M708 483.5h1.4M708 494.5h1.4M708 496.5h1.4M708 497.5h1.4M708 498.5h1.4M709 474.5h1.4M709 479.5h1.4M709 480.5h1.4M709 485.5h1.4M709 486.5h1.4M709 488.5h1.4M709 489.5h1.4M709 491.5h1.4M709 493.5h1.4M709 494.5h1.4M709 495.5h1.4M709 498.5h1.4M710 476.5h1.4M710 477.5h1.4M710 491.5h1.4M710 494.5h1.4M711 473.5h1.4M711 478.5h1.4M711 484.5h1.4M711 485.5h1.4M711 486.5h1.4M711 488.5h1.4M711 489.5h1.4M711 496.5h1.4M712 470.5h1.4M712 475.5h1.4M712 478.5h1.4M712 482.5h1.4M712 485.5h1.4M712 491.5h1.4M712 493.5h1.4M712 499.5h1.4M713 476.5h1.4M713 484.5h1.4M713 493.5h1.4M713 498.5h1.4M714 468.5h1.4M714 472.5h1.4M714 484.5h1.4M714 490.5h1.4M714 492.5h1.4M714 499.5h1.4M715 471.5h1.4M715 477.5h1.4M715 480.5h1.4M715 481.5h1.4M715 482.5h1.4M715 483.5h1.4M715 494.5h1.4M715 499.5h1.4M716 471.5h1.4M716 475.5h1.4M716 481.5h1.4M716 493.5h1.4M717 467.5h1.4M717 469.5h1.4M717 479.5h1.4M717 480.5h1.4M717 483.5h1.4M717 498.5h1.4M717 499.5h1.4M718 466.5h1.4M718 470.5h1.4M718 472.5h1.4M718 473.5h1.4M718 479.5h1.4M718 487.5h1.4M718 490.5h1.4M718 492.5h1.4M719 468.5h1.4M719 473.5h1.4M719 474.5h1.4M719 482.5h1.4M719 486.5h1.4M719 490.5h1.4M719 494.5h1.4M720 464.5h1.4M720 466.5h1.4M720 476.5h1.4M720 481.5h1.4M720 482.5h1.4M720 492.5h1.4M720 495.5h1.4M721 465.5h1.4M721 470.5h1.4M721 474.5h1.4M721 477.5h1.4M721 481.5h1.4M721 485.5h1.4M721 486.5h1.4M721 487.5h1.4M721 497.5h1.4M722 459.5h1.4M722 461.5h1.4M722 463.5h1.4M722 471.5h1.4M722 472.5h1.4M722 496.5h1.4M723 462.5h1.4M723 483.5h1.4M723 487.5h1.4M723 490.5h1.4M724 469.5h1.4M724 471.5h1.4M724 472.5h1.4M724 486.5h1.4M724 499.5h1.4M725 460.5h1.4M725 462.5h1.4M725 465.5h1.4M725 466.5h1.4M725 468.5h1.4M725 469.5h1.4M725 485.5h1.4M725 487.5h1.4M725 488.5h1.4M725 489.5h1.4M725 491.5h1.4M725 493.5h1.4M726 468.5h1.4M726 484.5h1.4M726 486.5h1.4M726 489.5h1.4M726 491.5h1.4M727 458.5h1.4M727 469.5h1.4M727 483.5h1.4M727 490.5h1.4M727 493.5h1.4M728 466.5h1.4M728 484.5h1.4M728 492.5h1.4M729 458.5h1.4M729 459.5h1.4M729 461.5h1.4M729 463.5h1.4M729 485.5h1.4M729 489.5h1.4M730 460.5h1.4M730 461.5h1.4M730 491.5h1.4M730 493.5h1.4M731 458.5h1.4M731 462.5h1.4M731 464.5h1.4M731 486.5h1.4M732 456.5h1.4M732 464.5h1.4M732 484.5h1.4M732 489.5h1.4M733 455.5h1.4M733 456.5h1.4M733 458.5h1.4M734 455.5h1.4M734 480.5h1.4M734 481.5h1.4M734 483.5h1.4M735 458.5h1.4M735 461.5h1.4M735 480.5h1.4M735 483.5h1.4M736 461.5h1.4M736 480.5h1.4M736 481.5h1.4M737 450.5h1.4M737 452.5h1.4M737 456.5h1.4M737 458.5h1.4M737 477.5h1.4M737 479.5h1.4M737 480.5h1.4M738 457.5h1.4M738 478.5h1.4M738 480.5h1.4M738 484.5h1.4M739 456.5h1.4M739 477.5h1.4M739 483.5h1.4M739 487.5h1.4M740 457.5h1.4M740 477.5h1.4M740 479.5h1.4M740 485.5h1.4M741 480.5h1.4M742 451.5h1.4M742 454.5h1.4M742 455.5h1.4M742 457.5h1.4M742 484.5h1.4M743 454.5h1.4M743 455.5h1.4M743 476.5h1.4M743 478.5h1.4M743 479.5h1.4M744 475.5h1.4M744 477.5h1.4M745 482.5h1.4M746 453.5h1.4M746 473.5h1.4M746 476.5h1.4M747 447.5h1.4M747 451.5h1.4M747 452.5h1.4M747 475.5h1.4M748 453.5h1.4M748 455.5h1.4M748 471.5h1.4M748 472.5h1.4M748 474.5h1.4M748 479.5h1.4M749 445.5h1.4M749 450.5h1.4M749 452.5h1.4M749 469.5h1.4M749 470.5h1.4M749 474.5h1.4M749 475.5h1.4M749 478.5h1.4M749 479.5h1.4M750 446.5h1.4M750 452.5h1.4M750 468.5h1.4M750 470.5h1.4M751 444.5h1.4M751 448.5h1.4M751 450.5h1.4M751 468.5h1.4M751 470.5h1.4M752 445.5h1.4M752 453.5h1.4M752 455.5h1.4M752 473.5h1.4M753 454.5h1.4M753 455.5h1.4M753 470.5h1.4M753 471.5h1.4M753 472.5h1.4M753 473.5h1.4M754 444.5h1.4M754 448.5h1.4M754 454.5h1.4M754 455.5h1.4M754 456.5h1.4M754 470.5h1.4M755 450.5h1.4M755 452.5h1.4M755 455.5h1.4M755 459.5h1.4M755 461.5h1.4M755 462.5h1.4M755 466.5h1.4M756 445.5h1.4M756 450.5h1.4M756 455.5h1.4M756 459.5h1.4M756 460.5h1.4M756 461.5h1.4M756 463.5h1.4M756 464.5h1.4M756 468.5h1.4M756 470.5h1.4M756 471.5h1.4M756 473.5h1.4M757 451.5h1.4M757 457.5h1.4M757 469.5h1.4M758 443.5h1.4M758 444.5h1.4M758 446.5h1.4M758 449.5h1.4M758 453.5h1.4M758 457.5h1.4M758 460.5h1.4M758 461.5h1.4M758 468.5h1.4M758 469.5h1.4M758 471.5h1.4M758 472.5h1.4M759 451.5h1.4M759 456.5h1.4M759 458.5h1.4M760 442.5h1.4M760 445.5h1.4M760 466.5h1.4M761 443.5h1.4M761 444.5h1.4M761 447.5h1.4M761 454.5h1.4M761 462.5h1.4M761 463.5h1.4M762 443.5h1.4M762 447.5h1.4M762 450.5h1.4M763 455.5h1.4M763 460.5h1.4M765 455.5h1.4M766 456.5h1.4M766 457.5h1.4" stroke="#1ec8f0" stroke-width="1.3" fill="none"/>
<path d="M696 495.5h1.4M696 496.5h1.4M698 491.5h1.4M698 497.5h1.4M699 489.5h1.4M699 491.5h1.4M699 495.5h1.4M700 491.5h1.4M700 496.5h1.4M701 483.5h1.4M701 492.5h1.4M701 493.5h1.4M701 495.5h1.4M703 484.5h1.4M703 485.5h1.4M703 489.5h1.4M703 491.5h1.4M703 492.5h1.4M703 496.5h1.4M703 497.5h1.4M704 487.5h1.4M704 492.5h1.4M704 497.5h1.4M705 483.5h1.4M705 484.5h1.4M705 487.5h1.4M705 494.5h1.4M705 495.5h1.4M706 481.5h1.4M706 482.5h1.4M706 485.5h1.4M706 488.5h1.4M706 489.5h1.4M706 495.5h1.4M707 481.5h1.4M707 484.5h1.4M707 486.5h1.4M707 496.5h1.4M708 475.5h1.4M708 481.5h1.4M708 490.5h1.4M708 494.5h1.4M708 497.5h1.4M709 482.5h1.4M709 486.5h1.4M709 489.5h1.4M709 491.5h1.4M709 493.5h1.4M710 471.5h1.4M710 474.5h1.4M710 484.5h1.4M710 491.5h1.4M710 497.5h1.4M711 473.5h1.4M711 475.5h1.4M711 476.5h1.4M711 477.5h1.4M711 485.5h1.4M711 489.5h1.4M711 492.5h1.4M711 494.5h1.4M712 472.5h1.4M712 479.5h1.4M712 481.5h1.4M712 492.5h1.4M712 496.5h1.4M713 472.5h1.4M713 474.5h1.4M713 475.5h1.4M713 480.5h1.4M713 482.5h1.4M713 485.5h1.4M713 489.5h1.4M713 491.5h1.4M713 492.5h1.4M714 471.5h1.4M714 472.5h1.4M714 477.5h1.4M714 478.5h1.4M714 479.5h1.4M714 482.5h1.4M714 486.5h1.4M714 490.5h1.4M714 496.5h1.4M715 470.5h1.4M715 487.5h1.4M715 489.5h1.4M715 490.5h1.4M715 492.5h1.4M716 471.5h1.4M716 473.5h1.4M716 477.5h1.4M716 480.5h1.4M716 485.5h1.4M716 490.5h1.4M717 475.5h1.4M717 476.5h1.4M717 479.5h1.4M717 481.5h1.4M717 483.5h1.4M717 484.5h1.4M717 485.5h1.4M717 486.5h1.4M717 490.5h1.4M717 495.5h1.4M718 468.5h1.4M718 475.5h1.4M718 476.5h1.4M718 482.5h1.4M718 485.5h1.4M718 490.5h1.4M719 471.5h1.4M719 473.5h1.4M719 475.5h1.4M719 482.5h1.4M719 483.5h1.4M719 484.5h1.4M719 485.5h1.4M719 487.5h1.4M719 489.5h1.4M719 491.5h1.4M719 494.5h1.4M720 472.5h1.4M720 475.5h1.4M720 476.5h1.4M720 479.5h1.4M720 481.5h1.4M720 488.5h1.4M720 489.5h1.4M720 490.5h1.4M720 491.5h1.4M721 470.5h1.4M721 479.5h1.4M721 482.5h1.4M721 487.5h1.4M721 493.5h1.4M722 473.5h1.4M722 474.5h1.4M722 480.5h1.4M722 481.5h1.4M722 494.5h1.4M723 465.5h1.4M723 471.5h1.4M723 472.5h1.4M723 475.5h1.4M723 476.5h1.4M723 483.5h1.4M723 492.5h1.4M723 494.5h1.4M724 465.5h1.4M724 469.5h1.4M724 475.5h1.4M724 476.5h1.4M724 479.5h1.4M724 487.5h1.4M724 493.5h1.4M724 494.5h1.4M725 464.5h1.4M725 468.5h1.4M725 470.5h1.4M725 472.5h1.4M725 481.5h1.4M725 484.5h1.4M725 490.5h1.4M725 492.5h1.4M725 493.5h1.4M726 462.5h1.4M726 468.5h1.4M726 470.5h1.4M726 484.5h1.4M726 485.5h1.4M726 491.5h1.4M727 472.5h1.4M727 482.5h1.4M727 493.5h1.4M728 461.5h1.4M728 462.5h1.4M728 467.5h1.4M728 469.5h1.4M728 470.5h1.4M728 480.5h1.4M728 484.5h1.4M729 465.5h1.4M729 470.5h1.4M729 481.5h1.4M729 485.5h1.4M729 486.5h1.4M730 460.5h1.4M730 461.5h1.4M730 462.5h1.4M730 468.5h1.4M730 470.5h1.4M730 480.5h1.4M730 483.5h1.4M730 486.5h1.4M731 457.5h1.4M731 465.5h1.4M731 466.5h1.4M731 480.5h1.4M731 481.5h1.4M731 482.5h1.4M732 466.5h1.4M732 481.5h1.4M733 456.5h1.4M733 458.5h1.4M733 459.5h1.4M733 460.5h1.4M733 462.5h1.4M733 466.5h1.4M733 482.5h1.4M733 484.5h1.4M734 456.5h1.4M734 457.5h1.4M734 458.5h1.4M734 459.5h1.4M734 460.5h1.4M734 462.5h1.4M734 464.5h1.4M734 480.5h1.4M735 461.5h1.4M735 462.5h1.4M735 463.5h1.4M735 477.5h1.4M736 460.5h1.4M737 454.5h1.4M737 456.5h1.4M737 459.5h1.4M737 474.5h1.4M737 475.5h1.4M737 477.5h1.4M737 478.5h1.4M737 483.5h1.4M738 460.5h1.4M738 474.5h1.4M739 455.5h1.4M739 477.5h1.4M739 481.5h1.4M740 454.5h1.4M740 457.5h1.4M740 459.5h1.4M740 461.5h1.4M740 482.5h1.4M741 453.5h1.4M741 454.5h1.4M741 455.5h1.4M741 461.5h1.4M741 471.5h1.4M741 477.5h1.4M741 478.5h1.4M742 455.5h1.4M742 456.5h1.4M742 460.5h1.4M742 472.5h1.4M742 473.5h1.4M742 475.5h1.4M742 478.5h1.4M743 454.5h1.4M743 455.5h1.4M743 457.5h1.4M743 472.5h1.4M743 475.5h1.4M744 455.5h1.4M744 461.5h1.4M744 471.5h1.4M744 474.5h1.4M744 475.5h1.4M744 476.5h1.4M745 451.5h1.4M745 458.5h1.4M745 471.5h1.4M745 478.5h1.4M746 452.5h1.4M746 453.5h1.4M746 456.5h1.4M746 460.5h1.4M746 469.5h1.4M747 454.5h1.4M747 455.5h1.4M747 456.5h1.4M747 457.5h1.4M747 458.5h1.4M747 468.5h1.4M747 469.5h1.4M747 470.5h1.4M747 473.5h1.4M747 474.5h1.4M748 450.5h1.4M748 451.5h1.4M748 454.5h1.4M748 455.5h1.4M748 461.5h1.4M748 468.5h1.4M748 474.5h1.4M749 448.5h1.4M749 450.5h1.4M749 454.5h1.4M749 455.5h1.4M749 456.5h1.4M749 458.5h1.4M749 465.5h1.4M749 466.5h1.4M749 468.5h1.4M749 469.5h1.4M749 472.5h1.4M750 451.5h1.4M750 452.5h1.4M750 453.5h1.4M750 455.5h1.4M750 456.5h1.4M750 457.5h1.4M750 458.5h1.4M750 466.5h1.4M750 470.5h1.4M751 447.5h1.4M751 456.5h1.4M752 453.5h1.4M752 454.5h1.4M752 457.5h1.4M752 464.5h1.4M752 466.5h1.4M752 468.5h1.4M753 449.5h1.4M753 452.5h1.4M753 459.5h1.4M753 470.5h1.4M753 473.5h1.4M754 447.5h1.4M754 451.5h1.4M754 452.5h1.4M754 455.5h1.4M754 457.5h1.4M754 460.5h1.4M754 462.5h1.4M755 450.5h1.4M755 453.5h1.4M755 454.5h1.4M755 456.5h1.4M755 458.5h1.4M755 461.5h1.4M755 462.5h1.4M755 463.5h1.4M755 466.5h1.4M755 467.5h1.4M755 469.5h1.4M755 470.5h1.4M756 450.5h1.4M756 454.5h1.4M756 456.5h1.4M756 463.5h1.4M756 465.5h1.4M756 467.5h1.4M757 451.5h1.4M757 455.5h1.4M757 456.5h1.4M757 457.5h1.4M757 462.5h1.4M757 468.5h1.4M757 469.5h1.4M758 450.5h1.4M758 451.5h1.4M758 461.5h1.4M758 464.5h1.4M760 453.5h1.4M761 453.5h1.4M761 455.5h1.4M762 453.5h1.4M762 454.5h1.4M762 458.5h1.4M763 455.5h1.4M763 456.5h1.4" stroke="#28e628" stroke-width="1.3" fill="none"/>
<path d="M710 483.5h1.4M710 485.5h1.4M710 489.5h1.4M710 491.5h1.4M711 483.5h1.4M712 480.5h1.4M712 481.5h1.4M712 483.5h1.4M712 490.5h1.4M713 480.5h1.4M713 481.5h1.4M713 484.5h1.4M713 485.5h1.4M713 490.5h1.4M714 477.5h1.4M714 479.5h1.4M714 480.5h1.4M714 483.5h1.4M714 484.5h1.4M714 485.5h1.4M714 490.5h1.4M715 474.5h1.4M715 478.5h1.4M715 482.5h1.4M715 484.5h1.4M715 486.5h1.4M715 491.5h1.4M716 475.5h1.4M716 476.5h1.4M716 482.5h1.4M716 484.5h1.4M716 485.5h1.4M717 474.5h1.4M717 480.5h1.4M717 482.5h1.4M717 486.5h1.4M718 476.5h1.4M718 478.5h1.4M718 486.5h1.4M718 487.5h1.4M719 478.5h1.4M719 481.5h1.4M719 485.5h1.4M720 474.5h1.4M720 478.5h1.4M720 479.5h1.4M720 480.5h1.4M720 485.5h1.4M720 486.5h1.4M721 477.5h1.4M721 482.5h1.4M721 483.5h1.4M721 484.5h1.4M722 471.5h1.4M722 474.5h1.4M722 477.5h1.4M722 479.5h1.4M722 482.5h1.4M722 483.5h1.4M723 471.5h1.4M723 476.5h1.4M723 477.5h1.4M723 479.5h1.4M723 483.5h1.4M724 474.5h1.4M724 478.5h1.4M724 479.5h1.4M724 480.5h1.4M724 481.5h1.4M724 486.5h1.4M724 488.5h1.4M725 475.5h1.4M725 476.5h1.4M725 478.5h1.4M725 480.5h1.4M726 475.5h1.4M726 478.5h1.4M726 481.5h1.4M726 482.5h1.4M726 483.5h1.4M727 471.5h1.4M727 477.5h1.4M727 480.5h1.4M727 481.5h1.4M728 468.5h1.4M728 471.5h1.4M728 477.5h1.4M728 480.5h1.4M728 484.5h1.4M729 468.5h1.4M729 470.5h1.4M729 471.5h1.4M729 478.5h1.4M729 481.5h1.4M729 483.5h1.4M729 484.5h1.4M730 466.5h1.4M730 473.5h1.4M730 477.5h1.4M730 479.5h1.4M731 463.5h1.4M731 465.5h1.4M731 466.5h1.4M731 477.5h1.4M731 479.5h1.4M731 480.5h1.4M731 481.5h1.4M731 485.5h1.4M732 478.5h1.4M732 479.5h1.4M732 484.5h1.4M733 464.5h1.4M733 465.5h1.4M733 467.5h1.4M733 477.5h1.4M733 480.5h1.4M733 481.5h1.4M733 482.5h1.4M734 459.5h1.4M734 464.5h1.4M734 474.5h1.4M735 459.5h1.4M735 460.5h1.4M735 464.5h1.4M735 480.5h1.4M735 482.5h1.4M736 463.5h1.4M736 464.5h1.4M736 474.5h1.4M736 475.5h1.4M736 476.5h1.4M737 458.5h1.4M737 473.5h1.4M737 474.5h1.4M737 476.5h1.4M737 478.5h1.4M738 457.5h1.4M738 459.5h1.4M738 463.5h1.4M738 471.5h1.4M738 473.5h1.4M738 476.5h1.4M738 479.5h1.4M738 481.5h1.4M738 482.5h1.4M739 457.5h1.4M739 458.5h1.4M739 460.5h1.4M739 461.5h1.4M739 462.5h1.4M739 476.5h1.4M739 477.5h1.4M739 478.5h1.4M739 479.5h1.4M739 480.5h1.4M739 482.5h1.4M740 456.5h1.4M740 458.5h1.4M740 459.5h1.4M740 462.5h1.4M740 464.5h1.4M740 471.5h1.4M740 475.5h1.4M740 476.5h1.4M740 477.5h1.4M741 458.5h1.4M741 460.5h1.4M741 472.5h1.4M741 473.5h1.4M741 475.5h1.4M741 478.5h1.4M742 460.5h1.4M742 464.5h1.4M742 471.5h1.4M742 473.5h1.4M742 478.5h1.4M743 455.5h1.4M743 458.5h1.4M743 461.5h1.4M743 470.5h1.4M744 454.5h1.4M744 455.5h1.4M744 458.5h1.4M744 469.5h1.4M744 471.5h1.4M745 457.5h1.4M745 474.5h1.4M745 476.5h1.4M746 453.5h1.4M746 465.5h1.4M746 470.5h1.4M747 453.5h1.4M747 455.5h1.4M747 457.5h1.4M747 465.5h1.4M747 466.5h1.4M747 467.5h1.4M747 469.5h1.4M748 456.5h1.4M748 459.5h1.4M748 466.5h1.4M748 470.5h1.4M748 473.5h1.4M749 452.5h1.4M749 455.5h1.4M749 461.5h1.4M749 462.5h1.4M749 463.5h1.4M749 467.5h1.4M749 468.5h1.4M749 470.5h1.4M750 452.5h1.4M750 454.5h1.4M750 455.5h1.4M750 459.5h1.4M750 462.5h1.4M750 463.5h1.4M750 467.5h1.4M750 468.5h1.4M751 452.5h1.4M751 456.5h1.4M751 457.5h1.4M751 459.5h1.4M751 461.5h1.4M751 462.5h1.4M751 466.5h1.4M751 467.5h1.4M751 470.5h1.4M752 454.5h1.4M752 455.5h1.4M752 462.5h1.4M753 453.5h1.4M753 456.5h1.4M753 458.5h1.4M753 462.5h1.4M753 463.5h1.4M753 466.5h1.4M753 467.5h1.4M753 470.5h1.4M754 454.5h1.4M754 456.5h1.4M754 459.5h1.4M754 460.5h1.4M754 462.5h1.4M754 463.5h1.4M754 465.5h1.4M754 467.5h1.4M755 455.5h1.4M755 462.5h1.4M755 467.5h1.4M756 455.5h1.4M756 457.5h1.4M756 458.5h1.4M756 459.5h1.4M756 460.5h1.4M756 463.5h1.4M757 464.5h1.4M758 457.5h1.4M759 457.5h1.4M760 456.5h1.4M760 457.5h1.4" stroke="#78f014" stroke-width="1.3" fill="none"/>
<path d="M722 475.5h1.4M722 477.5h1.4M722 482.5h1.4M723 476.5h1.4M723 478.5h1.4M723 479.5h1.4M723 480.5h1.4M723 481.5h1.4M724 477.5h1.4M724 480.5h1.4M724 482.5h1.4M725 472.5h1.4M725 474.5h1.4M725 475.5h1.4M725 481.5h1.4M726 473.5h1.4M726 475.5h1.4M726 480.5h1.4M726 482.5h1.4M727 473.5h1.4M727 476.5h1.4M727 478.5h1.4M727 479.5h1.4M727 482.5h1.4M728 468.5h1.4M728 472.5h1.4M728 473.5h1.4M728 474.5h1.4M728 478.5h1.4M729 468.5h1.4M729 470.5h1.4M729 471.5h1.4M729 475.5h1.4M729 476.5h1.4M729 477.5h1.4M729 479.5h1.4M729 480.5h1.4M729 481.5h1.4M730 465.5h1.4M730 470.5h1.4M730 471.5h1.4M730 474.5h1.4M730 476.5h1.4M730 477.5h1.4M730 478.5h1.4M730 479.5h1.4M730 482.5h1.4M731 465.5h1.4M731 466.5h1.4M731 473.5h1.4M731 474.5h1.4M731 476.5h1.4M731 477.5h1.4M731 479.5h1.4M731 480.5h1.4M732 465.5h1.4M732 473.5h1.4M732 475.5h1.4M732 476.5h1.4M732 477.5h1.4M732 478.5h1.4M732 480.5h1.4M732 481.5h1.4M733 466.5h1.4M733 467.5h1.4M733 468.5h1.4M733 469.5h1.4M733 471.5h1.4M733 475.5h1.4M733 478.5h1.4M733 481.5h1.4M733 482.5h1.4M734 463.5h1.4M734 464.5h1.4M734 466.5h1.4M734 467.5h1.4M734 476.5h1.4M735 463.5h1.4M735 466.5h1.4M735 471.5h1.4M735 473.5h1.4M735 474.5h1.4M735 475.5h1.4M735 477.5h1.4M736 460.5h1.4M736 462.5h1.4M736 466.5h1.4M736 467.5h1.4M736 476.5h1.4M736 478.5h1.4M736 479.5h1.4M737 459.5h1.4M737 463.5h1.4M737 464.5h1.4M737 466.5h1.4M737 467.5h1.4M737 473.5h1.4M738 459.5h1.4M738 460.5h1.4M738 461.5h1.4M738 464.5h1.4M738 465.5h1.4M738 467.5h1.4M738 471.5h1.4M738 474.5h1.4M738 475.5h1.4M738 476.5h1.4M739 460.5h1.4M739 462.5h1.4M739 471.5h1.4M739 476.5h1.4M740 459.5h1.4M740 464.5h1.4M740 468.5h1.4M740 469.5h1.4M740 470.5h1.4M740 475.5h1.4M741 459.5h1.4M741 460.5h1.4M741 462.5h1.4M741 470.5h1.4M741 472.5h1.4M741 473.5h1.4M741 474.5h1.4M741 475.5h1.4M742 460.5h1.4M742 461.5h1.4M742 462.5h1.4M742 469.5h1.4M742 470.5h1.4M742 474.5h1.4M743 456.5h1.4M743 457.5h1.4M743 461.5h1.4M743 464.5h1.4M743 468.5h1.4M744 456.5h1.4M744 457.5h1.4M744 460.5h1.4M744 462.5h1.4M744 464.5h1.4M744 468.5h1.4M744 473.5h1.4M745 456.5h1.4M745 457.5h1.4M745 460.5h1.4M745 464.5h1.4M745 471.5h1.4M746 458.5h1.4M746 462.5h1.4M746 463.5h1.4M746 464.5h1.4M746 465.5h1.4M746 467.5h1.4M746 468.5h1.4M747 458.5h1.4M747 460.5h1.4M747 462.5h1.4M747 463.5h1.4M747 467.5h1.4M747 469.5h1.4M748 456.5h1.4M748 466.5h1.4M749 461.5h1.4M749 462.5h1.4M749 464.5h1.4M749 466.5h1.4M749 467.5h1.4M750 454.5h1.4M750 455.5h1.4M750 457.5h1.4M750 458.5h1.4M750 460.5h1.4M750 461.5h1.4M750 464.5h1.4M750 467.5h1.4M751 455.5h1.4M751 457.5h1.4M751 458.5h1.4M751 463.5h1.4M751 464.5h1.4M751 465.5h1.4M751 466.5h1.4M752 458.5h1.4M752 460.5h1.4M752 461.5h1.4M753 457.5h1.4M753 459.5h1.4M753 462.5h1.4M753 463.5h1.4M753 464.5h1.4M754 458.5h1.4M754 459.5h1.4M754 463.5h1.4M754 466.5h1.4" stroke="#f0f000" stroke-width="1.3" fill="none"/>
<path d="M725 475.5h1.4M725 478.5h1.4M725 479.5h1.4M726 477.5h1.4M726 478.5h1.4M726 479.5h1.4M727 475.5h1.4M727 478.5h1.4M728 471.5h1.4M728 472.5h1.4M728 474.5h1.4M728 476.5h1.4M728 477.5h1.4M728 478.5h1.4M729 471.5h1.4M729 476.5h1.4M729 477.5h1.4M730 471.5h1.4M730 475.5h1.4M731 468.5h1.4M731 470.5h1.4M731 475.5h1.4M731 476.5h1.4M731 478.5h1.4M732 468.5h1.4M732 469.5h1.4M732 470.5h1.4M732 473.5h1.4M732 474.5h1.4M732 475.5h1.4M732 477.5h1.4M733 467.5h1.4M733 473.5h1.4M733 475.5h1.4M733 476.5h1.4M733 478.5h1.4M733 479.5h1.4M734 466.5h1.4M734 467.5h1.4M734 468.5h1.4M734 469.5h1.4M734 471.5h1.4M734 473.5h1.4M734 475.5h1.4M734 476.5h1.4M735 466.5h1.4M735 469.5h1.4M736 465.5h1.4M736 466.5h1.4M736 468.5h1.4M736 473.5h1.4M736 476.5h1.4M737 463.5h1.4M737 466.5h1.4M737 467.5h1.4M737 468.5h1.4M737 471.5h1.4M737 473.5h1.4M738 464.5h1.4M738 465.5h1.4M738 467.5h1.4M738 470.5h1.4M739 462.5h1.4M739 470.5h1.4M739 473.5h1.4M740 463.5h1.4M740 464.5h1.4M740 465.5h1.4M740 467.5h1.4M740 469.5h1.4M741 463.5h1.4M741 465.5h1.4M741 469.5h1.4M742 465.5h1.4M742 466.5h1.4M742 467.5h1.4M742 470.5h1.4M743 464.5h1.4M743 465.5h1.4M744 462.5h1.4M744 463.5h1.4M744 464.5h1.4M744 467.5h1.4M744 468.5h1.4M744 470.5h1.4M745 464.5h1.4M745 469.5h1.4M745 470.5h1.4M746 462.5h1.4M746 464.5h1.4M746 465.5h1.4M746 466.5h1.4M747 462.5h1.4M747 464.5h1.4M748 460.5h1.4M748 464.5h1.4M749 459.5h1.4M749 460.5h1.4M749 461.5h1.4M749 464.5h1.4M750 459.5h1.4M750 460.5h1.4M750 462.5h1.4M750 464.5h1.4M751 459.5h1.4M751 460.5h1.4M751 462.5h1.4" stroke="#ff8c00" stroke-width="1.3" fill="none"/>
<path d="M728 474.5h1.4M728 476.5h1.4M729 474.5h1.4M729 475.5h1.4M730 469.5h1.4M730 471.5h1.4M730 475.5h1.4M731 468.5h1.4M732 468.5h1.4M732 469.5h1.4M732 470.5h1.4M732 473.5h1.4M732 474.5h1.4M732 476.5h1.4M733 469.5h1.4M733 470.5h1.4M733 471.5h1.4M733 472.5h1.4M734 465.5h1.4M734 466.5h1.4M734 469.5h1.4M734 470.5h1.4M734 471.5h1.4M734 473.5h1.4M735 468.5h1.4M735 469.5h1.4M735 470.5h1.4M735 472.5h1.4M735 473.5h1.4M736 466.5h1.4M736 468.5h1.4M736 469.5h1.4M736 470.5h1.4M736 472.5h1.4M736 473.5h1.4M737 466.5h1.4M737 468.5h1.4M737 469.5h1.4M738 466.5h1.4M738 468.5h1.4M738 469.5h1.4M738 470.5h1.4M739 465.5h1.4M739 466.5h1.4M739 468.5h1.4M739 469.5h1.4M739 470.5h1.4M740 465.5h1.4M740 466.5h1.4M740 467.5h1.4M741 466.5h1.4M741 467.5h1.4M741 468.5h1.4M741 469.5h1.4M742 465.5h1.4M742 466.5h1.4M742 467.5h1.4M743 463.5h1.4M743 464.5h1.4M743 465.5h1.4M743 466.5h1.4M743 467.5h1.4M744 462.5h1.4M744 463.5h1.4M744 465.5h1.4M744 467.5h1.4M745 466.5h1.4M745 467.5h1.4M746 462.5h1.4M746 463.5h1.4M746 464.5h1.4M747 463.5h1.4M748 463.5h1.4" stroke="#ff1400" stroke-width="1.3" fill="none"/>
<path d="M823 411.5h1.4M824 446.5h1.4M824 491.5h1.4M824 526.5h1.4M825 451.5h1.4M825 462.5h1.4M826 431.5h1.4M826 471.5h1.4M827 455.5h1.4M827 463.5h1.4M827 480.5h1.4M827 518.5h1.4M828 440.5h1.4M828 441.5h1.4M828 457.5h1.4M828 459.5h1.4M828 497.5h1.4M828 498.5h1.4M828 504.5h1.4M828 507.5h1.4M829 366.5h1.4M829 414.5h1.4M829 435.5h1.4M829 440.5h1.4M829 445.5h1.4M829 446.5h1.4M829 473.5h1.4M829 486.5h1.4M829 489.5h1.4M830 404.5h1.4M830 500.5h1.4M830 539.5h1.4M831 424.5h1.4M831 499.5h1.4M831 535.5h1.4M832 358.5h1.4M832 382.5h1.4M832 504.5h1.4M833 505.5h1.4M833 510.5h1.4M833 547.5h1.4M834 396.5h1.4M834 407.5h1.4M834 418.5h1.4M834 423.5h1.4M834 424.5h1.4M834 524.5h1.4M835 400.5h1.4M835 413.5h1.4M835 416.5h1.4M835 508.5h1.4M835 528.5h1.4M836 402.5h1.4M836 407.5h1.4M836 513.5h1.4M836 522.5h1.4M836 530.5h1.4M836 531.5h1.4M837 400.5h1.4M837 405.5h1.4M837 517.5h1.4M837 524.5h1.4M838 515.5h1.4M838 533.5h1.4M839 379.5h1.4M839 396.5h1.4M839 404.5h1.4M839 526.5h1.4M839 530.5h1.4M839 549.5h1.4M840 391.5h1.4M840 392.5h1.4M840 398.5h1.4M840 400.5h1.4M840 533.5h1.4M841 370.5h1.4M841 395.5h1.4M842 393.5h1.4M842 401.5h1.4M842 532.5h1.4M842 537.5h1.4M842 539.5h1.4M842 551.5h1.4M843 367.5h1.4M843 401.5h1.4M843 539.5h1.4M843 541.5h1.4M843 543.5h1.4M843 545.5h1.4M843 547.5h1.4M844 366.5h1.4M844 404.5h1.4M844 538.5h1.4M844 541.5h1.4M844 548.5h1.4M845 360.5h1.4M845 379.5h1.4M845 404.5h1.4M845 545.5h1.4M846 378.5h1.4M846 380.5h1.4M846 390.5h1.4M846 548.5h1.4M847 377.5h1.4M847 393.5h1.4M847 531.5h1.4M847 536.5h1.4M847 542.5h1.4M848 397.5h1.4M848 400.5h1.4M848 401.5h1.4M848 541.5h1.4M849 380.5h1.4M849 391.5h1.4M849 393.5h1.4M849 534.5h1.4M849 544.5h1.4M850 349.5h1.4M850 393.5h1.4M850 400.5h1.4M850 532.5h1.4M850 550.5h1.4M851 372.5h1.4M851 393.5h1.4M851 406.5h1.4M851 407.5h1.4M851 538.5h1.4M851 545.5h1.4M851 548.5h1.4M852 406.5h1.4M852 538.5h1.4M853 380.5h1.4M853 389.5h1.4M853 528.5h1.4M853 532.5h1.4M853 535.5h1.4M854 395.5h1.4M854 532.5h1.4M855 392.5h1.4M855 399.5h1.4M856 361.5h1.4M856 390.5h1.4M856 397.5h1.4M856 405.5h1.4M857 381.5h1.4M857 400.5h1.4M857 409.5h1.4M857 524.5h1.4M857 539.5h1.4M858 368.5h1.4M858 529.5h1.4M858 532.5h1.4M859 514.5h1.4M860 394.5h1.4M860 399.5h1.4M861 399.5h1.4M861 404.5h1.4M861 410.5h1.4M861 411.5h1.4M861 516.5h1.4M861 529.5h1.4M862 382.5h1.4M862 406.5h1.4M862 409.5h1.4M862 417.5h1.4M862 419.5h1.4M862 422.5h1.4M862 516.5h1.4M863 402.5h1.4M863 409.5h1.4M863 416.5h1.4M863 422.5h1.4M863 514.5h1.4M863 517.5h1.4M864 416.5h1.4M864 438.5h1.4M864 440.5h1.4M864 497.5h1.4M864 498.5h1.4M864 516.5h1.4M864 520.5h1.4M864 522.5h1.4M864 549.5h1.4M865 406.5h1.4M865 412.5h1.4M865 443.5h1.4M865 484.5h1.4M865 489.5h1.4M865 490.5h1.4M865 499.5h1.4M865 511.5h1.4M865 522.5h1.4M866 399.5h1.4M866 413.5h1.4M866 437.5h1.4M866 484.5h1.4M866 492.5h1.4M866 494.5h1.4M866 495.5h1.4M866 508.5h1.4M866 518.5h1.4M867 406.5h1.4M867 410.5h1.4M867 436.5h1.4M867 442.5h1.4M867 449.5h1.4M867 511.5h1.4M868 405.5h1.4M868 408.5h1.4M868 446.5h1.4M868 456.5h1.4M868 465.5h1.4M868 487.5h1.4M868 492.5h1.4M868 499.5h1.4M868 504.5h1.4M868 509.5h1.4M868 513.5h1.4M868 518.5h1.4M869 412.5h1.4M869 418.5h1.4M869 419.5h1.4M869 463.5h1.4M869 480.5h1.4M869 489.5h1.4M869 495.5h1.4M869 500.5h1.4M869 504.5h1.4M869 509.5h1.4M870 408.5h1.4M870 416.5h1.4M870 417.5h1.4M870 446.5h1.4M870 452.5h1.4M870 500.5h1.4M870 506.5h1.4M871 397.5h1.4M871 416.5h1.4M871 417.5h1.4M871 422.5h1.4M871 428.5h1.4M871 432.5h1.4M871 446.5h1.4M871 448.5h1.4M871 458.5h1.4M871 460.5h1.4M871 466.5h1.4M871 482.5h1.4M871 483.5h1.4M872 411.5h1.4M872 420.5h1.4M872 427.5h1.4M872 431.5h1.4M872 432.5h1.4M872 450.5h1.4M872 465.5h1.4M872 491.5h1.4M872 496.5h1.4M872 501.5h1.4M872 502.5h1.4M872 503.5h1.4M872 511.5h1.4M873 412.5h1.4M873 427.5h1.4M873 453.5h1.4M873 455.5h1.4M873 458.5h1.4M873 490.5h1.4M873 500.5h1.4M874 373.5h1.4M874 411.5h1.4M874 424.5h1.4M874 430.5h1.4M874 449.5h1.4M874 458.5h1.4M874 459.5h1.4M874 489.5h1.4M874 501.5h1.4M875 419.5h1.4M875 422.5h1.4M875 424.5h1.4M875 431.5h1.4M875 433.5h1.4M875 444.5h1.4M875 459.5h1.4M875 460.5h1.4M875 473.5h1.4M875 476.5h1.4M875 510.5h1.4M876 421.5h1.4M876 427.5h1.4M876 446.5h1.4M876 449.5h1.4M876 463.5h1.4M876 471.5h1.4M876 490.5h1.4M876 498.5h1.4M876 512.5h1.4M877 360.5h1.4M877 377.5h1.4M877 394.5h1.4M877 425.5h1.4M877 444.5h1.4M877 460.5h1.4M877 464.5h1.4M877 466.5h1.4M877 485.5h1.4M878 436.5h1.4M878 480.5h1.4M878 489.5h1.4M878 511.5h1.4M879 438.5h1.4M879 448.5h1.4M879 458.5h1.4M879 462.5h1.4M879 476.5h1.4M879 496.5h1.4M879 502.5h1.4M880 418.5h1.4M880 432.5h1.4M880 436.5h1.4M880 449.5h1.4M880 451.5h1.4M880 485.5h1.4M881 426.5h1.4M881 427.5h1.4M881 455.5h1.4M882 431.5h1.4M882 446.5h1.4M882 450.5h1.4M882 461.5h1.4M882 467.5h1.4M882 468.5h1.4M883 441.5h1.4M883 451.5h1.4M883 458.5h1.4M883 488.5h1.4M884 442.5h1.4M884 462.5h1.4M884 492.5h1.4M885 452.5h1.4M885 522.5h1.4M886 444.5h1.4M886 505.5h1.4M887 433.5h1.4M887 466.5h1.4M887 490.5h1.4M888 416.5h1.4M888 421.5h1.4M888 453.5h1.4M888 499.5h1.4M888 520.5h1.4M889 420.5h1.4M889 426.5h1.4M889 438.5h1.4M889 463.5h1.4M890 488.5h1.4M895 461.5h1.4M896 493.5h1.4M897 413.5h1.4M897 425.5h1.4M897 440.5h1.4M897 547.5h1.4M898 527.5h1.4M900 480.5h1.4M901 469.5h1.4M901 475.5h1.4M902 429.5h1.4M906 469.5h1.4M908 462.5h1.4M911 436.5h1.4M913 455.5h1.4M915 460.5h1.4M915 479.5h1.4M916 492.5h1.4M917 517.5h1.4M919 423.5h1.4M919 442.5h1.4M920 491.5h1.4M921 448.5h1.4M921 461.5h1.4M922 408.5h1.4M922 455.5h1.4M923 436.5h1.4M923 473.5h1.4M924 461.5h1.4M924 474.5h1.4M924 491.5h1.4M924 493.5h1.4M925 436.5h1.4M926 510.5h1.4M927 414.5h1.4M927 449.5h1.4M928 456.5h1.4M929 465.5h1.4M929 466.5h1.4M930 485.5h1.4M930 498.5h1.4M933 410.5h1.4M934 514.5h1.4M936 500.5h1.4M936 503.5h1.4M936 508.5h1.4M937 414.5h1.4M939 432.5h1.4M940 426.5h1.4M940 465.5h1.4M940 531.5h1.4M941 458.5h1.4M941 459.5h1.4M941 465.5h1.4M941 494.5h1.4M942 513.5h1.4M945 504.5h1.4M946 438.5h1.4M947 460.5h1.4M949 411.5h1.4M949 413.5h1.4M951 459.5h1.4M952 454.5h1.4M952 476.5h1.4M953 490.5h1.4M955 450.5h1.4M956 495.5h1.4M958 477.5h1.4M959 420.5h1.4M961 434.5h1.4M961 449.5h1.4M961 454.5h1.4M961 496.5h1.4M963 448.5h1.4M966 471.5h1.4M967 505.5h1.4M968 503.5h1.4M969 455.5h1.4M970 435.5h1.4M971 412.5h1.4M974 436.5h1.4M975 483.5h1.4M977 448.5h1.4M979 475.5h1.4M979 486.5h1.4M984 531.5h1.4M985 490.5h1.4M986 408.5h1.4M987 417.5h1.4M988 467.5h1.4M991 494.5h1.4M995 461.5h1.4" stroke="#00008c" stroke-width="1.3" fill="none"/>
<path d="M829 485.5h1.4M830 444.5h1.4M830 464.5h1.4M830 467.5h1.4M830 484.5h1.4M831 453.5h1.4M831 462.5h1.4M831 468.5h1.4M831 469.5h1.4M831 475.5h1.4M832 441.5h1.4M832 450.5h1.4M832 452.5h1.4M832 453.5h1.4M832 461.5h1.4M832 464.5h1.4M832 468.5h1.4M832 476.5h1.4M832 477.5h1.4M832 486.5h1.4M833 430.5h1.4M833 432.5h1.4M833 434.5h1.4M833 436.5h1.4M833 439.5h1.4M833 453.5h1.4M834 436.5h1.4M834 443.5h1.4M834 445.5h1.4M834 446.5h1.4M834 450.5h1.4M834 458.5h1.4M834 473.5h1.4M834 494.5h1.4M835 411.5h1.4M835 426.5h1.4M835 429.5h1.4M835 430.5h1.4M835 439.5h1.4M835 477.5h1.4M835 488.5h1.4M835 493.5h1.4M835 495.5h1.4M835 496.5h1.4M836 408.5h1.4M836 415.5h1.4M836 421.5h1.4M836 424.5h1.4M836 426.5h1.4M836 431.5h1.4M836 436.5h1.4M836 493.5h1.4M836 499.5h1.4M837 410.5h1.4M837 415.5h1.4M837 417.5h1.4M837 419.5h1.4M837 429.5h1.4M837 430.5h1.4M837 439.5h1.4M837 440.5h1.4M837 501.5h1.4M837 506.5h1.4M837 508.5h1.4M838 415.5h1.4M838 416.5h1.4M838 430.5h1.4M838 432.5h1.4M838 496.5h1.4M838 499.5h1.4M838 505.5h1.4M838 509.5h1.4M838 510.5h1.4M838 520.5h1.4M839 405.5h1.4M839 416.5h1.4M839 419.5h1.4M839 421.5h1.4M839 423.5h1.4M839 495.5h1.4M839 498.5h1.4M839 511.5h1.4M839 516.5h1.4M839 519.5h1.4M839 521.5h1.4M839 523.5h1.4M840 408.5h1.4M840 412.5h1.4M840 413.5h1.4M840 414.5h1.4M840 415.5h1.4M840 419.5h1.4M840 421.5h1.4M840 425.5h1.4M840 431.5h1.4M840 435.5h1.4M840 437.5h1.4M840 495.5h1.4M840 501.5h1.4M840 503.5h1.4M840 505.5h1.4M841 405.5h1.4M841 407.5h1.4M841 412.5h1.4M841 414.5h1.4M841 415.5h1.4M841 417.5h1.4M841 424.5h1.4M841 498.5h1.4M841 505.5h1.4M841 508.5h1.4M841 510.5h1.4M841 514.5h1.4M841 516.5h1.4M841 518.5h1.4M842 417.5h1.4M842 420.5h1.4M842 427.5h1.4M842 500.5h1.4M842 508.5h1.4M842 516.5h1.4M842 522.5h1.4M843 407.5h1.4M843 413.5h1.4M843 417.5h1.4M843 418.5h1.4M843 424.5h1.4M843 505.5h1.4M843 506.5h1.4M843 510.5h1.4M843 515.5h1.4M843 524.5h1.4M843 528.5h1.4M844 408.5h1.4M844 409.5h1.4M844 415.5h1.4M844 422.5h1.4M844 502.5h1.4M844 504.5h1.4M844 507.5h1.4M844 508.5h1.4M844 509.5h1.4M844 512.5h1.4M844 521.5h1.4M844 528.5h1.4M845 406.5h1.4M845 408.5h1.4M845 409.5h1.4M845 410.5h1.4M845 418.5h1.4M845 425.5h1.4M845 428.5h1.4M845 498.5h1.4M845 499.5h1.4M845 521.5h1.4M845 523.5h1.4M845 526.5h1.4M845 528.5h1.4M845 529.5h1.4M845 530.5h1.4M846 416.5h1.4M846 424.5h1.4M846 510.5h1.4M846 513.5h1.4M846 514.5h1.4M846 515.5h1.4M846 516.5h1.4M846 518.5h1.4M846 521.5h1.4M846 523.5h1.4M846 524.5h1.4M846 527.5h1.4M846 528.5h1.4M847 409.5h1.4M847 415.5h1.4M847 420.5h1.4M847 422.5h1.4M847 423.5h1.4M847 424.5h1.4M847 427.5h1.4M847 498.5h1.4M847 505.5h1.4M847 513.5h1.4M847 516.5h1.4M847 528.5h1.4M848 407.5h1.4M848 411.5h1.4M848 412.5h1.4M848 421.5h1.4M848 423.5h1.4M848 426.5h1.4M848 427.5h1.4M848 514.5h1.4M848 521.5h1.4M848 529.5h1.4M849 405.5h1.4M849 406.5h1.4M849 418.5h1.4M849 422.5h1.4M849 498.5h1.4M849 500.5h1.4M849 501.5h1.4M849 508.5h1.4M849 510.5h1.4M849 512.5h1.4M849 513.5h1.4M849 518.5h1.4M849 519.5h1.4M849 522.5h1.4M849 524.5h1.4M849 526.5h1.4M849 530.5h1.4M850 413.5h1.4M850 414.5h1.4M850 436.5h1.4M850 498.5h1.4M850 503.5h1.4M850 505.5h1.4M850 523.5h1.4M850 524.5h1.4M851 408.5h1.4M851 409.5h1.4M851 411.5h1.4M851 412.5h1.4M851 416.5h1.4M851 419.5h1.4M851 440.5h1.4M851 505.5h1.4M851 511.5h1.4M851 513.5h1.4M851 514.5h1.4M851 520.5h1.4M851 522.5h1.4M852 415.5h1.4M852 416.5h1.4M852 422.5h1.4M852 429.5h1.4M852 438.5h1.4M852 507.5h1.4M852 509.5h1.4M852 512.5h1.4M852 516.5h1.4M852 524.5h1.4M852 525.5h1.4M853 412.5h1.4M853 415.5h1.4M853 418.5h1.4M853 422.5h1.4M853 424.5h1.4M853 426.5h1.4M853 487.5h1.4M853 498.5h1.4M853 504.5h1.4M853 506.5h1.4M853 514.5h1.4M853 516.5h1.4M853 522.5h1.4M853 524.5h1.4M854 417.5h1.4M854 427.5h1.4M854 428.5h1.4M854 431.5h1.4M854 442.5h1.4M854 488.5h1.4M854 490.5h1.4M854 495.5h1.4M854 499.5h1.4M854 500.5h1.4M854 509.5h1.4M854 511.5h1.4M854 514.5h1.4M854 517.5h1.4M854 518.5h1.4M854 522.5h1.4M855 419.5h1.4M855 420.5h1.4M855 422.5h1.4M855 423.5h1.4M855 426.5h1.4M855 430.5h1.4M855 436.5h1.4M855 437.5h1.4M855 442.5h1.4M855 443.5h1.4M855 484.5h1.4M855 485.5h1.4M855 498.5h1.4M855 500.5h1.4M855 504.5h1.4M855 510.5h1.4M855 511.5h1.4M855 516.5h1.4M855 519.5h1.4M856 409.5h1.4M856 416.5h1.4M856 418.5h1.4M856 423.5h1.4M856 428.5h1.4M856 431.5h1.4M856 433.5h1.4M856 484.5h1.4M856 488.5h1.4M856 493.5h1.4M856 494.5h1.4M856 501.5h1.4M856 504.5h1.4M856 508.5h1.4M856 512.5h1.4M856 516.5h1.4M856 520.5h1.4M857 411.5h1.4M857 424.5h1.4M857 430.5h1.4M857 433.5h1.4M857 435.5h1.4M857 438.5h1.4M857 443.5h1.4M857 444.5h1.4M857 448.5h1.4M857 468.5h1.4M857 474.5h1.4M857 487.5h1.4M857 492.5h1.4M857 500.5h1.4M857 501.5h1.4M858 416.5h1.4M858 418.5h1.4M858 427.5h1.4M858 428.5h1.4M858 439.5h1.4M858 449.5h1.4M858 450.5h1.4M858 452.5h1.4M858 465.5h1.4M858 478.5h1.4M858 483.5h1.4M858 487.5h1.4M858 500.5h1.4M858 505.5h1.4M859 411.5h1.4M859 412.5h1.4M859 413.5h1.4M859 427.5h1.4M859 429.5h1.4M859 440.5h1.4M859 446.5h1.4M859 447.5h1.4M859 448.5h1.4M859 457.5h1.4M859 459.5h1.4M859 475.5h1.4M859 480.5h1.4M859 484.5h1.4M859 491.5h1.4M859 501.5h1.4M859 505.5h1.4M859 509.5h1.4M859 513.5h1.4M859 514.5h1.4M860 426.5h1.4M860 429.5h1.4M860 432.5h1.4M860 433.5h1.4M860 440.5h1.4M860 443.5h1.4M860 447.5h1.4M860 451.5h1.4M860 452.5h1.4M860 455.5h1.4M860 459.5h1.4M860 467.5h1.4M860 468.5h1.4M860 469.5h1.4M860 470.5h1.4M860 472.5h1.4M860 477.5h1.4M860 481.5h1.4M860 484.5h1.4M860 485.5h1.4M860 486.5h1.4M860 490.5h1.4M860 493.5h1.4M860 502.5h1.4M860 510.5h1.4M861 423.5h1.4M861 429.5h1.4M861 435.5h1.4M861 444.5h1.4M861 450.5h1.4M861 452.5h1.4M861 454.5h1.4M861 455.5h1.4M861 458.5h1.4M861 460.5h1.4M861 462.5h1.4M861 464.5h1.4M861 476.5h1.4M861 481.5h1.4M861 483.5h1.4M861 489.5h1.4M861 493.5h1.4M861 498.5h1.4M861 502.5h1.4M861 504.5h1.4M861 509.5h1.4M862 430.5h1.4M862 431.5h1.4M862 434.5h1.4M862 436.5h1.4M862 437.5h1.4M862 448.5h1.4M862 449.5h1.4M862 459.5h1.4M862 466.5h1.4M862 475.5h1.4M862 476.5h1.4M862 477.5h1.4M862 478.5h1.4M862 489.5h1.4M862 502.5h1.4M862 503.5h1.4M862 507.5h1.4M862 509.5h1.4M862 510.5h1.4M863 425.5h1.4M863 426.5h1.4M863 436.5h1.4M863 437.5h1.4M863 445.5h1.4M863 451.5h1.4M863 459.5h1.4M863 460.5h1.4M863 465.5h1.4M863 470.5h1.4M863 477.5h1.4M863 485.5h1.4M863 504.5h1.4M864 429.5h1.4M864 450.5h1.4M864 452.5h1.4M864 454.5h1.4M864 455.5h1.4M864 460.5h1.4M864 477.5h1.4M864 478.5h1.4M864 480.5h1.4M864 484.5h1.4M864 505.5h1.4M864 508.5h1.4M865 428.5h1.4M865 431.5h1.4M865 449.5h1.4M865 454.5h1.4M865 456.5h1.4M865 459.5h1.4M865 461.5h1.4M865 466.5h1.4M865 467.5h1.4M865 470.5h1.4M865 471.5h1.4M866 424.5h1.4M866 425.5h1.4M866 428.5h1.4M866 431.5h1.4M866 454.5h1.4M866 456.5h1.4M866 457.5h1.4M866 463.5h1.4M866 465.5h1.4M866 466.5h1.4M866 473.5h1.4M866 474.5h1.4M867 420.5h1.4M867 421.5h1.4M867 424.5h1.4M867 430.5h1.4M867 431.5h1.4M867 432.5h1.4M867 465.5h1.4M867 469.5h1.4M867 480.5h1.4M868 454.5h1.4M868 471.5h1.4M868 473.5h1.4M868 474.5h1.4M868 481.5h1.4M869 422.5h1.4M869 472.5h1.4M869 474.5h1.4M869 478.5h1.4M869 479.5h1.4M870 425.5h1.4M870 473.5h1.4M871 427.5h1.4M871 460.5h1.4M871 472.5h1.4M871 479.5h1.4M872 459.5h1.4M874 461.5h1.4" stroke="#0a14d2" stroke-width="1.3" fill="none"/>
<path d="M832 469.5h1.4M832 481.5h1.4M833 446.5h1.4M833 448.5h1.4M833 452.5h1.4M833 457.5h1.4M833 460.5h1.4M833 461.5h1.4M834 451.5h1.4M834 473.5h1.4M834 481.5h1.4M834 484.5h1.4M835 438.5h1.4M835 441.5h1.4M835 442.5h1.4M835 451.5h1.4M835 468.5h1.4M836 440.5h1.4M836 442.5h1.4M836 477.5h1.4M836 485.5h1.4M837 435.5h1.4M837 439.5h1.4M837 443.5h1.4M837 476.5h1.4M837 481.5h1.4M837 484.5h1.4M838 434.5h1.4M838 442.5h1.4M838 479.5h1.4M838 482.5h1.4M838 486.5h1.4M838 488.5h1.4M838 503.5h1.4M839 424.5h1.4M839 438.5h1.4M839 501.5h1.4M839 503.5h1.4M840 423.5h1.4M840 431.5h1.4M840 432.5h1.4M840 436.5h1.4M840 490.5h1.4M840 498.5h1.4M841 435.5h1.4M841 489.5h1.4M841 493.5h1.4M841 496.5h1.4M841 507.5h1.4M842 426.5h1.4M842 429.5h1.4M842 432.5h1.4M842 433.5h1.4M842 494.5h1.4M842 496.5h1.4M842 508.5h1.4M842 509.5h1.4M842 510.5h1.4M843 432.5h1.4M843 434.5h1.4M843 492.5h1.4M843 494.5h1.4M844 433.5h1.4M844 435.5h1.4M844 436.5h1.4M844 493.5h1.4M844 497.5h1.4M844 498.5h1.4M844 502.5h1.4M844 507.5h1.4M844 508.5h1.4M844 512.5h1.4M845 426.5h1.4M845 432.5h1.4M845 433.5h1.4M845 489.5h1.4M845 492.5h1.4M845 505.5h1.4M845 508.5h1.4M846 423.5h1.4M846 432.5h1.4M846 433.5h1.4M846 434.5h1.4M846 502.5h1.4M846 512.5h1.4M847 427.5h1.4M847 491.5h1.4M847 493.5h1.4M847 496.5h1.4M847 497.5h1.4M847 498.5h1.4M847 500.5h1.4M848 439.5h1.4M848 491.5h1.4M848 501.5h1.4M849 426.5h1.4M849 427.5h1.4M849 432.5h1.4M849 433.5h1.4M849 440.5h1.4M849 486.5h1.4M849 489.5h1.4M849 490.5h1.4M849 493.5h1.4M850 438.5h1.4M850 442.5h1.4M850 450.5h1.4M850 481.5h1.4M850 482.5h1.4M850 489.5h1.4M850 495.5h1.4M851 426.5h1.4M851 429.5h1.4M851 430.5h1.4M851 433.5h1.4M851 441.5h1.4M851 442.5h1.4M851 450.5h1.4M851 473.5h1.4M851 474.5h1.4M851 480.5h1.4M851 484.5h1.4M851 487.5h1.4M851 497.5h1.4M852 436.5h1.4M852 471.5h1.4M852 476.5h1.4M852 482.5h1.4M852 491.5h1.4M852 497.5h1.4M852 500.5h1.4M853 429.5h1.4M853 442.5h1.4M853 444.5h1.4M853 445.5h1.4M853 450.5h1.4M853 451.5h1.4M853 473.5h1.4M853 476.5h1.4M853 497.5h1.4M854 432.5h1.4M854 444.5h1.4M854 453.5h1.4M854 456.5h1.4M854 457.5h1.4M854 462.5h1.4M854 469.5h1.4M854 477.5h1.4M854 485.5h1.4M854 489.5h1.4M854 492.5h1.4M854 500.5h1.4M855 441.5h1.4M855 451.5h1.4M855 455.5h1.4M855 459.5h1.4M855 460.5h1.4M855 472.5h1.4M855 479.5h1.4M855 480.5h1.4M855 483.5h1.4M855 496.5h1.4M855 499.5h1.4M856 429.5h1.4M856 432.5h1.4M856 453.5h1.4M856 460.5h1.4M856 473.5h1.4M856 490.5h1.4M856 494.5h1.4M856 496.5h1.4M857 456.5h1.4M857 467.5h1.4M857 472.5h1.4M857 473.5h1.4M857 477.5h1.4M857 486.5h1.4M857 492.5h1.4M857 495.5h1.4M858 455.5h1.4M858 464.5h1.4M858 470.5h1.4M858 471.5h1.4M858 473.5h1.4M858 478.5h1.4M858 488.5h1.4M859 452.5h1.4M859 463.5h1.4M859 465.5h1.4M859 469.5h1.4M859 487.5h1.4M859 491.5h1.4M859 494.5h1.4" stroke="#1e64f0" stroke-width="1.3" fill="none"/>
<path d="M832 459.5h1.4M832 480.5h1.4M833 449.5h1.4M833 459.5h1.4M833 461.5h1.4M833 465.5h1.4M833 476.5h1.4M833 482.5h1.4M834 445.5h1.4M834 446.5h1.4M834 447.5h1.4M834 472.5h1.4M834 477.5h1.4M834 485.5h1.4M835 439.5h1.4M835 446.5h1.4M835 453.5h1.4M835 455.5h1.4M835 458.5h1.4M835 461.5h1.4M835 465.5h1.4M835 466.5h1.4M835 467.5h1.4M835 469.5h1.4M836 444.5h1.4M836 446.5h1.4M836 449.5h1.4M836 450.5h1.4M836 451.5h1.4M836 452.5h1.4M836 453.5h1.4M836 472.5h1.4M836 475.5h1.4M836 487.5h1.4M836 490.5h1.4M837 432.5h1.4M837 434.5h1.4M837 435.5h1.4M837 437.5h1.4M837 442.5h1.4M837 444.5h1.4M837 449.5h1.4M837 464.5h1.4M837 465.5h1.4M837 466.5h1.4M837 467.5h1.4M837 470.5h1.4M837 471.5h1.4M837 478.5h1.4M837 481.5h1.4M837 487.5h1.4M838 451.5h1.4M838 453.5h1.4M838 459.5h1.4M838 466.5h1.4M838 467.5h1.4M838 469.5h1.4M838 474.5h1.4M838 477.5h1.4M838 479.5h1.4M838 483.5h1.4M838 488.5h1.4M838 491.5h1.4M838 493.5h1.4M839 424.5h1.4M839 429.5h1.4M839 430.5h1.4M839 439.5h1.4M839 441.5h1.4M839 485.5h1.4M839 486.5h1.4M839 490.5h1.4M839 495.5h1.4M839 501.5h1.4M839 502.5h1.4M839 503.5h1.4M840 428.5h1.4M840 430.5h1.4M840 484.5h1.4M840 487.5h1.4M840 489.5h1.4M840 492.5h1.4M840 493.5h1.4M840 494.5h1.4M840 505.5h1.4M841 426.5h1.4M841 428.5h1.4M841 439.5h1.4M841 441.5h1.4M841 442.5h1.4M841 443.5h1.4M841 484.5h1.4M841 488.5h1.4M841 490.5h1.4M841 492.5h1.4M841 493.5h1.4M841 496.5h1.4M841 509.5h1.4M842 425.5h1.4M842 432.5h1.4M842 440.5h1.4M842 441.5h1.4M842 488.5h1.4M842 496.5h1.4M842 505.5h1.4M842 511.5h1.4M843 424.5h1.4M843 425.5h1.4M843 428.5h1.4M843 433.5h1.4M843 435.5h1.4M843 441.5h1.4M843 486.5h1.4M843 492.5h1.4M843 493.5h1.4M843 497.5h1.4M843 499.5h1.4M844 425.5h1.4M844 439.5h1.4M844 490.5h1.4M844 497.5h1.4M844 507.5h1.4M844 508.5h1.4M845 430.5h1.4M845 433.5h1.4M845 434.5h1.4M845 439.5h1.4M845 440.5h1.4M845 441.5h1.4M845 442.5h1.4M845 486.5h1.4M845 487.5h1.4M845 489.5h1.4M845 490.5h1.4M845 492.5h1.4M845 500.5h1.4M845 507.5h1.4M846 428.5h1.4M846 429.5h1.4M846 431.5h1.4M846 434.5h1.4M846 438.5h1.4M846 439.5h1.4M846 443.5h1.4M846 487.5h1.4M846 493.5h1.4M846 499.5h1.4M846 506.5h1.4M846 509.5h1.4M847 424.5h1.4M847 431.5h1.4M847 437.5h1.4M847 438.5h1.4M847 440.5h1.4M847 471.5h1.4M847 474.5h1.4M847 482.5h1.4M847 490.5h1.4M847 494.5h1.4M847 501.5h1.4M848 423.5h1.4M848 428.5h1.4M848 438.5h1.4M848 443.5h1.4M848 451.5h1.4M848 471.5h1.4M848 475.5h1.4M848 476.5h1.4M849 423.5h1.4M849 425.5h1.4M849 429.5h1.4M849 431.5h1.4M849 444.5h1.4M849 447.5h1.4M849 452.5h1.4M849 473.5h1.4M849 479.5h1.4M849 485.5h1.4M849 494.5h1.4M849 502.5h1.4M849 504.5h1.4M849 505.5h1.4M850 433.5h1.4M850 438.5h1.4M850 441.5h1.4M850 443.5h1.4M850 444.5h1.4M850 446.5h1.4M850 448.5h1.4M850 451.5h1.4M850 452.5h1.4M850 461.5h1.4M850 464.5h1.4M850 472.5h1.4M850 479.5h1.4M850 480.5h1.4M850 490.5h1.4M850 492.5h1.4M850 496.5h1.4M850 500.5h1.4M850 504.5h1.4M851 430.5h1.4M851 434.5h1.4M851 435.5h1.4M851 439.5h1.4M851 444.5h1.4M851 446.5h1.4M851 449.5h1.4M851 452.5h1.4M851 465.5h1.4M851 467.5h1.4M851 473.5h1.4M851 477.5h1.4M851 478.5h1.4M851 480.5h1.4M851 481.5h1.4M851 495.5h1.4M851 498.5h1.4M852 433.5h1.4M852 437.5h1.4M852 443.5h1.4M852 448.5h1.4M852 454.5h1.4M852 466.5h1.4M852 468.5h1.4M852 473.5h1.4M852 475.5h1.4M852 476.5h1.4M852 484.5h1.4M852 486.5h1.4M852 491.5h1.4M852 492.5h1.4M852 496.5h1.4M853 429.5h1.4M853 448.5h1.4M853 449.5h1.4M853 450.5h1.4M853 454.5h1.4M853 455.5h1.4M853 459.5h1.4M853 461.5h1.4M853 467.5h1.4M853 475.5h1.4M853 480.5h1.4M853 482.5h1.4M853 490.5h1.4M853 492.5h1.4M854 442.5h1.4M854 452.5h1.4M854 465.5h1.4M854 468.5h1.4M854 476.5h1.4M854 485.5h1.4M854 489.5h1.4M854 497.5h1.4M855 432.5h1.4M855 452.5h1.4M855 456.5h1.4M855 457.5h1.4M855 460.5h1.4M855 463.5h1.4M855 470.5h1.4M855 473.5h1.4M855 482.5h1.4M855 483.5h1.4M855 492.5h1.4M855 496.5h1.4M855 498.5h1.4M856 431.5h1.4M856 442.5h1.4M856 465.5h1.4M856 467.5h1.4M856 474.5h1.4M856 476.5h1.4M856 485.5h1.4M856 489.5h1.4M856 493.5h1.4M856 496.5h1.4M857 457.5h1.4M857 466.5h1.4M857 467.5h1.4M857 476.5h1.4M859 458.5h1.4M859 467.5h1.4M859 468.5h1.4M859 472.5h1.4" stroke="#1ec8f0" stroke-width="1.3" fill="none"/>
<path d="M833 464.5h1.4M834 459.5h1.4M834 467.5h1.4M835 446.5h1.4M835 454.5h1.4M835 463.5h1.4M835 467.5h1.4M835 481.5h1.4M835 487.5h1.4M836 448.5h1.4M836 449.5h1.4M836 451.5h1.4M836 453.5h1.4M836 460.5h1.4M836 462.5h1.4M836 473.5h1.4M836 476.5h1.4M836 477.5h1.4M836 482.5h1.4M836 485.5h1.4M837 442.5h1.4M837 443.5h1.4M837 449.5h1.4M837 450.5h1.4M837 455.5h1.4M837 456.5h1.4M837 457.5h1.4M837 459.5h1.4M837 464.5h1.4M837 465.5h1.4M837 466.5h1.4M837 467.5h1.4M837 468.5h1.4M837 470.5h1.4M837 473.5h1.4M837 475.5h1.4M837 480.5h1.4M837 481.5h1.4M837 483.5h1.4M837 487.5h1.4M838 438.5h1.4M838 442.5h1.4M838 445.5h1.4M838 454.5h1.4M838 455.5h1.4M838 459.5h1.4M838 462.5h1.4M838 469.5h1.4M838 470.5h1.4M838 471.5h1.4M838 472.5h1.4M838 474.5h1.4M838 475.5h1.4M838 481.5h1.4M838 485.5h1.4M838 488.5h1.4M839 441.5h1.4M839 451.5h1.4M839 455.5h1.4M839 466.5h1.4M839 470.5h1.4M839 471.5h1.4M839 475.5h1.4M839 480.5h1.4M839 485.5h1.4M839 487.5h1.4M840 442.5h1.4M840 445.5h1.4M840 447.5h1.4M840 448.5h1.4M840 450.5h1.4M840 452.5h1.4M840 454.5h1.4M840 466.5h1.4M840 467.5h1.4M840 468.5h1.4M840 470.5h1.4M840 473.5h1.4M840 474.5h1.4M840 477.5h1.4M840 480.5h1.4M840 481.5h1.4M840 483.5h1.4M840 485.5h1.4M840 486.5h1.4M840 487.5h1.4M840 488.5h1.4M840 492.5h1.4M840 494.5h1.4M841 447.5h1.4M841 448.5h1.4M841 449.5h1.4M841 467.5h1.4M841 469.5h1.4M841 472.5h1.4M841 479.5h1.4M841 480.5h1.4M841 481.5h1.4M841 484.5h1.4M841 488.5h1.4M841 491.5h1.4M842 442.5h1.4M842 445.5h1.4M842 472.5h1.4M842 474.5h1.4M842 476.5h1.4M842 480.5h1.4M842 483.5h1.4M842 489.5h1.4M842 492.5h1.4M842 493.5h1.4M842 494.5h1.4M843 432.5h1.4M843 434.5h1.4M843 436.5h1.4M843 443.5h1.4M843 445.5h1.4M843 471.5h1.4M843 473.5h1.4M843 475.5h1.4M843 476.5h1.4M843 482.5h1.4M843 484.5h1.4M843 492.5h1.4M843 493.5h1.4M844 442.5h1.4M844 443.5h1.4M844 446.5h1.4M844 448.5h1.4M844 475.5h1.4M844 476.5h1.4M844 477.5h1.4M844 479.5h1.4M844 483.5h1.4M844 488.5h1.4M844 489.5h1.4M844 490.5h1.4M844 494.5h1.4M845 435.5h1.4M845 436.5h1.4M845 439.5h1.4M845 442.5h1.4M845 449.5h1.4M845 452.5h1.4M845 453.5h1.4M845 454.5h1.4M845 471.5h1.4M845 475.5h1.4M845 477.5h1.4M845 480.5h1.4M845 482.5h1.4M845 484.5h1.4M845 493.5h1.4M845 494.5h1.4M845 496.5h1.4M846 432.5h1.4M846 441.5h1.4M846 447.5h1.4M846 448.5h1.4M846 451.5h1.4M846 471.5h1.4M846 472.5h1.4M846 474.5h1.4M846 475.5h1.4M846 477.5h1.4M846 479.5h1.4M846 482.5h1.4M846 483.5h1.4M846 484.5h1.4M846 492.5h1.4M847 430.5h1.4M847 431.5h1.4M847 435.5h1.4M847 437.5h1.4M847 441.5h1.4M847 457.5h1.4M847 460.5h1.4M847 468.5h1.4M847 472.5h1.4M847 477.5h1.4M847 480.5h1.4M848 434.5h1.4M848 436.5h1.4M848 439.5h1.4M848 442.5h1.4M848 444.5h1.4M848 452.5h1.4M848 454.5h1.4M848 455.5h1.4M848 457.5h1.4M848 458.5h1.4M848 461.5h1.4M848 464.5h1.4M848 466.5h1.4M848 469.5h1.4M848 471.5h1.4M848 474.5h1.4M848 475.5h1.4M848 479.5h1.4M848 482.5h1.4M848 483.5h1.4M848 484.5h1.4M848 485.5h1.4M848 491.5h1.4M848 496.5h1.4M849 430.5h1.4M849 434.5h1.4M849 439.5h1.4M849 442.5h1.4M849 446.5h1.4M849 449.5h1.4M849 453.5h1.4M849 460.5h1.4M849 462.5h1.4M849 466.5h1.4M849 475.5h1.4M849 485.5h1.4M849 488.5h1.4M850 429.5h1.4M850 440.5h1.4M850 447.5h1.4M850 449.5h1.4M850 456.5h1.4M850 457.5h1.4M850 460.5h1.4M850 461.5h1.4M850 469.5h1.4M850 472.5h1.4M850 477.5h1.4M850 482.5h1.4M850 486.5h1.4M850 488.5h1.4M850 489.5h1.4M851 441.5h1.4M851 443.5h1.4M851 449.5h1.4M851 457.5h1.4M851 461.5h1.4M851 462.5h1.4M851 478.5h1.4M851 479.5h1.4M851 481.5h1.4M851 483.5h1.4M851 490.5h1.4M851 497.5h1.4M852 451.5h1.4M852 453.5h1.4M852 457.5h1.4M852 458.5h1.4M852 459.5h1.4M852 460.5h1.4M852 461.5h1.4M852 463.5h1.4M852 469.5h1.4M852 483.5h1.4M852 491.5h1.4M852 493.5h1.4M852 497.5h1.4M853 452.5h1.4M853 460.5h1.4M853 464.5h1.4M853 467.5h1.4M853 468.5h1.4M853 478.5h1.4M853 492.5h1.4M854 454.5h1.4M854 458.5h1.4M854 461.5h1.4M854 462.5h1.4M854 464.5h1.4M854 471.5h1.4M855 455.5h1.4M855 456.5h1.4M855 467.5h1.4M855 468.5h1.4M856 467.5h1.4M856 468.5h1.4M856 471.5h1.4" stroke="#28e628" stroke-width="1.3" fill="none"/>
<path d="M835 463.5h1.4M835 469.5h1.4M836 448.5h1.4M836 451.5h1.4M836 453.5h1.4M836 456.5h1.4M836 458.5h1.4M836 461.5h1.4M836 471.5h1.4M836 473.5h1.4M837 445.5h1.4M837 447.5h1.4M837 448.5h1.4M837 459.5h1.4M837 464.5h1.4M837 465.5h1.4M837 466.5h1.4M837 472.5h1.4M838 444.5h1.4M838 449.5h1.4M838 458.5h1.4M838 460.5h1.4M838 465.5h1.4M838 466.5h1.4M838 470.5h1.4M838 475.5h1.4M838 480.5h1.4M838 481.5h1.4M838 485.5h1.4M839 442.5h1.4M839 448.5h1.4M839 452.5h1.4M839 458.5h1.4M839 473.5h1.4M839 474.5h1.4M839 476.5h1.4M839 479.5h1.4M839 480.5h1.4M839 486.5h1.4M840 442.5h1.4M840 448.5h1.4M840 449.5h1.4M840 453.5h1.4M840 454.5h1.4M840 457.5h1.4M840 460.5h1.4M840 461.5h1.4M840 463.5h1.4M840 466.5h1.4M840 467.5h1.4M840 473.5h1.4M840 474.5h1.4M840 480.5h1.4M840 484.5h1.4M840 488.5h1.4M841 440.5h1.4M841 444.5h1.4M841 449.5h1.4M841 450.5h1.4M841 452.5h1.4M841 456.5h1.4M841 463.5h1.4M841 465.5h1.4M841 471.5h1.4M841 476.5h1.4M841 478.5h1.4M841 482.5h1.4M841 485.5h1.4M841 486.5h1.4M842 441.5h1.4M842 444.5h1.4M842 445.5h1.4M842 448.5h1.4M842 449.5h1.4M842 451.5h1.4M842 452.5h1.4M842 453.5h1.4M842 454.5h1.4M842 465.5h1.4M842 469.5h1.4M842 476.5h1.4M842 478.5h1.4M842 480.5h1.4M842 485.5h1.4M842 486.5h1.4M842 488.5h1.4M843 438.5h1.4M843 441.5h1.4M843 447.5h1.4M843 449.5h1.4M843 453.5h1.4M843 454.5h1.4M843 466.5h1.4M843 473.5h1.4M843 475.5h1.4M843 480.5h1.4M843 487.5h1.4M844 442.5h1.4M844 444.5h1.4M844 448.5h1.4M844 453.5h1.4M844 465.5h1.4M844 474.5h1.4M844 476.5h1.4M844 477.5h1.4M844 480.5h1.4M844 483.5h1.4M844 487.5h1.4M844 489.5h1.4M844 491.5h1.4M845 438.5h1.4M845 444.5h1.4M845 448.5h1.4M845 450.5h1.4M845 452.5h1.4M845 453.5h1.4M845 455.5h1.4M845 456.5h1.4M845 466.5h1.4M845 467.5h1.4M845 468.5h1.4M845 476.5h1.4M845 477.5h1.4M845 478.5h1.4M845 479.5h1.4M845 480.5h1.4M845 484.5h1.4M845 485.5h1.4M846 440.5h1.4M846 443.5h1.4M846 446.5h1.4M846 453.5h1.4M846 454.5h1.4M846 457.5h1.4M846 476.5h1.4M846 478.5h1.4M846 480.5h1.4M847 438.5h1.4M847 440.5h1.4M847 441.5h1.4M847 447.5h1.4M847 451.5h1.4M847 452.5h1.4M847 453.5h1.4M847 456.5h1.4M847 459.5h1.4M847 461.5h1.4M847 462.5h1.4M847 463.5h1.4M847 466.5h1.4M847 467.5h1.4M847 470.5h1.4M847 479.5h1.4M847 480.5h1.4M847 484.5h1.4M847 488.5h1.4M848 443.5h1.4M848 445.5h1.4M848 453.5h1.4M848 461.5h1.4M848 462.5h1.4M848 464.5h1.4M848 465.5h1.4M848 468.5h1.4M848 470.5h1.4M848 476.5h1.4M848 478.5h1.4M849 442.5h1.4M849 446.5h1.4M849 452.5h1.4M849 454.5h1.4M849 457.5h1.4M849 462.5h1.4M849 463.5h1.4M849 470.5h1.4M849 472.5h1.4M849 473.5h1.4M849 474.5h1.4M849 478.5h1.4M849 480.5h1.4M849 481.5h1.4M850 446.5h1.4M850 455.5h1.4M850 457.5h1.4M850 459.5h1.4M850 460.5h1.4M850 461.5h1.4M850 465.5h1.4M850 468.5h1.4M850 470.5h1.4M850 478.5h1.4M850 481.5h1.4M851 454.5h1.4M851 461.5h1.4M851 462.5h1.4M852 453.5h1.4M852 457.5h1.4M852 467.5h1.4M852 469.5h1.4M853 456.5h1.4M853 457.5h1.4M853 458.5h1.4M853 459.5h1.4" stroke="#78f014" stroke-width="1.3" fill="none"/>
<path d="M838 464.5h1.4M838 467.5h1.4M838 471.5h1.4M839 444.5h1.4M839 445.5h1.4M839 449.5h1.4M839 451.5h1.4M839 455.5h1.4M839 459.5h1.4M839 463.5h1.4M839 465.5h1.4M839 467.5h1.4M839 470.5h1.4M839 471.5h1.4M839 472.5h1.4M839 473.5h1.4M839 475.5h1.4M839 482.5h1.4M840 447.5h1.4M840 452.5h1.4M840 454.5h1.4M840 456.5h1.4M840 457.5h1.4M840 458.5h1.4M840 459.5h1.4M840 461.5h1.4M840 474.5h1.4M841 445.5h1.4M841 448.5h1.4M841 450.5h1.4M841 452.5h1.4M841 456.5h1.4M841 458.5h1.4M841 460.5h1.4M841 461.5h1.4M841 462.5h1.4M841 463.5h1.4M841 466.5h1.4M841 480.5h1.4M841 482.5h1.4M842 448.5h1.4M842 449.5h1.4M842 454.5h1.4M842 456.5h1.4M842 457.5h1.4M842 458.5h1.4M842 463.5h1.4M842 465.5h1.4M842 466.5h1.4M842 469.5h1.4M842 472.5h1.4M842 474.5h1.4M842 475.5h1.4M842 476.5h1.4M842 479.5h1.4M842 482.5h1.4M842 483.5h1.4M843 449.5h1.4M843 450.5h1.4M843 455.5h1.4M843 462.5h1.4M843 463.5h1.4M843 465.5h1.4M843 466.5h1.4M843 469.5h1.4M843 470.5h1.4M843 471.5h1.4M843 474.5h1.4M843 475.5h1.4M843 480.5h1.4M843 482.5h1.4M844 447.5h1.4M844 448.5h1.4M844 455.5h1.4M844 456.5h1.4M844 457.5h1.4M844 458.5h1.4M844 462.5h1.4M844 464.5h1.4M844 465.5h1.4M844 467.5h1.4M844 468.5h1.4M844 471.5h1.4M844 472.5h1.4M844 473.5h1.4M844 477.5h1.4M844 480.5h1.4M844 481.5h1.4M844 485.5h1.4M845 445.5h1.4M845 447.5h1.4M845 450.5h1.4M845 451.5h1.4M845 454.5h1.4M845 456.5h1.4M845 457.5h1.4M845 461.5h1.4M845 462.5h1.4M845 464.5h1.4M845 466.5h1.4M845 468.5h1.4M845 470.5h1.4M845 471.5h1.4M845 480.5h1.4M845 482.5h1.4M845 484.5h1.4M845 485.5h1.4M846 450.5h1.4M846 452.5h1.4M846 453.5h1.4M846 454.5h1.4M846 457.5h1.4M846 459.5h1.4M846 460.5h1.4M846 468.5h1.4M846 476.5h1.4M846 477.5h1.4M846 479.5h1.4M846 480.5h1.4M846 481.5h1.4M846 482.5h1.4M847 452.5h1.4M847 459.5h1.4M847 460.5h1.4M847 464.5h1.4M847 465.5h1.4M847 468.5h1.4M847 470.5h1.4M847 471.5h1.4M847 472.5h1.4M847 480.5h1.4M847 483.5h1.4M847 484.5h1.4M848 456.5h1.4M848 459.5h1.4M848 463.5h1.4M848 464.5h1.4M848 467.5h1.4M849 455.5h1.4M849 463.5h1.4M849 464.5h1.4M849 465.5h1.4M849 469.5h1.4M850 454.5h1.4M850 459.5h1.4M850 463.5h1.4" stroke="#f0f000" stroke-width="1.3" fill="none"/>
<path d="M839 459.5h1.4M839 460.5h1.4M839 461.5h1.4M839 462.5h1.4M840 457.5h1.4M840 459.5h1.4M840 461.5h1.4M840 464.5h1.4M841 451.5h1.4M841 458.5h1.4M841 459.5h1.4M841 460.5h1.4M841 461.5h1.4M841 469.5h1.4M842 447.5h1.4M842 448.5h1.4M842 449.5h1.4M842 456.5h1.4M842 457.5h1.4M842 459.5h1.4M842 461.5h1.4M842 462.5h1.4M842 465.5h1.4M842 467.5h1.4M842 470.5h1.4M843 447.5h1.4M843 448.5h1.4M843 449.5h1.4M843 450.5h1.4M843 452.5h1.4M843 454.5h1.4M843 458.5h1.4M843 461.5h1.4M843 463.5h1.4M843 464.5h1.4M843 468.5h1.4M844 449.5h1.4M844 451.5h1.4M844 452.5h1.4M844 457.5h1.4M844 459.5h1.4M844 460.5h1.4M844 462.5h1.4M844 463.5h1.4M844 466.5h1.4M844 467.5h1.4M844 468.5h1.4M844 469.5h1.4M845 456.5h1.4M845 457.5h1.4M845 458.5h1.4M845 460.5h1.4M845 463.5h1.4M845 468.5h1.4M846 456.5h1.4M846 457.5h1.4M846 461.5h1.4M846 465.5h1.4M846 467.5h1.4M846 469.5h1.4M846 470.5h1.4M847 460.5h1.4M847 467.5h1.4M847 468.5h1.4M847 470.5h1.4" stroke="#ff8c00" stroke-width="1.3" fill="none"/>
<path d="M842 457.5h1.4M842 459.5h1.4M842 460.5h1.4M842 461.5h1.4M842 464.5h1.4M843 458.5h1.4M843 461.5h1.4M843 462.5h1.4M843 463.5h1.4M844 457.5h1.4M844 461.5h1.4M844 462.5h1.4M845 459.5h1.4M845 460.5h1.4M845 461.5h1.4M845 464.5h1.4M846 461.5h1.4M847 461.5h1.4M847 462.5h1.4" stroke="#ff1400" stroke-width="1.3" fill="none"/>
<rect x="559.4" y="112.4" width="219.10000000000002" height="218.9" fill="none" stroke="#000" stroke-width="1.3"/>
<rect x="781.2" y="112.4" width="220.0999999999999" height="218.9" fill="none" stroke="#000" stroke-width="1.3"/>
<rect x="559.4" y="335.5" width="219.10000000000002" height="218.5" fill="none" stroke="#000" stroke-width="1.3"/>
<rect x="781.2" y="335.5" width="220.0999999999999" height="218.5" fill="none" stroke="#000" stroke-width="1.3"/>
<rect x="590" y="152" width="71" height="125" fill="none" stroke="#000" stroke-width="1.6"/>
<rect x="812.8" y="152" width="70.7" height="125" fill="none" stroke="#000" stroke-width="1.6"/>
<rect x="590" y="375.5" width="71" height="125" fill="none" stroke="#000" stroke-width="1.6"/>
<rect x="812.8" y="375.5" width="70.7" height="125" fill="none" stroke="#000" stroke-width="1.6"/>
<path d="M666.5 205.0 L666.5 313.5 L775.4 313.5 L775.4 205.0" stroke="#000" stroke-width="1.6" fill="none"/>
<path d="M888.3 205.0 L888.3 313.5 L998.2 313.5 L998.2 205.0" stroke="#000" stroke-width="1.6" fill="none"/>
<path d="M998.2 205.0 L998.2 313.5" stroke="#000" stroke-width="2.6" fill="none"/>
<rect x="666.5" y="427.4" width="108.9" height="109" fill="none" stroke="#000" stroke-width="1.6"/>
<rect x="888.3" y="427.4" width="109.9" height="109" fill="none" stroke="#000" stroke-width="1.6"/>
<text x="648.0" y="143.0" font-size="35.3" text-anchor="start" fill="#000">6.7%</text>
<text x="666.0" y="197.0" font-size="35.3" text-anchor="start" fill="#000">88.1%</text>
<text x="861.0" y="143.0" font-size="35.3" text-anchor="start" fill="#000">87.7%</text>
<text x="888.0" y="197.0" font-size="35.3" text-anchor="start" fill="#000">4.51%</text>
<text x="642.5" y="374.3" font-size="35.3" text-anchor="start" fill="#000">11.4%</text>
<text x="666.0" y="419.0" font-size="35.3" text-anchor="start" fill="#000">81.2%</text>
<text x="852.0" y="374.3" font-size="35.3" text-anchor="start" fill="#000">85.7%</text>
<text x="888.0" y="419.0" font-size="35.3" text-anchor="start" fill="#000">2.70%</text>
<text x="658.0" y="98.3" font-size="35.5" text-anchor="middle" fill="#000">NT</text>
<text x="859.5" y="98.3" font-size="35" text-anchor="middle" fill="#000">CAR.CD19</text>
<text x="0.0" y="0.0" font-size="35" text-anchor="middle" fill="#000" transform="translate(506.0,219.0) rotate(-90)">T cells</text>
<text x="0.0" y="0.0" font-size="34.5" text-anchor="middle" fill="#000" transform="translate(506.0,419.0) rotate(-90)">NKTs</text>
<text x="0.0" y="0.0" font-size="34.5" text-anchor="middle" fill="#000" transform="translate(548.0,524.5) rotate(-90)">CD3</text>
<text x="568.0" y="595.8" font-size="35.3" text-anchor="start" fill="#000">hCD19</text>
<line x1="530.8" y1="135.0" x2="530.8" y2="460.4" stroke="#000" stroke-width="2"/>
<path d="M530.8 120.5 L540.7 138 L520.9 138 Z" fill="#000"/>
<line x1="713.0" y1="583.3" x2="992.0" y2="583.3" stroke="#000" stroke-width="2"/>
<path d="M1008 583.3 L990 574.9 L990 592 Z" fill="#000"/>
<line x1="554.4" y1="132.0" x2="559.4" y2="132.0" stroke="#000" stroke-width="1.6"/>
<line x1="556.4" y1="116.9" x2="559.4" y2="116.9" stroke="#000" stroke-width="1.2"/>
<line x1="554.4" y1="182.0" x2="559.4" y2="182.0" stroke="#000" stroke-width="1.6"/>
<line x1="556.4" y1="166.9" x2="559.4" y2="166.9" stroke="#000" stroke-width="1.2"/>
<line x1="556.4" y1="158.1" x2="559.4" y2="158.1" stroke="#000" stroke-width="1.2"/>
<line x1="556.4" y1="151.9" x2="559.4" y2="151.9" stroke="#000" stroke-width="1.2"/>
<line x1="556.4" y1="147.1" x2="559.4" y2="147.1" stroke="#000" stroke-width="1.2"/>
<line x1="556.4" y1="143.1" x2="559.4" y2="143.1" stroke="#000" stroke-width="1.2"/>
<line x1="556.4" y1="139.7" x2="559.4" y2="139.7" stroke="#000" stroke-width="1.2"/>
<line x1="556.4" y1="136.8" x2="559.4" y2="136.8" stroke="#000" stroke-width="1.2"/>
<line x1="556.4" y1="134.3" x2="559.4" y2="134.3" stroke="#000" stroke-width="1.2"/>
<line x1="554.4" y1="234.7" x2="559.4" y2="234.7" stroke="#000" stroke-width="1.6"/>
<line x1="556.4" y1="219.6" x2="559.4" y2="219.6" stroke="#000" stroke-width="1.2"/>
<line x1="556.4" y1="210.8" x2="559.4" y2="210.8" stroke="#000" stroke-width="1.2"/>
<line x1="556.4" y1="204.6" x2="559.4" y2="204.6" stroke="#000" stroke-width="1.2"/>
<line x1="556.4" y1="199.8" x2="559.4" y2="199.8" stroke="#000" stroke-width="1.2"/>
<line x1="556.4" y1="195.8" x2="559.4" y2="195.8" stroke="#000" stroke-width="1.2"/>
<line x1="556.4" y1="192.4" x2="559.4" y2="192.4" stroke="#000" stroke-width="1.2"/>
<line x1="556.4" y1="189.5" x2="559.4" y2="189.5" stroke="#000" stroke-width="1.2"/>
<line x1="556.4" y1="187.0" x2="559.4" y2="187.0" stroke="#000" stroke-width="1.2"/>
<line x1="554.4" y1="286.0" x2="559.4" y2="286.0" stroke="#000" stroke-width="1.6"/>
<line x1="556.4" y1="270.9" x2="559.4" y2="270.9" stroke="#000" stroke-width="1.2"/>
<line x1="556.4" y1="262.1" x2="559.4" y2="262.1" stroke="#000" stroke-width="1.2"/>
<line x1="556.4" y1="255.9" x2="559.4" y2="255.9" stroke="#000" stroke-width="1.2"/>
<line x1="556.4" y1="251.1" x2="559.4" y2="251.1" stroke="#000" stroke-width="1.2"/>
<line x1="556.4" y1="247.1" x2="559.4" y2="247.1" stroke="#000" stroke-width="1.2"/>
<line x1="556.4" y1="243.7" x2="559.4" y2="243.7" stroke="#000" stroke-width="1.2"/>
<line x1="556.4" y1="240.8" x2="559.4" y2="240.8" stroke="#000" stroke-width="1.2"/>
<line x1="556.4" y1="238.3" x2="559.4" y2="238.3" stroke="#000" stroke-width="1.2"/>
<rect x="555.4" y="300.0" width="3.5" height="6" fill="#000"/>
<line x1="572.0" y1="331.3" x2="572.0" y2="335.8" stroke="#000" stroke-width="1.3"/>
<line x1="600.0" y1="331.3" x2="600.0" y2="335.8" stroke="#000" stroke-width="1.3"/>
<line x1="645.0" y1="331.3" x2="645.0" y2="335.8" stroke="#000" stroke-width="1.3"/>
<line x1="705.0" y1="331.3" x2="705.0" y2="335.8" stroke="#000" stroke-width="1.3"/>
<line x1="757.0" y1="331.3" x2="757.0" y2="335.8" stroke="#000" stroke-width="1.3"/>
<line x1="573.0" y1="331.3" x2="573.0" y2="334.8" stroke="#000" stroke-width="1.3"/>
<line x1="576.0" y1="331.3" x2="576.0" y2="334.8" stroke="#000" stroke-width="1.3"/>
<line x1="579.0" y1="331.3" x2="579.0" y2="334.8" stroke="#000" stroke-width="1.3"/>
<line x1="582.0" y1="331.3" x2="582.0" y2="334.8" stroke="#000" stroke-width="1.3"/>
<line x1="585.0" y1="331.3" x2="585.0" y2="334.8" stroke="#000" stroke-width="1.3"/>
<line x1="588.0" y1="331.3" x2="588.0" y2="334.8" stroke="#000" stroke-width="1.3"/>
<line x1="591.0" y1="331.3" x2="591.0" y2="334.8" stroke="#000" stroke-width="1.3"/>
<line x1="594.0" y1="331.3" x2="594.0" y2="334.8" stroke="#000" stroke-width="1.3"/>
<line x1="597.0" y1="331.3" x2="597.0" y2="334.8" stroke="#000" stroke-width="1.3"/>
<line x1="600.0" y1="331.3" x2="600.0" y2="334.8" stroke="#000" stroke-width="1.3"/>
<line x1="603.0" y1="331.3" x2="603.0" y2="334.8" stroke="#000" stroke-width="1.3"/>
<line x1="606.0" y1="331.3" x2="606.0" y2="334.8" stroke="#000" stroke-width="1.3"/>
<line x1="609.0" y1="331.3" x2="609.0" y2="334.8" stroke="#000" stroke-width="1.3"/>
<line x1="612.0" y1="331.3" x2="612.0" y2="334.8" stroke="#000" stroke-width="1.3"/>
<line x1="615.0" y1="331.3" x2="615.0" y2="334.8" stroke="#000" stroke-width="1.3"/>
<line x1="620.0" y1="331.3" x2="620.0" y2="334.8" stroke="#000" stroke-width="1.3"/>
<line x1="625.0" y1="331.3" x2="625.0" y2="334.8" stroke="#000" stroke-width="1.3"/>
<line x1="630.0" y1="331.3" x2="630.0" y2="334.8" stroke="#000" stroke-width="1.3"/>
<line x1="650.0" y1="331.3" x2="650.0" y2="334.8" stroke="#000" stroke-width="1.3"/>
<line x1="660.0" y1="331.3" x2="660.0" y2="334.8" stroke="#000" stroke-width="1.3"/>
<line x1="668.0" y1="331.3" x2="668.0" y2="334.8" stroke="#000" stroke-width="1.3"/>
<line x1="675.0" y1="331.3" x2="675.0" y2="334.8" stroke="#000" stroke-width="1.3"/>
<line x1="690.0" y1="331.3" x2="690.0" y2="334.8" stroke="#000" stroke-width="1.3"/>
<line x1="712.0" y1="331.3" x2="712.0" y2="334.8" stroke="#000" stroke-width="1.3"/>
<line x1="722.0" y1="331.3" x2="722.0" y2="334.8" stroke="#000" stroke-width="1.3"/>
<line x1="730.0" y1="331.3" x2="730.0" y2="334.8" stroke="#000" stroke-width="1.3"/>
<line x1="736.0" y1="331.3" x2="736.0" y2="334.8" stroke="#000" stroke-width="1.3"/>
<line x1="741.0" y1="331.3" x2="741.0" y2="334.8" stroke="#000" stroke-width="1.3"/>
<line x1="745.0" y1="331.3" x2="745.0" y2="334.8" stroke="#000" stroke-width="1.3"/>
<line x1="749.0" y1="331.3" x2="749.0" y2="334.8" stroke="#000" stroke-width="1.3"/>
<rect x="603.0" y="331.3" width="5" height="4" fill="#000"/>
<line x1="776.2" y1="132.0" x2="781.2" y2="132.0" stroke="#000" stroke-width="1.6"/>
<line x1="778.2" y1="116.9" x2="781.2" y2="116.9" stroke="#000" stroke-width="1.2"/>
<line x1="776.2" y1="182.0" x2="781.2" y2="182.0" stroke="#000" stroke-width="1.6"/>
<line x1="778.2" y1="166.9" x2="781.2" y2="166.9" stroke="#000" stroke-width="1.2"/>
<line x1="778.2" y1="158.1" x2="781.2" y2="158.1" stroke="#000" stroke-width="1.2"/>
<line x1="778.2" y1="151.9" x2="781.2" y2="151.9" stroke="#000" stroke-width="1.2"/>
<line x1="778.2" y1="147.1" x2="781.2" y2="147.1" stroke="#000" stroke-width="1.2"/>
<line x1="778.2" y1="143.1" x2="781.2" y2="143.1" stroke="#000" stroke-width="1.2"/>
<line x1="778.2" y1="139.7" x2="781.2" y2="139.7" stroke="#000" stroke-width="1.2"/>
<line x1="778.2" y1="136.8" x2="781.2" y2="136.8" stroke="#000" stroke-width="1.2"/>
<line x1="778.2" y1="134.3" x2="781.2" y2="134.3" stroke="#000" stroke-width="1.2"/>
<line x1="776.2" y1="234.7" x2="781.2" y2="234.7" stroke="#000" stroke-width="1.6"/>
<line x1="778.2" y1="219.6" x2="781.2" y2="219.6" stroke="#000" stroke-width="1.2"/>
<line x1="778.2" y1="210.8" x2="781.2" y2="210.8" stroke="#000" stroke-width="1.2"/>
<line x1="778.2" y1="204.6" x2="781.2" y2="204.6" stroke="#000" stroke-width="1.2"/>
<line x1="778.2" y1="199.8" x2="781.2" y2="199.8" stroke="#000" stroke-width="1.2"/>
<line x1="778.2" y1="195.8" x2="781.2" y2="195.8" stroke="#000" stroke-width="1.2"/>
<line x1="778.2" y1="192.4" x2="781.2" y2="192.4" stroke="#000" stroke-width="1.2"/>
<line x1="778.2" y1="189.5" x2="781.2" y2="189.5" stroke="#000" stroke-width="1.2"/>
<line x1="778.2" y1="187.0" x2="781.2" y2="187.0" stroke="#000" stroke-width="1.2"/>
<line x1="776.2" y1="286.0" x2="781.2" y2="286.0" stroke="#000" stroke-width="1.6"/>
<line x1="778.2" y1="270.9" x2="781.2" y2="270.9" stroke="#000" stroke-width="1.2"/>
<line x1="778.2" y1="262.1" x2="781.2" y2="262.1" stroke="#000" stroke-width="1.2"/>
<line x1="778.2" y1="255.9" x2="781.2" y2="255.9" stroke="#000" stroke-width="1.2"/>
<line x1="778.2" y1="251.1" x2="781.2" y2="251.1" stroke="#000" stroke-width="1.2"/>
<line x1="778.2" y1="247.1" x2="781.2" y2="247.1" stroke="#000" stroke-width="1.2"/>
<line x1="778.2" y1="243.7" x2="781.2" y2="243.7" stroke="#000" stroke-width="1.2"/>
<line x1="778.2" y1="240.8" x2="781.2" y2="240.8" stroke="#000" stroke-width="1.2"/>
<line x1="778.2" y1="238.3" x2="781.2" y2="238.3" stroke="#000" stroke-width="1.2"/>
<rect x="777.2" y="300.0" width="3.5" height="6" fill="#000"/>
<line x1="793.8" y1="331.3" x2="793.8" y2="335.8" stroke="#000" stroke-width="1.3"/>
<line x1="821.8" y1="331.3" x2="821.8" y2="335.8" stroke="#000" stroke-width="1.3"/>
<line x1="866.8" y1="331.3" x2="866.8" y2="335.8" stroke="#000" stroke-width="1.3"/>
<line x1="926.8" y1="331.3" x2="926.8" y2="335.8" stroke="#000" stroke-width="1.3"/>
<line x1="978.8" y1="331.3" x2="978.8" y2="335.8" stroke="#000" stroke-width="1.3"/>
<line x1="794.8" y1="331.3" x2="794.8" y2="334.8" stroke="#000" stroke-width="1.3"/>
<line x1="797.8" y1="331.3" x2="797.8" y2="334.8" stroke="#000" stroke-width="1.3"/>
<line x1="800.8" y1="331.3" x2="800.8" y2="334.8" stroke="#000" stroke-width="1.3"/>
<line x1="803.8" y1="331.3" x2="803.8" y2="334.8" stroke="#000" stroke-width="1.3"/>
<line x1="806.8" y1="331.3" x2="806.8" y2="334.8" stroke="#000" stroke-width="1.3"/>
<line x1="809.8" y1="331.3" x2="809.8" y2="334.8" stroke="#000" stroke-width="1.3"/>
<line x1="812.8" y1="331.3" x2="812.8" y2="334.8" stroke="#000" stroke-width="1.3"/>
<line x1="815.8" y1="331.3" x2="815.8" y2="334.8" stroke="#000" stroke-width="1.3"/>
<line x1="818.8" y1="331.3" x2="818.8" y2="334.8" stroke="#000" stroke-width="1.3"/>
<line x1="821.8" y1="331.3" x2="821.8" y2="334.8" stroke="#000" stroke-width="1.3"/>
<line x1="824.8" y1="331.3" x2="824.8" y2="334.8" stroke="#000" stroke-width="1.3"/>
<line x1="827.8" y1="331.3" x2="827.8" y2="334.8" stroke="#000" stroke-width="1.3"/>
<line x1="830.8" y1="331.3" x2="830.8" y2="334.8" stroke="#000" stroke-width="1.3"/>
<line x1="833.8" y1="331.3" x2="833.8" y2="334.8" stroke="#000" stroke-width="1.3"/>
<line x1="836.8" y1="331.3" x2="836.8" y2="334.8" stroke="#000" stroke-width="1.3"/>
<line x1="841.8" y1="331.3" x2="841.8" y2="334.8" stroke="#000" stroke-width="1.3"/>
<line x1="846.8" y1="331.3" x2="846.8" y2="334.8" stroke="#000" stroke-width="1.3"/>
<line x1="851.8" y1="331.3" x2="851.8" y2="334.8" stroke="#000" stroke-width="1.3"/>
<line x1="871.8" y1="331.3" x2="871.8" y2="334.8" stroke="#000" stroke-width="1.3"/>
<line x1="881.8" y1="331.3" x2="881.8" y2="334.8" stroke="#000" stroke-width="1.3"/>
<line x1="889.8" y1="331.3" x2="889.8" y2="334.8" stroke="#000" stroke-width="1.3"/>
<line x1="896.8" y1="331.3" x2="896.8" y2="334.8" stroke="#000" stroke-width="1.3"/>
<line x1="911.8" y1="331.3" x2="911.8" y2="334.8" stroke="#000" stroke-width="1.3"/>
<line x1="933.8" y1="331.3" x2="933.8" y2="334.8" stroke="#000" stroke-width="1.3"/>
<line x1="943.8" y1="331.3" x2="943.8" y2="334.8" stroke="#000" stroke-width="1.3"/>
<line x1="951.8" y1="331.3" x2="951.8" y2="334.8" stroke="#000" stroke-width="1.3"/>
<line x1="957.8" y1="331.3" x2="957.8" y2="334.8" stroke="#000" stroke-width="1.3"/>
<line x1="962.8" y1="331.3" x2="962.8" y2="334.8" stroke="#000" stroke-width="1.3"/>
<line x1="966.8" y1="331.3" x2="966.8" y2="334.8" stroke="#000" stroke-width="1.3"/>
<line x1="970.8" y1="331.3" x2="970.8" y2="334.8" stroke="#000" stroke-width="1.3"/>
<rect x="824.8000000000001" y="331.3" width="5" height="4" fill="#000"/>
<line x1="554.4" y1="355.1" x2="559.4" y2="355.1" stroke="#000" stroke-width="1.6"/>
<line x1="556.4" y1="340.0" x2="559.4" y2="340.0" stroke="#000" stroke-width="1.2"/>
<line x1="554.4" y1="405.1" x2="559.4" y2="405.1" stroke="#000" stroke-width="1.6"/>
<line x1="556.4" y1="390.0" x2="559.4" y2="390.0" stroke="#000" stroke-width="1.2"/>
<line x1="556.4" y1="381.2" x2="559.4" y2="381.2" stroke="#000" stroke-width="1.2"/>
<line x1="556.4" y1="375.0" x2="559.4" y2="375.0" stroke="#000" stroke-width="1.2"/>
<line x1="556.4" y1="370.2" x2="559.4" y2="370.2" stroke="#000" stroke-width="1.2"/>
<line x1="556.4" y1="366.2" x2="559.4" y2="366.2" stroke="#000" stroke-width="1.2"/>
<line x1="556.4" y1="362.8" x2="559.4" y2="362.8" stroke="#000" stroke-width="1.2"/>
<line x1="556.4" y1="359.9" x2="559.4" y2="359.9" stroke="#000" stroke-width="1.2"/>
<line x1="556.4" y1="357.4" x2="559.4" y2="357.4" stroke="#000" stroke-width="1.2"/>
<line x1="554.4" y1="457.8" x2="559.4" y2="457.8" stroke="#000" stroke-width="1.6"/>
<line x1="556.4" y1="442.7" x2="559.4" y2="442.7" stroke="#000" stroke-width="1.2"/>
<line x1="556.4" y1="433.9" x2="559.4" y2="433.9" stroke="#000" stroke-width="1.2"/>
<line x1="556.4" y1="427.7" x2="559.4" y2="427.7" stroke="#000" stroke-width="1.2"/>
<line x1="556.4" y1="422.9" x2="559.4" y2="422.9" stroke="#000" stroke-width="1.2"/>
<line x1="556.4" y1="418.9" x2="559.4" y2="418.9" stroke="#000" stroke-width="1.2"/>
<line x1="556.4" y1="415.5" x2="559.4" y2="415.5" stroke="#000" stroke-width="1.2"/>
<line x1="556.4" y1="412.6" x2="559.4" y2="412.6" stroke="#000" stroke-width="1.2"/>
<line x1="556.4" y1="410.1" x2="559.4" y2="410.1" stroke="#000" stroke-width="1.2"/>
<line x1="554.4" y1="509.1" x2="559.4" y2="509.1" stroke="#000" stroke-width="1.6"/>
<line x1="556.4" y1="494.0" x2="559.4" y2="494.0" stroke="#000" stroke-width="1.2"/>
<line x1="556.4" y1="485.2" x2="559.4" y2="485.2" stroke="#000" stroke-width="1.2"/>
<line x1="556.4" y1="479.0" x2="559.4" y2="479.0" stroke="#000" stroke-width="1.2"/>
<line x1="556.4" y1="474.2" x2="559.4" y2="474.2" stroke="#000" stroke-width="1.2"/>
<line x1="556.4" y1="470.2" x2="559.4" y2="470.2" stroke="#000" stroke-width="1.2"/>
<line x1="556.4" y1="466.8" x2="559.4" y2="466.8" stroke="#000" stroke-width="1.2"/>
<line x1="556.4" y1="463.9" x2="559.4" y2="463.9" stroke="#000" stroke-width="1.2"/>
<line x1="556.4" y1="461.4" x2="559.4" y2="461.4" stroke="#000" stroke-width="1.2"/>
<rect x="555.4" y="523.1" width="3.5" height="6" fill="#000"/>
<line x1="572.0" y1="554.0" x2="572.0" y2="558.5" stroke="#000" stroke-width="1.3"/>
<line x1="600.0" y1="554.0" x2="600.0" y2="558.5" stroke="#000" stroke-width="1.3"/>
<line x1="645.0" y1="554.0" x2="645.0" y2="558.5" stroke="#000" stroke-width="1.3"/>
<line x1="705.0" y1="554.0" x2="705.0" y2="558.5" stroke="#000" stroke-width="1.3"/>
<line x1="757.0" y1="554.0" x2="757.0" y2="558.5" stroke="#000" stroke-width="1.3"/>
<line x1="573.0" y1="554.0" x2="573.0" y2="557.5" stroke="#000" stroke-width="1.3"/>
<line x1="576.0" y1="554.0" x2="576.0" y2="557.5" stroke="#000" stroke-width="1.3"/>
<line x1="579.0" y1="554.0" x2="579.0" y2="557.5" stroke="#000" stroke-width="1.3"/>
<line x1="582.0" y1="554.0" x2="582.0" y2="557.5" stroke="#000" stroke-width="1.3"/>
<line x1="585.0" y1="554.0" x2="585.0" y2="557.5" stroke="#000" stroke-width="1.3"/>
<line x1="588.0" y1="554.0" x2="588.0" y2="557.5" stroke="#000" stroke-width="1.3"/>
<line x1="591.0" y1="554.0" x2="591.0" y2="557.5" stroke="#000" stroke-width="1.3"/>
<line x1="594.0" y1="554.0" x2="594.0" y2="557.5" stroke="#000" stroke-width="1.3"/>
<line x1="597.0" y1="554.0" x2="597.0" y2="557.5" stroke="#000" stroke-width="1.3"/>
<line x1="600.0" y1="554.0" x2="600.0" y2="557.5" stroke="#000" stroke-width="1.3"/>
<line x1="603.0" y1="554.0" x2="603.0" y2="557.5" stroke="#000" stroke-width="1.3"/>
<line x1="606.0" y1="554.0" x2="606.0" y2="557.5" stroke="#000" stroke-width="1.3"/>
<line x1="609.0" y1="554.0" x2="609.0" y2="557.5" stroke="#000" stroke-width="1.3"/>
<line x1="612.0" y1="554.0" x2="612.0" y2="557.5" stroke="#000" stroke-width="1.3"/>
<line x1="615.0" y1="554.0" x2="615.0" y2="557.5" stroke="#000" stroke-width="1.3"/>
<line x1="620.0" y1="554.0" x2="620.0" y2="557.5" stroke="#000" stroke-width="1.3"/>
<line x1="625.0" y1="554.0" x2="625.0" y2="557.5" stroke="#000" stroke-width="1.3"/>
<line x1="630.0" y1="554.0" x2="630.0" y2="557.5" stroke="#000" stroke-width="1.3"/>
<line x1="650.0" y1="554.0" x2="650.0" y2="557.5" stroke="#000" stroke-width="1.3"/>
<line x1="660.0" y1="554.0" x2="660.0" y2="557.5" stroke="#000" stroke-width="1.3"/>
<line x1="668.0" y1="554.0" x2="668.0" y2="557.5" stroke="#000" stroke-width="1.3"/>
<line x1="675.0" y1="554.0" x2="675.0" y2="557.5" stroke="#000" stroke-width="1.3"/>
<line x1="690.0" y1="554.0" x2="690.0" y2="557.5" stroke="#000" stroke-width="1.3"/>
<line x1="712.0" y1="554.0" x2="712.0" y2="557.5" stroke="#000" stroke-width="1.3"/>
<line x1="722.0" y1="554.0" x2="722.0" y2="557.5" stroke="#000" stroke-width="1.3"/>
<line x1="730.0" y1="554.0" x2="730.0" y2="557.5" stroke="#000" stroke-width="1.3"/>
<line x1="736.0" y1="554.0" x2="736.0" y2="557.5" stroke="#000" stroke-width="1.3"/>
<line x1="741.0" y1="554.0" x2="741.0" y2="557.5" stroke="#000" stroke-width="1.3"/>
<line x1="745.0" y1="554.0" x2="745.0" y2="557.5" stroke="#000" stroke-width="1.3"/>
<line x1="749.0" y1="554.0" x2="749.0" y2="557.5" stroke="#000" stroke-width="1.3"/>
<rect x="603.0" y="554" width="5" height="4" fill="#000"/>
<line x1="776.2" y1="355.1" x2="781.2" y2="355.1" stroke="#000" stroke-width="1.6"/>
<line x1="778.2" y1="340.0" x2="781.2" y2="340.0" stroke="#000" stroke-width="1.2"/>
<line x1="776.2" y1="405.1" x2="781.2" y2="405.1" stroke="#000" stroke-width="1.6"/>
<line x1="778.2" y1="390.0" x2="781.2" y2="390.0" stroke="#000" stroke-width="1.2"/>
<line x1="778.2" y1="381.2" x2="781.2" y2="381.2" stroke="#000" stroke-width="1.2"/>
<line x1="778.2" y1="375.0" x2="781.2" y2="375.0" stroke="#000" stroke-width="1.2"/>
<line x1="778.2" y1="370.2" x2="781.2" y2="370.2" stroke="#000" stroke-width="1.2"/>
<line x1="778.2" y1="366.2" x2="781.2" y2="366.2" stroke="#000" stroke-width="1.2"/>
<line x1="778.2" y1="362.8" x2="781.2" y2="362.8" stroke="#000" stroke-width="1.2"/>
<line x1="778.2" y1="359.9" x2="781.2" y2="359.9" stroke="#000" stroke-width="1.2"/>
<line x1="778.2" y1="357.4" x2="781.2" y2="357.4" stroke="#000" stroke-width="1.2"/>
<line x1="776.2" y1="457.8" x2="781.2" y2="457.8" stroke="#000" stroke-width="1.6"/>
<line x1="778.2" y1="442.7" x2="781.2" y2="442.7" stroke="#000" stroke-width="1.2"/>
<line x1="778.2" y1="433.9" x2="781.2" y2="433.9" stroke="#000" stroke-width="1.2"/>
<line x1="778.2" y1="427.7" x2="781.2" y2="427.7" stroke="#000" stroke-width="1.2"/>
<line x1="778.2" y1="422.9" x2="781.2" y2="422.9" stroke="#000" stroke-width="1.2"/>
<line x1="778.2" y1="418.9" x2="781.2" y2="418.9" stroke="#000" stroke-width="1.2"/>
<line x1="778.2" y1="415.5" x2="781.2" y2="415.5" stroke="#000" stroke-width="1.2"/>
<line x1="778.2" y1="412.6" x2="781.2" y2="412.6" stroke="#000" stroke-width="1.2"/>
<line x1="778.2" y1="410.1" x2="781.2" y2="410.1" stroke="#000" stroke-width="1.2"/>
<line x1="776.2" y1="509.1" x2="781.2" y2="509.1" stroke="#000" stroke-width="1.6"/>
<line x1="778.2" y1="494.0" x2="781.2" y2="494.0" stroke="#000" stroke-width="1.2"/>
<line x1="778.2" y1="485.2" x2="781.2" y2="485.2" stroke="#000" stroke-width="1.2"/>
<line x1="778.2" y1="479.0" x2="781.2" y2="479.0" stroke="#000" stroke-width="1.2"/>
<line x1="778.2" y1="474.2" x2="781.2" y2="474.2" stroke="#000" stroke-width="1.2"/>
<line x1="778.2" y1="470.2" x2="781.2" y2="470.2" stroke="#000" stroke-width="1.2"/>
<line x1="778.2" y1="466.8" x2="781.2" y2="466.8" stroke="#000" stroke-width="1.2"/>
<line x1="778.2" y1="463.9" x2="781.2" y2="463.9" stroke="#000" stroke-width="1.2"/>
<line x1="778.2" y1="461.4" x2="781.2" y2="461.4" stroke="#000" stroke-width="1.2"/>
<rect x="777.2" y="523.1" width="3.5" height="6" fill="#000"/>
<line x1="793.8" y1="554.0" x2="793.8" y2="558.5" stroke="#000" stroke-width="1.3"/>
<line x1="821.8" y1="554.0" x2="821.8" y2="558.5" stroke="#000" stroke-width="1.3"/>
<line x1="866.8" y1="554.0" x2="866.8" y2="558.5" stroke="#000" stroke-width="1.3"/>
<line x1="926.8" y1="554.0" x2="926.8" y2="558.5" stroke="#000" stroke-width="1.3"/>
<line x1="978.8" y1="554.0" x2="978.8" y2="558.5" stroke="#000" stroke-width="1.3"/>
<line x1="794.8" y1="554.0" x2="794.8" y2="557.5" stroke="#000" stroke-width="1.3"/>
<line x1="797.8" y1="554.0" x2="797.8" y2="557.5" stroke="#000" stroke-width="1.3"/>
<line x1="800.8" y1="554.0" x2="800.8" y2="557.5" stroke="#000" stroke-width="1.3"/>
<line x1="803.8" y1="554.0" x2="803.8" y2="557.5" stroke="#000" stroke-width="1.3"/>
<line x1="806.8" y1="554.0" x2="806.8" y2="557.5" stroke="#000" stroke-width="1.3"/>
<line x1="809.8" y1="554.0" x2="809.8" y2="557.5" stroke="#000" stroke-width="1.3"/>
<line x1="812.8" y1="554.0" x2="812.8" y2="557.5" stroke="#000" stroke-width="1.3"/>
<line x1="815.8" y1="554.0" x2="815.8" y2="557.5" stroke="#000" stroke-width="1.3"/>
<line x1="818.8" y1="554.0" x2="818.8" y2="557.5" stroke="#000" stroke-width="1.3"/>
<line x1="821.8" y1="554.0" x2="821.8" y2="557.5" stroke="#000" stroke-width="1.3"/>
<line x1="824.8" y1="554.0" x2="824.8" y2="557.5" stroke="#000" stroke-width="1.3"/>
<line x1="827.8" y1="554.0" x2="827.8" y2="557.5" stroke="#000" stroke-width="1.3"/>
<line x1="830.8" y1="554.0" x2="830.8" y2="557.5" stroke="#000" stroke-width="1.3"/>
<line x1="833.8" y1="554.0" x2="833.8" y2="557.5" stroke="#000" stroke-width="1.3"/>
<line x1="836.8" y1="554.0" x2="836.8" y2="557.5" stroke="#000" stroke-width="1.3"/>
<line x1="841.8" y1="554.0" x2="841.8" y2="557.5" stroke="#000" stroke-width="1.3"/>
<line x1="846.8" y1="554.0" x2="846.8" y2="557.5" stroke="#000" stroke-width="1.3"/>
<line x1="851.8" y1="554.0" x2="851.8" y2="557.5" stroke="#000" stroke-width="1.3"/>
<line x1="871.8" y1="554.0" x2="871.8" y2="557.5" stroke="#000" stroke-width="1.3"/>
<line x1="881.8" y1="554.0" x2="881.8" y2="557.5" stroke="#000" stroke-width="1.3"/>
<line x1="889.8" y1="554.0" x2="889.8" y2="557.5" stroke="#000" stroke-width="1.3"/>
<line x1="896.8" y1="554.0" x2="896.8" y2="557.5" stroke="#000" stroke-width="1.3"/>
<line x1="911.8" y1="554.0" x2="911.8" y2="557.5" stroke="#000" stroke-width="1.3"/>
<line x1="933.8" y1="554.0" x2="933.8" y2="557.5" stroke="#000" stroke-width="1.3"/>
<line x1="943.8" y1="554.0" x2="943.8" y2="557.5" stroke="#000" stroke-width="1.3"/>
<line x1="951.8" y1="554.0" x2="951.8" y2="557.5" stroke="#000" stroke-width="1.3"/>
<line x1="957.8" y1="554.0" x2="957.8" y2="557.5" stroke="#000" stroke-width="1.3"/>
<line x1="962.8" y1="554.0" x2="962.8" y2="557.5" stroke="#000" stroke-width="1.3"/>
<line x1="966.8" y1="554.0" x2="966.8" y2="557.5" stroke="#000" stroke-width="1.3"/>
<line x1="970.8" y1="554.0" x2="970.8" y2="557.5" stroke="#000" stroke-width="1.3"/>
<rect x="824.8000000000001" y="554" width="5" height="4" fill="#000"/>
<line x1="1171.8" y1="139.0" x2="1171.8" y2="470.0" stroke="#000" stroke-width="3"/>
<line x1="1157.8" y1="468.5" x2="1171.8" y2="468.5" stroke="#000" stroke-width="3"/>
<text x="1151.3" y="478.7" font-size="28.7" text-anchor="end" fill="#000">0</text>
<line x1="1157.8" y1="402.8" x2="1171.8" y2="402.8" stroke="#000" stroke-width="3"/>
<text x="1151.3" y="413.0" font-size="28.7" text-anchor="end" fill="#000">20</text>
<line x1="1157.8" y1="337.1" x2="1171.8" y2="337.1" stroke="#000" stroke-width="3"/>
<text x="1151.3" y="347.3" font-size="28.7" text-anchor="end" fill="#000">40</text>
<line x1="1157.8" y1="271.5" x2="1171.8" y2="271.5" stroke="#000" stroke-width="3"/>
<text x="1151.3" y="281.6" font-size="28.7" text-anchor="end" fill="#000">60</text>
<line x1="1157.8" y1="205.8" x2="1171.8" y2="205.8" stroke="#000" stroke-width="3"/>
<text x="1151.3" y="215.9" font-size="28.7" text-anchor="end" fill="#000">80</text>
<line x1="1157.8" y1="140.1" x2="1171.8" y2="140.1" stroke="#000" stroke-width="3"/>
<text x="1151.3" y="150.3" font-size="28.7" text-anchor="end" fill="#000">100</text>
<line x1="1158.4" y1="468.5" x2="1392.3" y2="468.5" stroke="#000" stroke-width="3"/>
<line x1="1194.5" y1="468.5" x2="1194.5" y2="482.4" stroke="#000" stroke-width="3"/>
<line x1="1251.9" y1="468.5" x2="1251.9" y2="482.4" stroke="#000" stroke-width="3"/>
<line x1="1309.8" y1="468.5" x2="1309.8" y2="482.4" stroke="#000" stroke-width="3"/>
<line x1="1367.1" y1="468.5" x2="1367.1" y2="482.4" stroke="#000" stroke-width="3"/>
<text x="0.0" y="0.0" font-size="36" text-anchor="end" fill="#000" transform="translate(1208.0,503.2) rotate(-45)" style="font-kerning:normal">NT Ts</text>
<text x="0.0" y="0.0" font-size="36" text-anchor="end" fill="#000" transform="translate(1269.2,507.0) rotate(-45)" style="font-kerning:normal">CAR-Ts</text>
<text x="0.0" y="0.0" font-size="36" text-anchor="end" fill="#000" transform="translate(1330.0,504.7) rotate(-45)" style="font-kerning:normal">NT NKTs</text>
<text x="0.0" y="0.0" font-size="36" text-anchor="end" fill="#000" transform="translate(1393.6,506.8) rotate(-45)" style="font-kerning:normal">CAR-NKTs</text>
<text x="0.0" y="0.0" font-size="34.5" text-anchor="middle" fill="#000" transform="translate(1093.0,303.0) rotate(-90)">% of tumor cells</text>
<path d="M1193.4 71.9 L1193.4 58.2 L1370.6 58.2 L1370.6 71.9" stroke="#000" stroke-width="3" fill="none" stroke-linejoin="miter"/>
<path d="M1254.2 112.4 L1254.2 98.6 L1314.7 98.6 L1314.7 112.4" stroke="#000" stroke-width="3" fill="none" stroke-linejoin="miter"/>
<path d="M1194.5 158.5 L1194.5 145.4 L1252.7 145.4 L1252.7 158.5" stroke="#000" stroke-width="3" fill="none" stroke-linejoin="miter"/>
<path d="M1308.2 165.6 L1308.2 153.2 L1366.0 153.2 L1366.0 165.6" stroke="#000" stroke-width="3" fill="none" stroke-linejoin="miter"/>
<text x="1285.0" y="50.0" font-size="25" text-anchor="middle" fill="#000"><tspan font-style="italic">p</tspan>&lt;0.0001</text>
<text x="1286.0" y="90.7" font-size="25" text-anchor="middle" fill="#000"><tspan font-style="italic">p</tspan>&lt;0.0001</text>
<text x="1232.7" y="138.8" font-size="25" text-anchor="middle" fill="#000"><tspan font-style="italic">p</tspan>&lt;0.0001</text>
<text x="1355.8" y="142.8" font-size="25" text-anchor="middle" fill="#000"><tspan font-style="italic">p</tspan>&lt;0.0001</text>
<line x1="1194.5" y1="165.6" x2="1194.5" y2="222.7" stroke="#000000" stroke-width="1.5"/>
<line x1="1188.0" y1="165.6" x2="1201.0" y2="165.6" stroke="#000000" stroke-width="1.5"/>
<line x1="1188.0" y1="222.7" x2="1201.0" y2="222.7" stroke="#000000" stroke-width="1.5"/>
<line x1="1183.0" y1="192.0" x2="1206.8" y2="192.0" stroke="#000000" stroke-width="3"/>
<circle cx="1188.5" cy="173.4" r="5.2" fill="#000000"/>
<circle cx="1201.6" cy="180.2" r="5.2" fill="#000000"/>
<circle cx="1194.5" cy="222.7" r="5.2" fill="#000000"/>
<line x1="1309.8" y1="178.0" x2="1309.8" y2="226.6" stroke="#0b0bf2" stroke-width="1.5"/>
<line x1="1303.3" y1="178.0" x2="1316.3" y2="178.0" stroke="#0b0bf2" stroke-width="1.5"/>
<line x1="1303.3" y1="226.6" x2="1316.3" y2="226.6" stroke="#0b0bf2" stroke-width="1.5"/>
<line x1="1298.5" y1="202.2" x2="1320.8" y2="202.2" stroke="#0b0bf2" stroke-width="3"/>
<path d="M1309.8 174.8 L1315.3 184.7 L1304.3 184.7Z" fill="#0b0bf2"/>
<path d="M1309.8 197.1 L1315.3 207.0 L1304.3 207.0Z" fill="#0b0bf2"/>
<path d="M1309.8 218.1 L1315.3 228.0 L1304.3 228.0Z" fill="#0b0bf2"/>
<rect x="1240.0" y="437.0" width="11" height="11" fill="#f20d0d"/>
<rect x="1240.0" y="448.0" width="11" height="11" fill="#f20d0d"/>
<rect x="1251.9" y="444.7" width="11" height="11" fill="#f20d0d"/>
<line x1="1251.0" y1="443.0" x2="1257.7" y2="443.0" stroke="#f20d0d" stroke-width="2"/>
<line x1="1367.1" y1="437.7" x2="1367.1" y2="463.0" stroke="#9b1fe3" stroke-width="1.5"/>
<line x1="1361.6" y1="437.7" x2="1372.6" y2="437.7" stroke="#9b1fe3" stroke-width="1.5"/>
<line x1="1361.6" y1="463.0" x2="1372.6" y2="463.0" stroke="#9b1fe3" stroke-width="1.5"/>
<line x1="1356.0" y1="450.0" x2="1373.0" y2="450.0" stroke="#9b1fe3" stroke-width="3"/>
<path d="M1367.2 440.6 L1373.5 429.3 L1361.0 429.3Z" fill="#9b1fe3"/>
<path d="M1360.6 466.1 L1366.8 454.8 L1354.3 454.8Z" fill="#9b1fe3"/>
<path d="M1373.2 461.1 L1379.5 449.8 L1367.0 449.8Z" fill="#9b1fe3"/>
<line x1="206.0" y1="741.1" x2="206.0" y2="1020.7" stroke="#000" stroke-width="3"/>
<line x1="193.6" y1="1019.2" x2="206.0" y2="1019.2" stroke="#000" stroke-width="3"/>
<text x="177.5" y="1034.4" font-size="27.5" text-anchor="end" fill="#000">0</text>
<line x1="193.6" y1="927.0" x2="206.0" y2="927.0" stroke="#000" stroke-width="3"/>
<text x="187.5" y="942.2" font-size="27.5" text-anchor="end" fill="#000">5000</text>
<line x1="193.6" y1="834.8" x2="206.0" y2="834.8" stroke="#000" stroke-width="3"/>
<text x="187.5" y="850.0" font-size="27.5" text-anchor="end" fill="#000">10000</text>
<line x1="193.6" y1="742.6" x2="206.0" y2="742.6" stroke="#000" stroke-width="3"/>
<text x="187.5" y="757.8" font-size="27.5" text-anchor="end" fill="#000">15000</text>
<line x1="193.6" y1="1019.2" x2="415.5" y2="1019.2" stroke="#000" stroke-width="3"/>
<line x1="228.2" y1="1019.2" x2="228.2" y2="1030.7" stroke="#000" stroke-width="3"/>
<line x1="282.4" y1="1019.2" x2="282.4" y2="1030.7" stroke="#000" stroke-width="3"/>
<line x1="337.1" y1="1019.2" x2="337.1" y2="1030.7" stroke="#000" stroke-width="3"/>
<line x1="391.9" y1="1019.2" x2="391.9" y2="1030.7" stroke="#000" stroke-width="3"/>
<text x="0.0" y="0.0" font-size="34.5" text-anchor="middle" fill="#000" transform="translate(101.0,875.0) rotate(-90)">IFN<tspan font-size="30">γ</tspan> (pg/mL/10<tspan font-size="22" dy="-13">5</tspan><tspan dy="13"> cells)</tspan></text>
<path d="M285.3 671.0 L285.3 658.4 L391.9 658.4 L391.9 671.0" stroke="#000" stroke-width="3" fill="none" stroke-linejoin="miter"/>
<text x="339.3" y="648.9" font-size="25" text-anchor="middle" fill="#000"><tspan font-style="italic">p</tspan>=0.0005</text>
<path d="M225.3 721.0 L225.3 709.4 L392.5 709.4 L392.5 721.0" stroke="#000" stroke-width="3" fill="none" stroke-linejoin="miter"/>
<text x="315.0" y="699.3" font-size="25" text-anchor="middle" fill="#000"><tspan font-style="italic">p</tspan>=0.0013</text>
<path d="M229.0 769.0 L229.0 757.0 L283.8 757.0 L283.8 769.0" stroke="#000" stroke-width="3" fill="none" stroke-linejoin="miter"/>
<text x="262.9" y="745.4" font-size="25" text-anchor="middle" fill="#000"><tspan font-style="italic">p</tspan>&lt;0.0001</text>
<path d="M288.2 787.2 L288.2 774.8 L343.5 774.8 L343.5 787.2" stroke="#000" stroke-width="3" fill="none" stroke-linejoin="miter"/>
<text x="352.9" y="762.1" font-size="25" text-anchor="middle" fill="#000"><tspan font-style="italic">p</tspan>&lt;0.0001</text>
<path d="M338.6 839.0 L338.6 826.0 L392.5 826.0 L392.5 839.0" stroke="#000" stroke-width="3" fill="none" stroke-linejoin="miter"/>
<text x="373.9" y="816.9" font-size="25" text-anchor="middle" fill="#000"><tspan font-style="italic">p</tspan>=0.0013</text>
<line x1="283.0" y1="806.0" x2="283.0" y2="857.8" stroke="#f20d0d" stroke-width="1.5"/>
<line x1="278.5" y1="806.0" x2="287.5" y2="806.0" stroke="#f20d0d" stroke-width="1.5"/>
<line x1="278.5" y1="857.8" x2="287.5" y2="857.8" stroke="#f20d0d" stroke-width="1.5"/>
<line x1="272.3" y1="825.5" x2="294.0" y2="825.5" stroke="#f20d0d" stroke-width="3"/>
<rect x="278.5" y="796.3" width="9" height="9" fill="#f20d0d"/>
<rect x="278.5" y="816.7" width="9" height="9" fill="#f20d0d"/>
<rect x="278.5" y="849.0" width="9" height="9" fill="#f20d0d"/>
<line x1="391.9" y1="909.0" x2="391.9" y2="950.0" stroke="#9b1fe3" stroke-width="1.5"/>
<line x1="387.4" y1="909.0" x2="396.4" y2="909.0" stroke="#9b1fe3" stroke-width="1.5"/>
<line x1="387.4" y1="950.0" x2="396.4" y2="950.0" stroke="#9b1fe3" stroke-width="1.5"/>
<line x1="381.0" y1="928.4" x2="402.8" y2="928.4" stroke="#9b1fe3" stroke-width="3"/>
<path d="M391.9 914.1 L397.4 904.2 L386.4 904.2Z" fill="#9b1fe3"/>
<path d="M391.9 924.2 L397.4 914.3 L386.4 914.3Z" fill="#9b1fe3"/>
<path d="M391.9 960.2 L397.4 950.3 L386.4 950.3Z" fill="#9b1fe3"/>
<circle cx="221.0" cy="1016.9" r="4.8" fill="#000000"/>
<circle cx="229.0" cy="1016.9" r="4.8" fill="#000000"/>
<circle cx="237.0" cy="1016.9" r="4.8" fill="#000000"/>
<path d="M329.0 1011.1 L334.0 1020.1 L324.0 1020.1Z" fill="#0b0bf2"/>
<path d="M337.5 1011.1 L342.5 1020.1 L332.5 1020.1Z" fill="#0b0bf2"/>
<path d="M346.0 1011.1 L351.0 1020.1 L341.0 1020.1Z" fill="#0b0bf2"/>
<circle cx="447.0" cy="707.5" r="5" fill="#000000"/>
<rect x="442.0" y="739.5" width="10" height="10" fill="#f20d0d"/>
<path d="M447.0 776.8 L452.5 786.7 L441.5 786.7Z" fill="#0b0bf2"/>
<path d="M447.0 825.3 L452.5 815.4 L441.5 815.4Z" fill="#9b1fe3"/>
<text x="482.0" y="729.1" font-size="35.2" text-anchor="start" fill="#000">NT Ts</text>
<text x="482.0" y="766.5" font-size="35.2" text-anchor="start" fill="#000">CAR-Ts</text>
<text x="482.0" y="804.3" font-size="35.2" text-anchor="start" fill="#000">NT NKTs</text>
<text x="482.0" y="842.3" font-size="35.2" text-anchor="start" fill="#000">CAR-NKTs</text>
<g>
<path d="M817 779.5 C805 779 792 779 784 781 C775 784 767 789 763 795 C760 799 758.5 803 758.3 806.6" stroke="#6e6e6e" stroke-width="3.2" fill="none" stroke-linecap="round"/>
<path d="M818 779 L804 779.6" stroke="#555" stroke-width="4" fill="none"/>
<path d="M822.7 790 L821 797" stroke="#333" stroke-width="3"/>
<path d="M818 796 C820 793 826 793 829 797" stroke="#777" stroke-width="2.5" fill="none"/>
<path d="M843 793 L844 802" stroke="#222" stroke-width="4"/>
<ellipse cx="845" cy="805" rx="5" ry="3.3" fill="#8a8a8a"/>
<path d="M876 790 L877 800" stroke="#555" stroke-width="3"/>
<path d="M872 803 C874 800 880 800 883 804" stroke="#777" stroke-width="2.5" fill="none"/>
<path d="M817.5 772 C817 756 829 741 848 740 C862 739.5 874 744 880 752 C884 760 884 776 881 785 C877 792 867 795 856 795 C845 795 836 794 829 790 C821 786 818 780 817.5 772 Z" fill="#434343" stroke="#111" stroke-width="1.8"/>
<path d="M842 768 C843 782 849 792 856 794" stroke="#2a2a2a" stroke-width="1.2" fill="none"/>
<path d="M842 768 C845 757 856 751 868 753" stroke="#2a2a2a" stroke-width="1" fill="none" stroke-dasharray="2 1.5"/>
<ellipse cx="841.4" cy="753.6" rx="7" ry="10" fill="#a2a2a2" stroke="#1a1a1a" stroke-width="1.2" transform="rotate(-12 841.4 753.6)"/>
<ellipse cx="842" cy="753" rx="3.5" ry="6" fill="#c2c2c2" transform="rotate(-12 842 753)"/>
<ellipse cx="881.6" cy="753" rx="7.5" ry="10" fill="#a2a2a2" stroke="#1a1a1a" stroke-width="1.2" transform="rotate(12 881.6 753)"/>
<ellipse cx="881" cy="753.5" rx="3.5" ry="6" fill="#c2c2c2" transform="rotate(12 881 753.5)"/>
<circle cx="852.2" cy="772.2" r="2.5" fill="#050505"/><circle cx="869.4" cy="772.2" r="2.5" fill="#050505"/>
<ellipse cx="860.5" cy="789" rx="2.6" ry="1.6" fill="#f2f2f2"/>
</g>
<line x1="847.0" y1="827.0" x2="1512.0" y2="827.0" stroke="#000" stroke-width="2"/>
<path d="M1531 827 L1510 816.7 L1510 837.3 Z" fill="#000"/>
<line x1="859.5" y1="832.4" x2="859.5" y2="854.2" stroke="#000" stroke-width="1.8"/>
<line x1="1004.8" y1="832.4" x2="1004.8" y2="854.2" stroke="#000" stroke-width="1.8"/>
<line x1="1100.0" y1="816.7" x2="1100.0" y2="836.8" stroke="#000" stroke-width="1.8"/>
<text x="997.5" y="712.5" font-size="35.2" text-anchor="middle" fill="#000">Cy</text>
<text x="997.3" y="753.0" font-size="35.2" text-anchor="middle" fill="#000">100 mg/kg</text>
<text x="996.6" y="795.0" font-size="35.2" text-anchor="middle" fill="#000">i. p.</text>
<text x="1316.4" y="723.6" font-size="35.2" text-anchor="middle" fill="#000">Weekly weight and</text>
<text x="1315.5" y="765.0" font-size="35.2" text-anchor="middle" fill="#000">tumor volume</text>
<text x="1316.4" y="806.9" font-size="35.2" text-anchor="middle" fill="#000">measurement</text>
<text x="853.0" y="896.7" font-size="35.2" text-anchor="middle" fill="#000">Day 0</text>
<text x="1004.8" y="896.7" font-size="35.2" text-anchor="middle" fill="#000">7</text>
<text x="1099.4" y="873.3" font-size="35.2" text-anchor="middle" fill="#000">8</text>
<text x="852.9" y="939.0" font-size="35.2" text-anchor="middle" fill="#000">BBN963-hCD19</text>
<text x="1165.3" y="939.0" font-size="35.2" text-anchor="middle" fill="#000">CAR.CD19-T/NKTs</text>
<text x="784.4" y="980.5" font-size="30" text-anchor="start" fill="#000">s.c. <tspan font-size="33">3*10</tspan><tspan font-size="23" dy="-11">6</tspan></text>
<text x="1079.9" y="980.5" font-size="31" text-anchor="start" fill="#000">i.v. <tspan font-size="33.5">1.5x10</tspan><tspan font-size="23" dy="-11">6</tspan></text>
<text x="0.0" y="0.0" font-size="35.5" text-anchor="start" fill="#000" transform="translate(166.0,1198.5) rotate(-45)" style="font-kerning:normal">NT Ts</text>
<text x="0.0" y="0.0" font-size="35.5" text-anchor="start" fill="#000" transform="translate(272.3,1194.5) rotate(-45)" style="font-kerning:normal">CAR-Ts</text>
<text x="0.0" y="0.0" font-size="35.5" text-anchor="start" fill="#000" transform="translate(401.0,1200.4) rotate(-45)" style="font-kerning:normal">NT NKTs</text>
<text x="0.0" y="0.0" font-size="35.5" text-anchor="start" fill="#000" transform="translate(508.6,1199.7) rotate(-45)" style="font-kerning:normal">CAR-NKTs</text>
<defs>
<linearGradient id="bg" gradientUnits="userSpaceOnUse" x1="77" y1="1316" x2="600" y2="1190">
<stop offset="0" stop-color="#d8d8d5"/><stop offset="0.5" stop-color="#cfd0ce"/><stop offset="0.78" stop-color="#c0c3c2"/><stop offset="1" stop-color="#a9abab"/>
</linearGradient>
<radialGradient id="bg2" cx="1" cy="0" r="0.35" gradientTransform="translate(1 0) scale(1 5) translate(-1 0)">
<stop offset="0" stop-color="#9a9c9c" stop-opacity="0.7"/><stop offset="1" stop-color="#9a9c9c" stop-opacity="0"/>
</radialGradient>
<radialGradient id="tm" cx="0.4" cy="0.4" r="0.7">
<stop offset="0" stop-color="#cc9282"/><stop offset="0.55" stop-color="#b06c5c"/><stop offset="1" stop-color="#935246"/>
</radialGradient>
<filter id="sh" x="-30%" y="-30%" width="160%" height="160%"><feGaussianBlur stdDeviation="4"/></filter>
</defs>
<rect x="77.5" y="1215.4" width="514" height="100" fill="url(#bg)"/>
<path d="M123.0 1254.6 C125.0 1251.6 130.9 1248.4 135.0 1247.0 C139.1 1245.6 143.1 1245.6 147.4 1246.0 C151.7 1246.4 156.4 1247.7 161.0 1249.4 C165.6 1251.1 171.5 1253.1 175.0 1256.0 C178.5 1258.9 182.0 1262.6 182.0 1266.7 C182.0 1270.8 177.6 1276.8 175.0 1280.6 C172.4 1284.4 169.9 1286.8 166.5 1289.3 C163.1 1291.8 158.2 1294.3 154.4 1295.6 C150.7 1296.9 146.9 1298.1 144.0 1297.0 C141.1 1295.9 139.3 1292.6 137.0 1289.0 C134.7 1285.4 132.3 1279.4 130.0 1275.4 C127.7 1271.4 124.2 1268.5 123.0 1265.0 C121.8 1261.5 121.0 1257.6 123.0 1254.6Z" fill="#7e7e7e" opacity="0.6" filter="url(#sh)"/>
<path d="M248.0 1259.8 C249.8 1257.8 254.5 1256.6 258.5 1256.3 C262.5 1256.0 267.9 1258.4 272.0 1258.0 C276.1 1257.6 279.6 1254.6 282.8 1254.0 C286.1 1253.4 289.5 1253.3 291.5 1254.6 C293.5 1255.8 295.9 1258.3 295.0 1261.5 C294.1 1264.7 289.2 1270.0 286.0 1273.7 C282.8 1277.5 279.4 1281.9 276.0 1284.0 C272.6 1286.1 269.2 1287.3 265.4 1286.5 C261.6 1285.7 255.9 1282.0 253.0 1279.0 C250.1 1276.0 248.8 1271.7 248.0 1268.5 C247.2 1265.3 246.2 1261.8 248.0 1259.8Z" fill="#7e7e7e" opacity="0.6" filter="url(#sh)"/>
<path d="M381.7 1254.6 C383.9 1251.5 389.1 1249.4 394.0 1248.3 C398.9 1247.2 405.8 1246.9 411.0 1247.7 C416.2 1248.5 421.5 1250.4 425.0 1253.0 C428.5 1255.6 431.4 1259.8 432.0 1263.3 C432.6 1266.8 431.5 1270.8 428.6 1273.7 C425.7 1276.6 419.3 1279.3 414.7 1280.6 C410.1 1281.9 405.4 1282.3 400.8 1281.7 C396.2 1281.1 390.4 1279.5 387.0 1277.0 C383.6 1274.5 381.6 1270.4 380.7 1266.7 C379.8 1263.0 379.5 1257.7 381.7 1254.6Z" fill="#7e7e7e" opacity="0.6" filter="url(#sh)"/>
<path d="M517.0 1260.8 C517.6 1257.9 521.4 1253.1 524.0 1251.0 C526.6 1248.9 529.8 1248.0 532.7 1248.3 C535.6 1248.6 539.7 1250.1 541.4 1252.9 C543.1 1255.7 543.3 1261.8 543.0 1265.0 C542.7 1268.2 541.9 1270.5 539.6 1272.0 C537.3 1273.5 532.2 1274.3 529.0 1273.7 C525.8 1273.1 522.6 1270.7 520.6 1268.5 C518.6 1266.3 516.4 1263.7 517.0 1260.8Z" fill="#7e7e7e" opacity="0.6" filter="url(#sh)"/>
<path d="M115.0 1253.6 C117.0 1250.6 122.9 1247.4 127.0 1246.0 C131.1 1244.6 135.1 1244.6 139.4 1245.0 C143.7 1245.4 148.4 1246.7 153.0 1248.4 C157.6 1250.1 163.5 1252.1 167.0 1255.0 C170.5 1257.9 174.0 1261.6 174.0 1265.7 C174.0 1269.8 169.6 1275.8 167.0 1279.6 C164.4 1283.4 161.9 1285.8 158.5 1288.3 C155.1 1290.8 150.2 1293.3 146.4 1294.6 C142.7 1295.9 138.9 1297.1 136.0 1296.0 C133.1 1294.9 131.3 1291.6 129.0 1288.0 C126.7 1284.4 124.3 1278.4 122.0 1274.4 C119.7 1270.4 116.2 1267.5 115.0 1264.0 C113.8 1260.5 113.0 1256.6 115.0 1253.6Z" fill="url(#tm)" stroke="#a86052" stroke-width="1.2" stroke-linejoin="round"/>
<path d="M240.0 1258.8 C241.8 1256.8 246.5 1255.6 250.5 1255.3 C254.5 1255.0 259.9 1257.4 264.0 1257.0 C268.1 1256.6 271.6 1253.6 274.8 1253.0 C278.1 1252.4 281.5 1252.3 283.5 1253.6 C285.5 1254.8 287.9 1257.3 287.0 1260.5 C286.1 1263.7 281.2 1269.0 278.0 1272.7 C274.8 1276.5 271.4 1280.9 268.0 1283.0 C264.6 1285.1 261.2 1286.3 257.4 1285.5 C253.6 1284.7 247.9 1281.0 245.0 1278.0 C242.1 1275.0 240.8 1270.7 240.0 1267.5 C239.2 1264.3 238.2 1260.8 240.0 1258.8Z" fill="url(#tm)" stroke="#a86052" stroke-width="1.2" stroke-linejoin="round"/>
<path d="M373.7 1253.6 C375.9 1250.5 381.1 1248.4 386.0 1247.3 C390.9 1246.2 397.8 1245.9 403.0 1246.7 C408.2 1247.5 413.5 1249.4 417.0 1252.0 C420.5 1254.6 423.4 1258.8 424.0 1262.3 C424.6 1265.8 423.5 1269.8 420.6 1272.7 C417.7 1275.6 411.3 1278.3 406.7 1279.6 C402.1 1280.9 397.4 1281.3 392.8 1280.7 C388.2 1280.1 382.4 1278.5 379.0 1276.0 C375.6 1273.5 373.6 1269.4 372.7 1265.7 C371.8 1262.0 371.5 1256.7 373.7 1253.6Z" fill="url(#tm)" stroke="#a86052" stroke-width="1.2" stroke-linejoin="round"/>
<path d="M509.0 1259.8 C509.6 1256.9 513.4 1252.1 516.0 1250.0 C518.6 1247.9 521.8 1247.0 524.7 1247.3 C527.6 1247.6 531.7 1249.1 533.4 1251.9 C535.1 1254.7 535.3 1260.8 535.0 1264.0 C534.7 1267.2 533.9 1269.5 531.6 1271.0 C529.3 1272.5 524.2 1273.3 521.0 1272.7 C517.8 1272.1 514.6 1269.7 512.6 1267.5 C510.6 1265.3 508.4 1262.7 509.0 1259.8Z" fill="url(#tm)" stroke="#a86052" stroke-width="1.2" stroke-linejoin="round"/>
<filter id="bl2"><feGaussianBlur stdDeviation="1.8"/></filter><g opacity="0.5" filter="url(#bl2)"><ellipse cx="125" cy="1262" rx="5" ry="7" fill="#e8c0b0"/><ellipse cx="160" cy="1272" rx="6" ry="5" fill="#e0b8a8"/><ellipse cx="147" cy="1262" rx="7" ry="4" fill="#a04a40"/><ellipse cx="142" cy="1285" rx="6" ry="4" fill="#a85a50"/><ellipse cx="248" cy="1265" rx="4" ry="5" fill="#e8c0b0"/><ellipse cx="262" cy="1276" rx="5" ry="3" fill="#a85048"/><ellipse cx="278" cy="1260" rx="4" ry="5" fill="#dcb0a0"/><ellipse cx="395" cy="1262" rx="8" ry="6" fill="#a03a34"/><ellipse cx="410" cy="1270" rx="5" ry="4" fill="#e8c0b0"/><ellipse cx="382" cy="1258" rx="4" ry="5" fill="#dcb0a0"/><ellipse cx="523" cy="1262" rx="5" ry="4" fill="#a8483e"/></g>
<line x1="531.6" y1="1326.0" x2="571.4" y2="1326.0" stroke="#000" stroke-width="5"/>
<text x="554.3" y="1357.7" font-size="26" text-anchor="middle" fill="#000">1cm</text>
<line x1="176.0" y1="1467.0" x2="176.0" y2="1780.8" stroke="#000" stroke-width="3"/>
<line x1="163.0" y1="1779.3" x2="176.0" y2="1779.3" stroke="#000" stroke-width="3"/>
<line x1="163.0" y1="1701.6" x2="176.0" y2="1701.6" stroke="#000" stroke-width="3"/>
<text x="160.5" y="1711.7" font-size="28.5" text-anchor="end" fill="#000">200</text>
<line x1="163.0" y1="1623.9" x2="176.0" y2="1623.9" stroke="#000" stroke-width="3"/>
<text x="160.5" y="1634.0" font-size="28.5" text-anchor="end" fill="#000">400</text>
<line x1="163.0" y1="1546.2" x2="176.0" y2="1546.2" stroke="#000" stroke-width="3"/>
<text x="160.5" y="1556.3" font-size="28.5" text-anchor="end" fill="#000">600</text>
<line x1="163.0" y1="1468.5" x2="176.0" y2="1468.5" stroke="#000" stroke-width="3"/>
<text x="160.5" y="1478.6" font-size="28.5" text-anchor="end" fill="#000">800</text>
<text x="150.8" y="1789.1" font-size="28.5" text-anchor="end" fill="#000">0</text>
<line x1="163.0" y1="1779.3" x2="595.0" y2="1779.3" stroke="#000" stroke-width="3"/>
<line x1="176.0" y1="1779.3" x2="176.0" y2="1792.7" stroke="#000" stroke-width="3"/>
<text x="173.0" y="1816.6" font-size="28.5" text-anchor="middle" fill="#000">0</text>
<line x1="315.4" y1="1779.3" x2="315.4" y2="1792.7" stroke="#000" stroke-width="3"/>
<text x="315.4" y="1816.6" font-size="28.5" text-anchor="middle" fill="#000">10</text>
<line x1="454.8" y1="1779.3" x2="454.8" y2="1792.7" stroke="#000" stroke-width="3"/>
<text x="454.8" y="1816.6" font-size="28.5" text-anchor="middle" fill="#000">20</text>
<line x1="594.2" y1="1779.3" x2="594.2" y2="1792.7" stroke="#000" stroke-width="3"/>
<text x="594.2" y="1816.6" font-size="28.5" text-anchor="middle" fill="#000">30</text>
<text x="390.2" y="1858.0" font-size="35.2" text-anchor="middle" fill="#000">Day after tumor inoculation</text>
<text x="0.0" y="0.0" font-size="35.2" text-anchor="middle" fill="#000" transform="translate(81.4,1636.0) rotate(-90)">Tumor volume (mm<tspan font-size="23" dy="-13">3</tspan><tspan dy="13">)</tspan></text>
<line x1="440.9" y1="1742.4" x2="440.9" y2="1710.9" stroke="#9b1fe3" stroke-width="2"/>
<line x1="434.9" y1="1710.9" x2="446.9" y2="1710.9" stroke="#9b1fe3" stroke-width="2"/>
<line x1="496.6" y1="1736.6" x2="496.6" y2="1699.7" stroke="#9b1fe3" stroke-width="2"/>
<line x1="490.6" y1="1699.7" x2="502.6" y2="1699.7" stroke="#9b1fe3" stroke-width="2"/>
<path d="M259.6 1756.0 L301.5 1759.5 L343.3 1759.5 L385.1 1747.1 L440.9 1742.4 L496.6 1736.6" stroke="#9b1fe3" stroke-width="2" fill="none"/>
<path d="M259.6 1762.5 L265.6 1751.7 L253.6 1751.7Z" fill="#9b1fe3"/>
<path d="M301.5 1766.0 L307.5 1755.2 L295.5 1755.2Z" fill="#9b1fe3"/>
<path d="M343.3 1766.0 L349.3 1755.2 L337.3 1755.2Z" fill="#9b1fe3"/>
<path d="M385.1 1753.5 L391.1 1742.7 L379.1 1742.7Z" fill="#9b1fe3"/>
<path d="M440.9 1748.9 L446.9 1738.1 L434.9 1738.1Z" fill="#9b1fe3"/>
<path d="M496.6 1743.0 L502.6 1732.2 L490.6 1732.2Z" fill="#9b1fe3"/>
<line x1="301.5" y1="1752.1" x2="301.5" y2="1744.3" stroke="#ee4444" stroke-width="2"/>
<line x1="295.5" y1="1744.3" x2="307.5" y2="1744.3" stroke="#ee4444" stroke-width="2"/>
<line x1="496.6" y1="1696.5" x2="496.6" y2="1681.0" stroke="#ee4444" stroke-width="2"/>
<line x1="490.6" y1="1681.0" x2="502.6" y2="1681.0" stroke="#ee4444" stroke-width="2"/>
<path d="M259.6 1752.9 L301.5 1752.1 L343.3 1748.6 L385.1 1743.9 L440.9 1722.6 L496.6 1696.5" stroke="#ee4444" stroke-width="2" fill="none"/>
<circle cx="259.6" cy="1752.9" r="6.25" fill="#ee4444"/>
<circle cx="301.5" cy="1752.1" r="6.25" fill="#ee4444"/>
<circle cx="343.3" cy="1748.6" r="6.25" fill="#ee4444"/>
<circle cx="385.1" cy="1743.9" r="6.25" fill="#ee4444"/>
<circle cx="440.9" cy="1722.6" r="6.25" fill="#ee4444"/>
<circle cx="496.6" cy="1696.5" r="6.25" fill="#ee4444"/>
<line x1="259.6" y1="1756.8" x2="259.6" y2="1743.6" stroke="#0b0bf2" stroke-width="2"/>
<line x1="253.6" y1="1743.6" x2="265.6" y2="1743.6" stroke="#0b0bf2" stroke-width="2"/>
<line x1="385.1" y1="1737.7" x2="385.1" y2="1705.9" stroke="#0b0bf2" stroke-width="2"/>
<line x1="379.1" y1="1705.9" x2="391.1" y2="1705.9" stroke="#0b0bf2" stroke-width="2"/>
<line x1="496.6" y1="1653.0" x2="496.6" y2="1601.8" stroke="#0b0bf2" stroke-width="2"/>
<line x1="490.6" y1="1601.8" x2="502.6" y2="1601.8" stroke="#0b0bf2" stroke-width="2"/>
<path d="M259.6 1756.8 L301.5 1761.4 L343.3 1757.5 L385.1 1737.7 L440.9 1703.5 L496.6 1653.0" stroke="#0b0bf2" stroke-width="2" fill="none"/>
<path d="M259.6 1750.3 L265.6 1761.1 L253.6 1761.1Z" fill="#0b0bf2"/>
<path d="M301.5 1754.9 L307.5 1765.7 L295.5 1765.7Z" fill="#0b0bf2"/>
<path d="M343.3 1751.1 L349.3 1761.9 L337.3 1761.9Z" fill="#0b0bf2"/>
<path d="M385.1 1731.3 L391.1 1742.1 L379.1 1742.1Z" fill="#0b0bf2"/>
<path d="M440.9 1697.1 L446.9 1707.9 L434.9 1707.9Z" fill="#0b0bf2"/>
<path d="M496.6 1646.6 L502.6 1657.4 L490.6 1657.4Z" fill="#0b0bf2"/>
<line x1="301.5" y1="1752.9" x2="301.5" y2="1735.4" stroke="#000000" stroke-width="2"/>
<line x1="295.5" y1="1735.4" x2="307.5" y2="1735.4" stroke="#000000" stroke-width="2"/>
<line x1="343.3" y1="1733.1" x2="343.3" y2="1703.9" stroke="#000000" stroke-width="2"/>
<line x1="337.3" y1="1703.9" x2="349.3" y2="1703.9" stroke="#000000" stroke-width="2"/>
<line x1="385.1" y1="1723.7" x2="385.1" y2="1695.4" stroke="#000000" stroke-width="2"/>
<line x1="379.1" y1="1695.4" x2="391.1" y2="1695.4" stroke="#000000" stroke-width="2"/>
<line x1="440.9" y1="1693.4" x2="440.9" y2="1653.8" stroke="#000000" stroke-width="2"/>
<line x1="434.9" y1="1653.8" x2="446.9" y2="1653.8" stroke="#000000" stroke-width="2"/>
<line x1="496.6" y1="1592.4" x2="496.6" y2="1552.4" stroke="#000000" stroke-width="2"/>
<line x1="490.6" y1="1552.4" x2="502.6" y2="1552.4" stroke="#000000" stroke-width="2"/>
<path d="M259.6 1760.3 L301.5 1752.9 L343.3 1733.1 L385.1 1723.7 L440.9 1693.4 L496.6 1592.4" stroke="#000000" stroke-width="2" fill="none"/>
<rect x="253.6" y="1754.3" width="12" height="12" fill="#000000"/>
<rect x="295.5" y="1746.9" width="12" height="12" fill="#000000"/>
<rect x="337.3" y="1727.1" width="12" height="12" fill="#000000"/>
<rect x="379.1" y="1717.7" width="12" height="12" fill="#000000"/>
<rect x="434.9" y="1687.4" width="12" height="12" fill="#000000"/>
<rect x="490.6" y="1586.4" width="12" height="12" fill="#000000"/>
<line x1="192.4" y1="1414.8" x2="221.6" y2="1414.8" stroke="#000000" stroke-width="2"/>
<rect x="200.0" y="1408.8" width="12" height="12" fill="#000000"/>
<text x="238.0" y="1424.5" font-size="26" text-anchor="start" fill="#000">NT Ts</text>
<line x1="192.4" y1="1456.3" x2="221.6" y2="1456.3" stroke="#ee4444" stroke-width="2"/>
<circle cx="206.0" cy="1456.3" r="6.0" fill="#ee4444"/>
<text x="238.0" y="1466.0" font-size="26" text-anchor="start" fill="#000">CAR-Ts</text>
<line x1="192.4" y1="1498.3" x2="221.6" y2="1498.3" stroke="#0b0bf2" stroke-width="2"/>
<path d="M206.0 1491.8 L212.0 1502.6 L200.0 1502.6Z" fill="#0b0bf2"/>
<text x="238.0" y="1508.0" font-size="26" text-anchor="start" fill="#000">NT NKTs</text>
<line x1="192.4" y1="1539.7" x2="221.6" y2="1539.7" stroke="#9b1fe3" stroke-width="2"/>
<path d="M206.0 1546.2 L212.0 1535.4 L200.0 1535.4Z" fill="#9b1fe3"/>
<text x="238.0" y="1549.4" font-size="26" text-anchor="start" fill="#000">CAR-NKTs</text>
<path d="M350.0 1412.4 L362.0 1412.4 L362.0 1457.2 L350.0 1457.2" stroke="#000" stroke-width="3" fill="none"/>
<text x="365.5" y="1405.4" font-size="25" text-anchor="middle" fill="#000"><tspan font-style="italic">p</tspan>&lt;0.0001</text>
<path d="M350.0 1462.0 L362.0 1462.0 L362.0 1504.4 L350.0 1504.4" stroke="#000" stroke-width="3" fill="none"/>
<text x="429.6" y="1471.4" font-size="25" text-anchor="middle" fill="#000"><tspan font-style="italic">p</tspan>=0.0125</text>
<path d="M366.0 1505.3 L378.6 1505.3 L378.6 1548.2 L366.0 1548.2" stroke="#000" stroke-width="3" fill="none"/>
<text x="441.8" y="1537.4" font-size="25" text-anchor="middle" fill="#000"><tspan font-style="italic">p</tspan>=0.0280</text>
<path d="M503.6 1412.4 L514.0 1412.4 L514.0 1510.5 L503.6 1510.5" stroke="#000" stroke-width="3" fill="none"/>
<text x="517.0" y="1408.7" font-size="25" text-anchor="middle" fill="#000"><tspan font-style="italic">p</tspan>=0.0016</text>
<path d="M555.5 1412.4 L565.8 1412.4 L565.8 1544.5 L555.5 1544.5" stroke="#000" stroke-width="3" fill="none"/>
<text x="638.9" y="1466.7" font-size="25" text-anchor="middle" fill="#000"><tspan font-style="italic">p</tspan>&lt;0.0001</text>
<line x1="920.8" y1="1324.0" x2="920.8" y2="1666.9" stroke="#000" stroke-width="3"/>
<line x1="909.5" y1="1665.4" x2="920.8" y2="1665.4" stroke="#000" stroke-width="3"/>
<line x1="909.5" y1="1510.7" x2="920.8" y2="1510.7" stroke="#000" stroke-width="3"/>
<line x1="909.5" y1="1356.0" x2="920.8" y2="1356.0" stroke="#000" stroke-width="3"/>
<line x1="914.5" y1="1588.1" x2="920.8" y2="1588.1" stroke="#000" stroke-width="2.5"/>
<line x1="914.5" y1="1433.4" x2="920.8" y2="1433.4" stroke="#000" stroke-width="2.5"/>
<text x="912.5" y="1374.2" font-size="34.5" text-anchor="end" fill="#000">100</text>
<text x="908.5" y="1528.2" font-size="34.5" text-anchor="end" fill="#000">50</text>
<text x="908.5" y="1685.9" font-size="34.5" text-anchor="end" fill="#000">0</text>
<line x1="906.3" y1="1665.4" x2="1435.0" y2="1665.4" stroke="#000" stroke-width="3"/>
<line x1="920.8" y1="1665.4" x2="920.8" y2="1680.8" stroke="#000" stroke-width="3"/>
<line x1="1023.6" y1="1665.4" x2="1023.6" y2="1680.8" stroke="#000" stroke-width="3"/>
<line x1="1126.5" y1="1665.4" x2="1126.5" y2="1680.8" stroke="#000" stroke-width="3"/>
<line x1="1229.3" y1="1665.4" x2="1229.3" y2="1680.8" stroke="#000" stroke-width="3"/>
<line x1="1332.2" y1="1665.4" x2="1332.2" y2="1680.8" stroke="#000" stroke-width="3"/>
<line x1="1435.0" y1="1665.4" x2="1435.0" y2="1680.8" stroke="#000" stroke-width="3"/>
<text x="923.5" y="1719.5" font-size="34.5" text-anchor="middle" fill="#000">0</text>
<text x="1029.5" y="1719.5" font-size="34.5" text-anchor="middle" fill="#000">10</text>
<text x="1131.5" y="1719.5" font-size="34.5" text-anchor="middle" fill="#000">20</text>
<text x="1234.5" y="1719.5" font-size="34.5" text-anchor="middle" fill="#000">30</text>
<text x="1336.5" y="1719.5" font-size="34.5" text-anchor="middle" fill="#000">40</text>
<text x="1439.5" y="1719.5" font-size="34.5" text-anchor="middle" fill="#000">50</text>
<text x="1204.6" y="1764.0" font-size="35.2" text-anchor="middle" fill="#000">Day after tumor inoculation</text>
<text x="0.0" y="0.0" font-size="35.2" text-anchor="middle" fill="#000" transform="translate(843.5,1539.3) rotate(-90)">Percent survival</text>
<path d="M920.8 1356.0 L1157.4 1356.0 L1157.4 1417.9 L1208.8 1417.9 L1208.8 1479.8 L1280.8 1479.8 L1280.8 1541.6 L1332.2 1541.6 L1332.2 1603.5 L1383.6 1603.5 L1383.6 1665.4" stroke="#f20d0d" stroke-width="3" fill="none" stroke-linejoin="miter" stroke-linecap="square"/>
<path d="M920.8 1356.0 L1157.4 1356.0 L1157.4 1479.8 L1219.1 1479.8 L1219.1 1541.6 L1280.8 1541.6 L1280.8 1603.5 L1332.2 1603.5 L1332.2 1665.4" stroke="#0b0bf2" stroke-width="3" fill="none" stroke-linejoin="miter" stroke-linecap="square"/>
<path d="M1157.4 1356.0 L1219.1 1356.0 L1219.1 1417.9 L1383.6 1417.9" stroke="#9b1fe3" stroke-width="3" fill="none"/>
<path d="M920.8 1356.0 L1157.4 1356.0 L1157.4 1479.8 L1198.5 1479.8 L1198.5 1541.6 L1219.1 1541.6 L1219.1 1603.5 L1249.9 1603.5 L1249.9 1665.4" stroke="#000000" stroke-width="3" fill="none" stroke-linejoin="miter" stroke-linecap="square"/>
<line x1="920.8" y1="1356.0" x2="1157.4" y2="1356.0" stroke="#000000" stroke-width="3"/>
<line x1="1219.1" y1="1413.9" x2="1219.1" y2="1419.9" stroke="#33dd33" stroke-width="3"/>
<line x1="1383.6" y1="1413.9" x2="1383.6" y2="1419.9" stroke="#33dd33" stroke-width="3"/>
<line x1="920.5" y1="1164.8" x2="957.3" y2="1164.8" stroke="#000000" stroke-width="3"/>
<line x1="938.9" y1="1159.3" x2="938.9" y2="1164.8" stroke="#000000" stroke-width="2"/>
<text x="977.7" y="1185.7" font-size="35.2" text-anchor="start" fill="#000">NT Ts</text>
<line x1="920.5" y1="1207.1" x2="957.3" y2="1207.1" stroke="#f20d0d" stroke-width="3"/>
<line x1="938.9" y1="1201.6" x2="938.9" y2="1207.1" stroke="#f20d0d" stroke-width="2"/>
<text x="977.7" y="1228.5" font-size="35.2" text-anchor="start" fill="#000">CAR-Ts</text>
<line x1="920.5" y1="1249.5" x2="957.3" y2="1249.5" stroke="#0b0bf2" stroke-width="3"/>
<line x1="938.9" y1="1244.0" x2="938.9" y2="1249.5" stroke="#0b0bf2" stroke-width="2"/>
<text x="977.7" y="1270.9" font-size="35.2" text-anchor="start" fill="#000">NT NKTs</text>
<line x1="920.5" y1="1291.8" x2="957.3" y2="1291.8" stroke="#9b1fe3" stroke-width="3"/>
<line x1="938.9" y1="1286.3" x2="938.9" y2="1291.8" stroke="#9b1fe3" stroke-width="2"/>
<text x="977.7" y="1313.2" font-size="35.2" text-anchor="start" fill="#000">CAR-NKTs</text>
<path d="M1165.4 1158.4 L1178.8 1158.4 L1178.8 1306.7 L1165.4 1306.7" stroke="#000" stroke-width="3" fill="none"/>
<text x="1240.5" y="1188.7" font-size="25" text-anchor="middle" fill="#000"><tspan font-style="italic">p</tspan>=0.0086</text>
<path d="M1260.0 1215.6 L1273.4 1215.6 L1273.4 1305.2 L1260.0 1305.2" stroke="#000" stroke-width="3" fill="none"/>
<text x="1334.0" y="1263.4" font-size="25" text-anchor="middle" fill="#000"><tspan font-style="italic">p</tspan>=0.0197</text>
<line x1="137.5" y1="2037.3" x2="137.5" y2="2362.1" stroke="#000" stroke-width="3"/>
<line x1="122.0" y1="2360.6" x2="137.5" y2="2360.6" stroke="#000" stroke-width="3"/>
<text x="122.0" y="2375.0" font-size="29.4" text-anchor="end" fill="#000">0</text>
<line x1="122.0" y1="2296.2" x2="137.5" y2="2296.2" stroke="#000" stroke-width="3"/>
<text x="122.0" y="2310.6" font-size="29.4" text-anchor="end" fill="#000">5</text>
<line x1="122.0" y1="2231.9" x2="137.5" y2="2231.9" stroke="#000" stroke-width="3"/>
<text x="122.0" y="2246.3" font-size="29.4" text-anchor="end" fill="#000">10</text>
<line x1="122.0" y1="2167.5" x2="137.5" y2="2167.5" stroke="#000" stroke-width="3"/>
<text x="122.0" y="2181.9" font-size="29.4" text-anchor="end" fill="#000">15</text>
<line x1="122.0" y1="2103.2" x2="137.5" y2="2103.2" stroke="#000" stroke-width="3"/>
<text x="122.0" y="2117.6" font-size="29.4" text-anchor="end" fill="#000">20</text>
<line x1="122.0" y1="2038.8" x2="137.5" y2="2038.8" stroke="#000" stroke-width="3"/>
<text x="122.0" y="2053.2" font-size="29.4" text-anchor="end" fill="#000">25</text>
<line x1="122.0" y1="2360.6" x2="639.7" y2="2360.6" stroke="#000" stroke-width="3"/>
<line x1="258.5" y1="2360.6" x2="258.5" y2="2374.3" stroke="#000" stroke-width="3"/>
<line x1="518.2" y1="2360.6" x2="518.2" y2="2374.3" stroke="#000" stroke-width="3"/>
<text x="254.7" y="2411.0" font-size="35.2" text-anchor="middle" fill="#000">Car12</text>
<text x="516.2" y="2411.0" font-size="35.2" text-anchor="middle" fill="#000">Grin1</text>
<text x="0.0" y="0.0" font-size="35.2" text-anchor="middle" fill="#000" transform="translate(74.3,2182.0) rotate(-90)">%CD8 <tspan font-size="22" dy="-12">+</tspan><tspan dy="12">T cells</tspan></text>
<line x1="175.0" y1="2244.0" x2="175.0" y2="2258.9" stroke="#000000" stroke-width="2.5"/>
<line x1="168.0" y1="2244.0" x2="182.0" y2="2244.0" stroke="#000000" stroke-width="2.5"/>
<line x1="168.0" y1="2258.9" x2="182.0" y2="2258.9" stroke="#000000" stroke-width="2.5"/>
<line x1="158.0" y1="2252.3" x2="192.0" y2="2252.3" stroke="#000000" stroke-width="3"/>
<circle cx="175.4" cy="2239.2" r="5.5" fill="#000000"/>
<circle cx="162.3" cy="2260.5" r="5.5" fill="#000000"/>
<circle cx="179.3" cy="2260.5" r="5.5" fill="#000000"/>
<circle cx="189.1" cy="2252.3" r="5.5" fill="#000000"/>
<circle cx="171.1" cy="2251.3" r="5.5" fill="#000000"/>
<line x1="231.0" y1="2201.0" x2="231.0" y2="2271.8" stroke="#f20d0d" stroke-width="2.5"/>
<line x1="224.0" y1="2201.0" x2="238.0" y2="2201.0" stroke="#f20d0d" stroke-width="2.5"/>
<line x1="224.0" y1="2271.8" x2="238.0" y2="2271.8" stroke="#f20d0d" stroke-width="2.5"/>
<line x1="212.0" y1="2235.7" x2="250.0" y2="2235.7" stroke="#f20d0d" stroke-width="3"/>
<rect x="225.0" y="2186.0" width="12" height="12" fill="#f20d0d"/>
<rect x="225.0" y="2210.4" width="12" height="12" fill="#f20d0d"/>
<rect x="225.0" y="2224.6" width="12" height="12" fill="#f20d0d"/>
<rect x="225.0" y="2252.1" width="12" height="12" fill="#f20d0d"/>
<rect x="225.0" y="2277.4" width="12" height="12" fill="#f20d0d"/>
<line x1="286.0" y1="2195.8" x2="286.0" y2="2307.8" stroke="#0b0bf2" stroke-width="2.5"/>
<line x1="279.0" y1="2195.8" x2="293.0" y2="2195.8" stroke="#0b0bf2" stroke-width="2.5"/>
<line x1="279.0" y1="2307.8" x2="293.0" y2="2307.8" stroke="#0b0bf2" stroke-width="2.5"/>
<line x1="267.0" y1="2252.5" x2="305.0" y2="2252.5" stroke="#0b0bf2" stroke-width="3"/>
<path d="M286.0 2149.5 L292.0 2160.3 L280.0 2160.3Z" fill="#0b0bf2"/>
<path d="M286.0 2245.9 L292.0 2256.7 L280.0 2256.7Z" fill="#0b0bf2"/>
<path d="M286.0 2265.6 L292.0 2276.4 L280.0 2276.4Z" fill="#0b0bf2"/>
<path d="M286.0 2278.6 L292.0 2289.4 L280.0 2289.4Z" fill="#0b0bf2"/>
<path d="M286.0 2290.0 L292.0 2300.8 L280.0 2300.8Z" fill="#0b0bf2"/>
<line x1="342.0" y1="2101.9" x2="342.0" y2="2208.7" stroke="#9b1fe3" stroke-width="2.5"/>
<line x1="335.0" y1="2101.9" x2="349.0" y2="2101.9" stroke="#9b1fe3" stroke-width="2.5"/>
<line x1="335.0" y1="2208.7" x2="349.0" y2="2208.7" stroke="#9b1fe3" stroke-width="2.5"/>
<line x1="323.0" y1="2155.9" x2="361.0" y2="2155.9" stroke="#9b1fe3" stroke-width="3"/>
<path d="M342.0 2068.4 L348.0 2057.6 L336.0 2057.6Z" fill="#9b1fe3"/>
<path d="M342.0 2162.4 L348.0 2151.6 L336.0 2151.6Z" fill="#9b1fe3"/>
<path d="M328.5 2186.9 L334.5 2176.1 L322.5 2176.1Z" fill="#9b1fe3"/>
<path d="M355.5 2190.0 L361.5 2179.2 L349.5 2179.2Z" fill="#9b1fe3"/>
<path d="M328.5 2196.5 L334.5 2185.7 L322.5 2185.7Z" fill="#9b1fe3"/>
<line x1="434.6" y1="2312.3" x2="434.6" y2="2319.4" stroke="#000000" stroke-width="2.5"/>
<line x1="427.6" y1="2312.3" x2="441.6" y2="2312.3" stroke="#000000" stroke-width="2.5"/>
<line x1="427.6" y1="2319.4" x2="441.6" y2="2319.4" stroke="#000000" stroke-width="2.5"/>
<line x1="417.6" y1="2316.1" x2="451.6" y2="2316.1" stroke="#000000" stroke-width="3"/>
<circle cx="422.3" cy="2309.6" r="5.5" fill="#000000"/>
<circle cx="422.3" cy="2322.8" r="5.5" fill="#000000"/>
<circle cx="438.7" cy="2318.8" r="5.5" fill="#000000"/>
<circle cx="447.8" cy="2314.5" r="5.5" fill="#000000"/>
<circle cx="431.4" cy="2314.5" r="5.5" fill="#000000"/>
<line x1="490.7" y1="2220.3" x2="490.7" y2="2304.0" stroke="#f20d0d" stroke-width="2.5"/>
<line x1="483.7" y1="2220.3" x2="497.7" y2="2220.3" stroke="#f20d0d" stroke-width="2.5"/>
<line x1="483.7" y1="2304.0" x2="497.7" y2="2304.0" stroke="#f20d0d" stroke-width="2.5"/>
<line x1="471.7" y1="2262.8" x2="509.7" y2="2262.8" stroke="#f20d0d" stroke-width="3"/>
<rect x="484.7" y="2187.3" width="12" height="12" fill="#f20d0d"/>
<rect x="484.7" y="2250.3" width="12" height="12" fill="#f20d0d"/>
<rect x="471.7" y="2269.6" width="12" height="12" fill="#f20d0d"/>
<rect x="497.7" y="2270.9" width="12" height="12" fill="#f20d0d"/>
<rect x="484.7" y="2301.8" width="12" height="12" fill="#f20d0d"/>
<line x1="546.2" y1="2265.3" x2="546.2" y2="2327.1" stroke="#0b0bf2" stroke-width="2.5"/>
<line x1="539.2" y1="2265.3" x2="553.2" y2="2265.3" stroke="#0b0bf2" stroke-width="2.5"/>
<line x1="539.2" y1="2327.1" x2="553.2" y2="2327.1" stroke="#0b0bf2" stroke-width="2.5"/>
<line x1="527.2" y1="2296.2" x2="565.2" y2="2296.2" stroke="#0b0bf2" stroke-width="3"/>
<path d="M546.2 2251.1 L552.2 2261.9 L540.2 2261.9Z" fill="#0b0bf2"/>
<path d="M546.2 2261.4 L552.2 2272.2 L540.2 2272.2Z" fill="#0b0bf2"/>
<path d="M533.2 2303.9 L539.2 2314.7 L527.2 2314.7Z" fill="#0b0bf2"/>
<path d="M559.2 2303.9 L565.2 2314.7 L553.2 2314.7Z" fill="#0b0bf2"/>
<path d="M546.2 2325.8 L552.2 2336.6 L540.2 2336.6Z" fill="#0b0bf2"/>
<line x1="601.2" y1="2141.8" x2="601.2" y2="2207.4" stroke="#9b1fe3" stroke-width="2.5"/>
<line x1="594.2" y1="2141.8" x2="608.2" y2="2141.8" stroke="#9b1fe3" stroke-width="2.5"/>
<line x1="594.2" y1="2207.4" x2="608.2" y2="2207.4" stroke="#9b1fe3" stroke-width="2.5"/>
<line x1="582.2" y1="2175.2" x2="620.2" y2="2175.2" stroke="#9b1fe3" stroke-width="3"/>
<path d="M601.2 2132.8 L607.2 2122.0 L595.2 2122.0Z" fill="#9b1fe3"/>
<path d="M588.2 2173.6 L594.2 2162.8 L582.2 2162.8Z" fill="#9b1fe3"/>
<path d="M614.2 2173.6 L620.2 2162.8 L608.2 2162.8Z" fill="#9b1fe3"/>
<path d="M588.2 2216.2 L594.2 2205.4 L582.2 2205.4Z" fill="#9b1fe3"/>
<path d="M614.2 2208.0 L620.2 2197.2 L608.2 2197.2Z" fill="#9b1fe3"/>
<path d="M294.3 1958.0 L294.3 1941.4 L342.1 1941.4 L342.1 1958.0" stroke="#000" stroke-width="3" fill="none" stroke-linejoin="miter"/>
<text x="303.9" y="1935.9" font-size="25" text-anchor="middle" fill="#000"><tspan font-style="italic">p</tspan>=0.0016</text>
<path d="M253.0 2007.4 L253.0 1990.4 L342.1 1990.4 L342.1 2007.4" stroke="#000" stroke-width="3" fill="none" stroke-linejoin="miter"/>
<text x="291.3" y="1982.0" font-size="25" text-anchor="middle" fill="#000"><tspan font-style="italic">p</tspan>=0.0095</text>
<path d="M191.4 2056.4 L191.4 2038.8 L342.1 2038.8 L342.1 2056.4" stroke="#000" stroke-width="3" fill="none" stroke-linejoin="miter"/>
<text x="268.2" y="2030.5" font-size="25" text-anchor="middle" fill="#000"><tspan font-style="italic">p</tspan>=0.0015</text>
<path d="M552.8 2016.8 L552.8 2000.3 L601.2 2000.3 L601.2 2016.8" stroke="#000" stroke-width="3" fill="none" stroke-linejoin="miter"/>
<text x="570.7" y="1992.0" font-size="25" text-anchor="middle" fill="#000"><tspan font-style="italic">p</tspan>&lt;0.0001</text>
<path d="M528.0 2070.0 L528.0 2052.5 L601.2 2052.5 L601.2 2070.0" stroke="#000" stroke-width="3" fill="none" stroke-linejoin="miter"/>
<text x="546.0" y="2043.2" font-size="25" text-anchor="middle" fill="#000"><tspan font-style="italic">p</tspan>=0.0044</text>
<path d="M451.0 2118.5 L451.0 2102.0 L601.2 2102.0 L601.2 2118.5" stroke="#000" stroke-width="3" fill="none" stroke-linejoin="miter"/>
<text x="535.0" y="2095.4" font-size="25" text-anchor="middle" fill="#000"><tspan font-style="italic">p</tspan>&lt;0.0001</text>
<circle cx="651.8" cy="1935.4" r="6" fill="#000000"/>
<rect x="645.8" y="1973.4" width="12" height="12" fill="#f20d0d"/>
<path d="M651.8 2016.7 L658.0 2027.9 L645.5 2027.9Z" fill="#0b0bf2"/>
<path d="M651.8 2072.8 L657.8 2062.0 L645.8 2062.0Z" fill="#9b1fe3"/>
<text x="692.0" y="1945.3" font-size="25.5" text-anchor="start" fill="#000">NT Ts</text>
<text x="692.0" y="1989.3" font-size="25.5" text-anchor="start" fill="#000">CAR-Ts</text>
<text x="692.0" y="2032.2" font-size="25.5" text-anchor="start" fill="#000">NT NKTs</text>
<text x="692.0" y="2075.6" font-size="25.5" text-anchor="start" fill="#000">CAR-NKTs</text>
<line x1="1103.7" y1="2028.0" x2="1103.7" y2="2356.5" stroke="#000" stroke-width="3"/>
<line x1="1090.0" y1="2355.0" x2="1103.7" y2="2355.0" stroke="#000" stroke-width="3"/>
<text x="1082.5" y="2363.4" font-size="29.4" text-anchor="end" fill="#000">0</text>
<line x1="1090.0" y1="2289.9" x2="1103.7" y2="2289.9" stroke="#000" stroke-width="3"/>
<text x="1082.5" y="2298.3" font-size="29.4" text-anchor="end" fill="#000">5</text>
<line x1="1090.0" y1="2224.8" x2="1103.7" y2="2224.8" stroke="#000" stroke-width="3"/>
<text x="1082.5" y="2233.2" font-size="29.4" text-anchor="end" fill="#000">10</text>
<line x1="1090.0" y1="2159.7" x2="1103.7" y2="2159.7" stroke="#000" stroke-width="3"/>
<text x="1082.5" y="2168.1" font-size="29.4" text-anchor="end" fill="#000">15</text>
<line x1="1090.0" y1="2094.6" x2="1103.7" y2="2094.6" stroke="#000" stroke-width="3"/>
<text x="1082.5" y="2103.0" font-size="29.4" text-anchor="end" fill="#000">20</text>
<line x1="1090.0" y1="2029.5" x2="1103.7" y2="2029.5" stroke="#000" stroke-width="3"/>
<text x="1082.5" y="2037.9" font-size="29.4" text-anchor="end" fill="#000">25</text>
<line x1="1090.0" y1="2355.0" x2="1322.3" y2="2355.0" stroke="#000" stroke-width="3"/>
<line x1="1126.4" y1="2355.0" x2="1126.4" y2="2369.0" stroke="#000" stroke-width="3"/>
<line x1="1183.5" y1="2355.0" x2="1183.5" y2="2369.0" stroke="#000" stroke-width="3"/>
<line x1="1240.9" y1="2355.0" x2="1240.9" y2="2369.0" stroke="#000" stroke-width="3"/>
<line x1="1297.5" y1="2355.0" x2="1297.5" y2="2369.0" stroke="#000" stroke-width="3"/>
<text x="0.0" y="0.0" font-size="35.2" text-anchor="middle" fill="#000" transform="translate(1022.0,2189.5) rotate(-90)">% NKs in CD45<tspan font-size="22" dy="-12">+</tspan><tspan dy="12"> cells</tspan></text>
<line x1="1126.4" y1="2214.4" x2="1126.4" y2="2254.7" stroke="#000000" stroke-width="2.5"/>
<line x1="1120.4" y1="2214.4" x2="1132.4" y2="2214.4" stroke="#000000" stroke-width="2.5"/>
<line x1="1120.4" y1="2254.7" x2="1132.4" y2="2254.7" stroke="#000000" stroke-width="2.5"/>
<line x1="1114.4" y1="2233.9" x2="1138.4" y2="2233.9" stroke="#000000" stroke-width="3"/>
<circle cx="1126.4" cy="2204.0" r="5.5" fill="#000000"/>
<circle cx="1133.4" cy="2226.1" r="5.5" fill="#000000"/>
<circle cx="1120.4" cy="2235.2" r="5.5" fill="#000000"/>
<circle cx="1133.4" cy="2249.5" r="5.5" fill="#000000"/>
<circle cx="1120.4" cy="2256.0" r="5.5" fill="#000000"/>
<line x1="1183.5" y1="2176.6" x2="1183.5" y2="2243.0" stroke="#f20d0d" stroke-width="2.5"/>
<line x1="1177.5" y1="2176.6" x2="1189.5" y2="2176.6" stroke="#f20d0d" stroke-width="2.5"/>
<line x1="1177.5" y1="2243.0" x2="1189.5" y2="2243.0" stroke="#f20d0d" stroke-width="2.5"/>
<line x1="1171.5" y1="2210.5" x2="1195.5" y2="2210.5" stroke="#f20d0d" stroke-width="3"/>
<rect x="1177.5" y="2160.2" width="12" height="12" fill="#f20d0d"/>
<rect x="1177.5" y="2182.3" width="12" height="12" fill="#f20d0d"/>
<rect x="1177.5" y="2209.7" width="12" height="12" fill="#f20d0d"/>
<rect x="1177.5" y="2220.1" width="12" height="12" fill="#f20d0d"/>
<rect x="1177.5" y="2247.4" width="12" height="12" fill="#f20d0d"/>
<line x1="1240.9" y1="2098.5" x2="1240.9" y2="2222.2" stroke="#0b0bf2" stroke-width="2.5"/>
<line x1="1234.9" y1="2098.5" x2="1246.9" y2="2098.5" stroke="#0b0bf2" stroke-width="2.5"/>
<line x1="1234.9" y1="2222.2" x2="1246.9" y2="2222.2" stroke="#0b0bf2" stroke-width="2.5"/>
<line x1="1228.9" y1="2162.3" x2="1252.9" y2="2162.3" stroke="#0b0bf2" stroke-width="3"/>
<path d="M1240.9 2090.7 L1246.9 2101.5 L1234.9 2101.5Z" fill="#0b0bf2"/>
<path d="M1240.9 2114.2 L1246.9 2125.0 L1234.9 2125.0Z" fill="#0b0bf2"/>
<path d="M1240.9 2146.7 L1246.9 2157.5 L1234.9 2157.5Z" fill="#0b0bf2"/>
<path d="M1240.9 2180.6 L1246.9 2191.4 L1234.9 2191.4Z" fill="#0b0bf2"/>
<path d="M1240.9 2247.0 L1246.9 2257.8 L1234.9 2257.8Z" fill="#0b0bf2"/>
<line x1="1297.5" y1="2058.1" x2="1297.5" y2="2136.3" stroke="#9b1fe3" stroke-width="2.5"/>
<line x1="1291.5" y1="2058.1" x2="1303.5" y2="2058.1" stroke="#9b1fe3" stroke-width="2.5"/>
<line x1="1291.5" y1="2136.3" x2="1303.5" y2="2136.3" stroke="#9b1fe3" stroke-width="2.5"/>
<line x1="1285.5" y1="2097.2" x2="1309.5" y2="2097.2" stroke="#9b1fe3" stroke-width="3"/>
<path d="M1290.5 2067.2 L1296.5 2056.4 L1284.5 2056.4Z" fill="#9b1fe3"/>
<path d="M1305.0 2071.1 L1311.0 2060.3 L1299.0 2060.3Z" fill="#9b1fe3"/>
<path d="M1297.5 2099.8 L1303.5 2089.0 L1291.5 2089.0Z" fill="#9b1fe3"/>
<path d="M1297.5 2110.2 L1303.5 2099.4 L1291.5 2099.4Z" fill="#9b1fe3"/>
<path d="M1297.5 2163.6 L1303.5 2152.8 L1291.5 2152.8Z" fill="#9b1fe3"/>
<path d="M1192.1 1962.5 L1192.1 1946.0 L1288.4 1946.0 L1288.4 1962.5" stroke="#000" stroke-width="3" fill="none" stroke-linejoin="miter"/>
<text x="1242.0" y="1933.1" font-size="25" text-anchor="middle" fill="#000"><tspan font-style="italic">p</tspan>=0.0182</text>
<path d="M1128.1 2038.5 L1128.1 2021.2 L1287.6 2021.2 L1287.6 2038.5" stroke="#000" stroke-width="3" fill="none" stroke-linejoin="miter"/>
<text x="1220.5" y="2004.6" font-size="25" text-anchor="middle" fill="#000"><tspan font-style="italic">p</tspan>=0.0020</text>
<circle cx="1338.0" cy="1999.7" r="5.5" fill="#000000"/>
<rect x="1333.0" y="2034.0" width="10" height="10" fill="#f20d0d"/>
<path d="M1338.0 2073.1 L1343.5 2083.0 L1332.5 2083.0Z" fill="#0b0bf2"/>
<path d="M1338.0 2124.2 L1343.5 2114.3 L1332.5 2114.3Z" fill="#9b1fe3"/>
<text x="1365.0" y="2008.0" font-size="29" text-anchor="start" fill="#000">NT Ts</text>
<text x="1365.0" y="2048.0" font-size="29" text-anchor="start" fill="#000">CAR-Ts</text>
<text x="1365.0" y="2088.5" font-size="29" text-anchor="start" fill="#000">NT NKTs</text>
<text x="1365.0" y="2127.8" font-size="29" text-anchor="start" fill="#000">CAR-NKTs</text>
</svg></body></html>
